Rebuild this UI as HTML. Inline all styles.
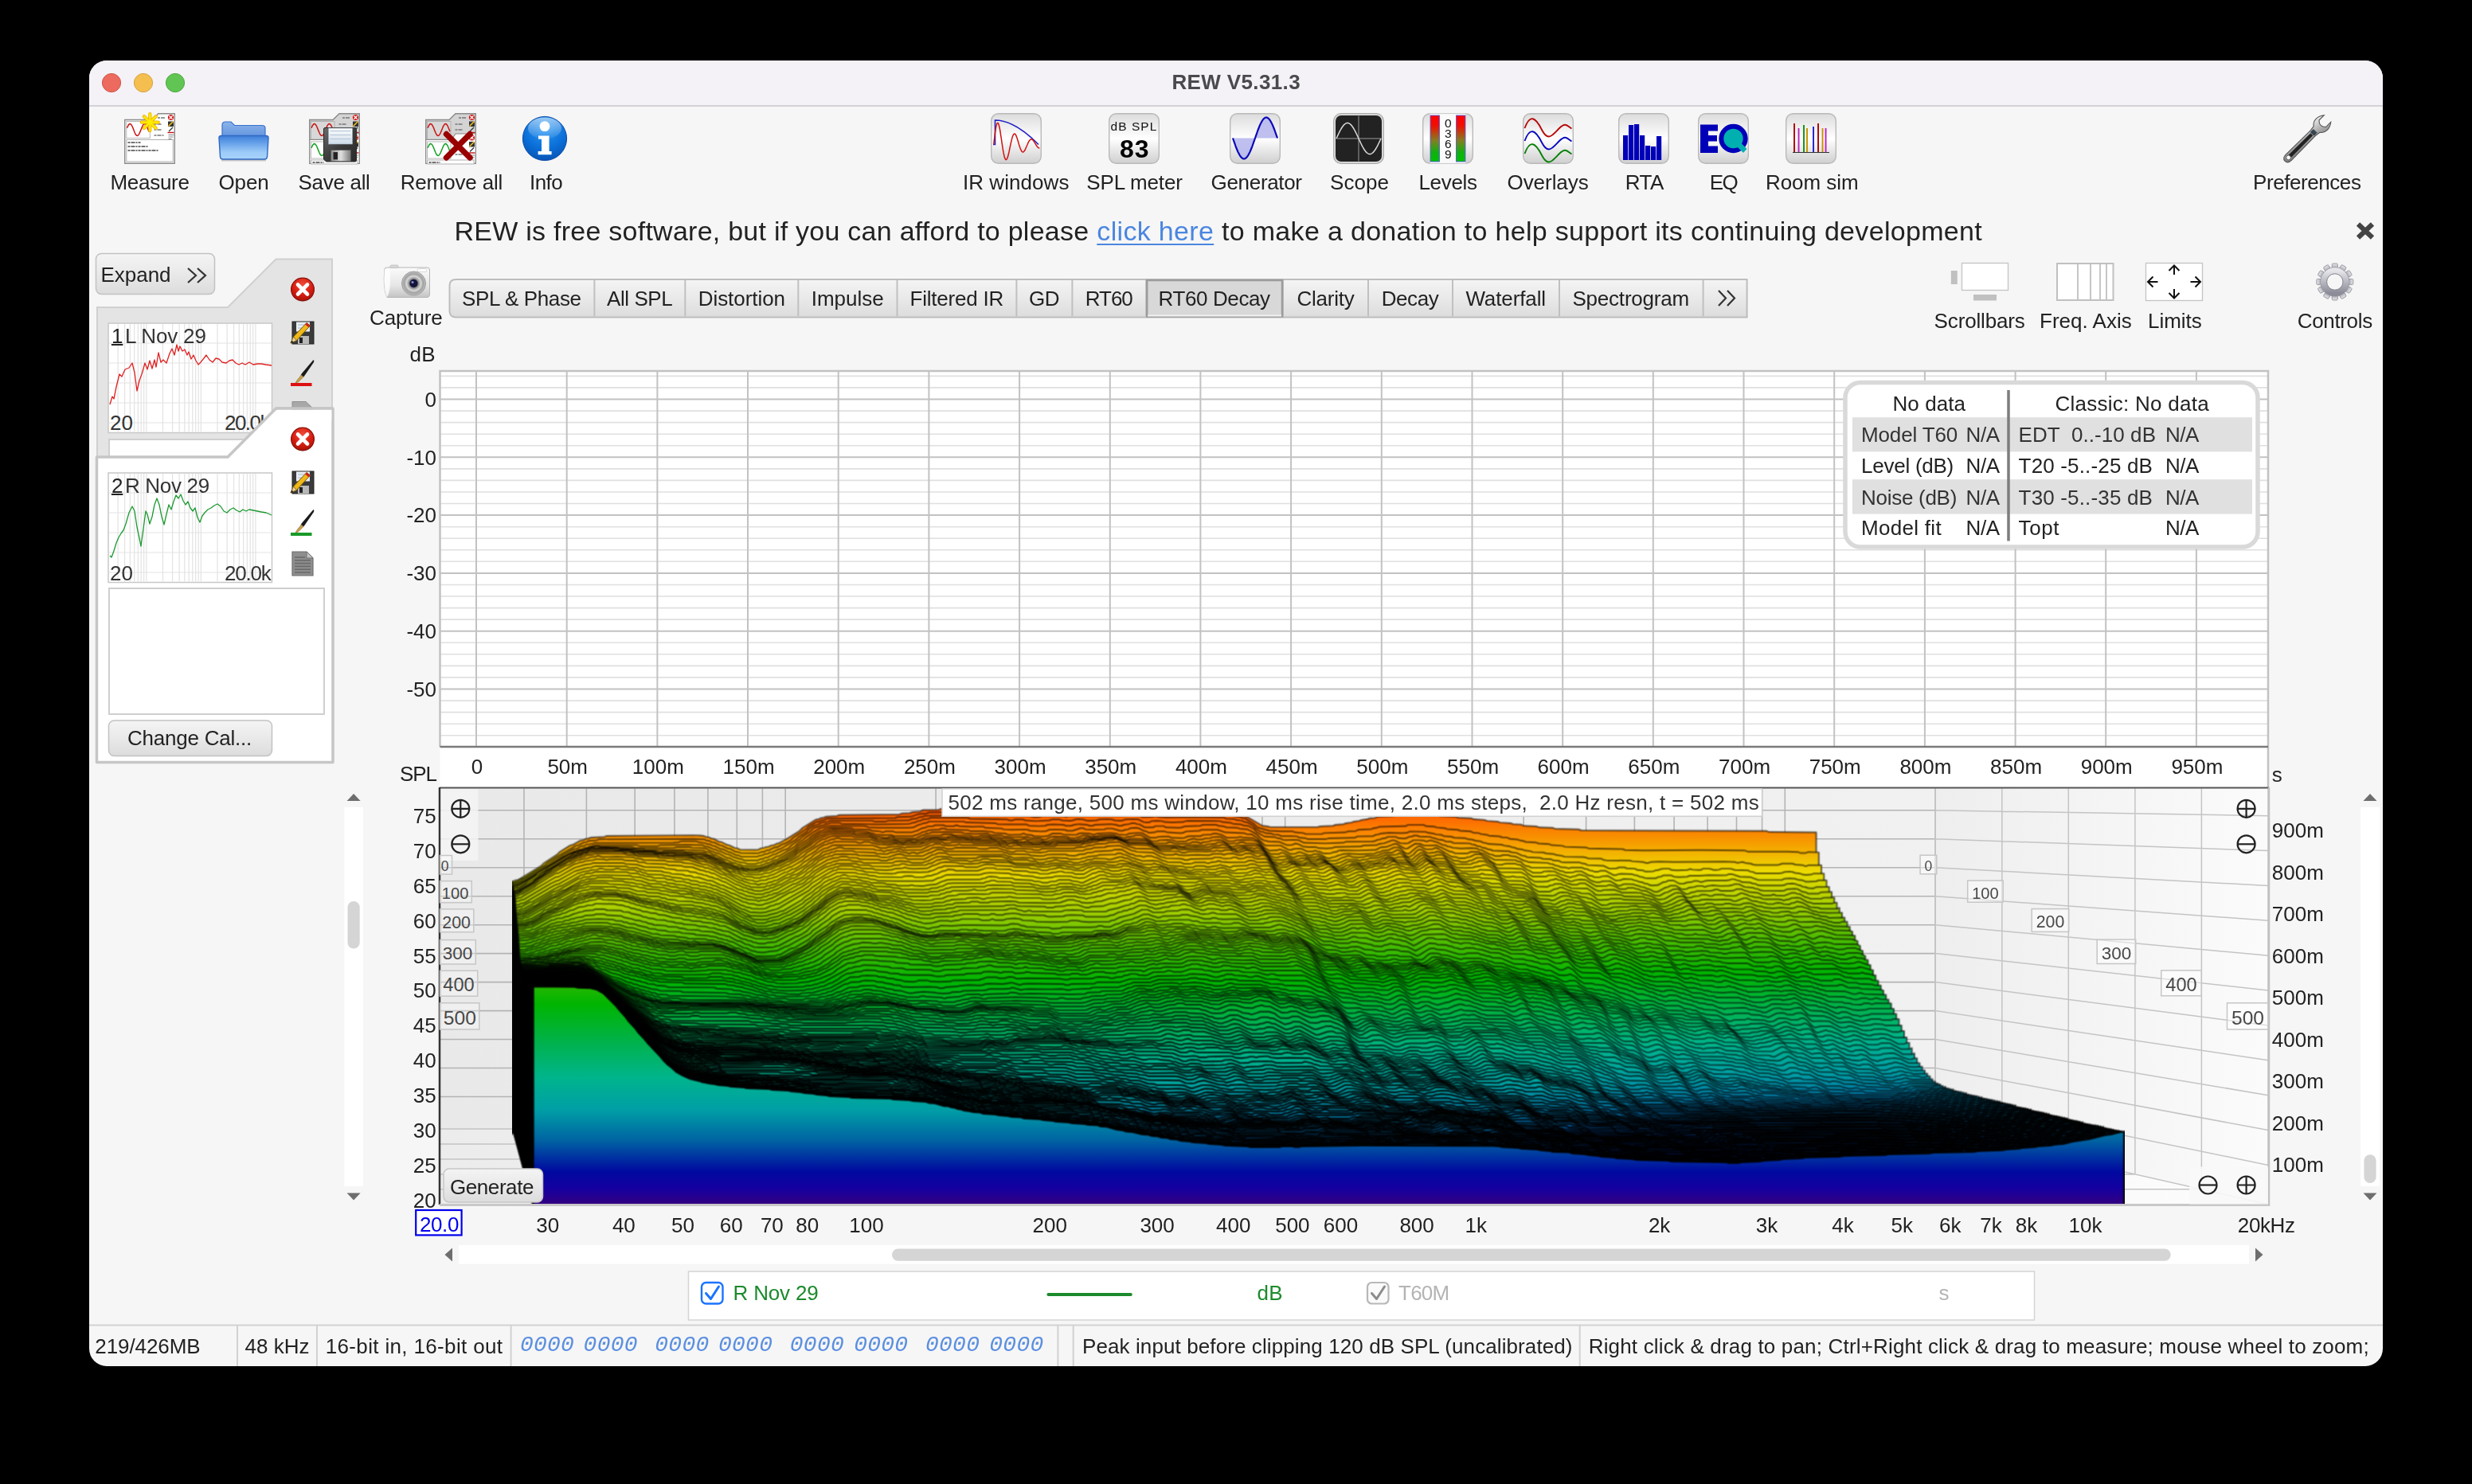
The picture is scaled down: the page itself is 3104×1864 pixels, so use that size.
<!DOCTYPE html>
<html><head><meta charset="utf-8"><title>REW V5.31.3</title><style>
html,body{margin:0;padding:0;background:#000;}
body{width:3104px;height:1864px;position:relative;overflow:hidden;font-family:"Liberation Sans",sans-serif;}
#win{position:absolute;left:112px;top:76px;width:2880px;height:1640px;border-radius:22px;background:#f6f6f6;overflow:hidden;}
#tb{position:absolute;left:0;top:0;width:2880px;height:56px;background:#f4f2f7;border-bottom:2px solid #d3d1d6;}
svg{position:absolute;left:0;top:0;}
.t{position:absolute;white-space:nowrap;line-height:1;}
#txt{position:absolute;left:0;top:0;width:3104px;height:1864px;opacity:0.999;}
</style></head><body>
<div id="win"><div id="tb"></div></div>
<svg width="3104" height="1864" viewBox="0 0 3104 1864">
<defs>
<linearGradient id="btn" x1="0" y1="0" x2="0" y2="1"><stop offset="0" stop-color="#f4f4f4"/><stop offset="0.5" stop-color="#e9e9e9"/><stop offset="1" stop-color="#dcdcdc"/></linearGradient>
<linearGradient id="ico" x1="0" y1="0" x2="0" y2="1"><stop offset="0" stop-color="#dcdcdc"/><stop offset="0.5" stop-color="#ffffff"/><stop offset="1" stop-color="#cfcfcf"/></linearGradient>
</defs>
<line x1="112.0" y1="1664.5" x2="2992.0" y2="1664.5" stroke="#d2d2d2" stroke-width="2" />
<line x1="298.0" y1="1665.0" x2="298.0" y2="1716.0" stroke="#d2d2d2" stroke-width="2" />
<line x1="398.0" y1="1665.0" x2="398.0" y2="1716.0" stroke="#d2d2d2" stroke-width="2" />
<line x1="641.6" y1="1665.0" x2="641.6" y2="1716.0" stroke="#d2d2d2" stroke-width="2" />
<line x1="1328.4" y1="1665.0" x2="1328.4" y2="1716.0" stroke="#d2d2d2" stroke-width="2" />
<line x1="1347.7" y1="1665.0" x2="1347.7" y2="1716.0" stroke="#d2d2d2" stroke-width="2" />
<line x1="1983.7" y1="1665.0" x2="1983.7" y2="1716.0" stroke="#d2d2d2" stroke-width="2" />
<circle cx="140" cy="104" r="11.6" fill="#ed6a5e" stroke="#d05347" stroke-width="1"/>
<circle cx="180" cy="104" r="11.6" fill="#f5bf4f" stroke="#d6a243" stroke-width="1"/>
<circle cx="220" cy="104" r="11.6" fill="#61c554" stroke="#4fa73f" stroke-width="1"/>
<rect x="120.5" y="318.5" width="149.0" height="51.0" fill="url(#btn)" stroke="#c2c2c2" stroke-width="1.5" rx="7" />
<path d="M236 337 l10 9 l-10 9 M248 337 l10 9 l-10 9" fill="none" stroke="#333" stroke-width="2.2"/>
<path d="M122 386 L286 386 L346.5 325.5 L417 325.5 L417 600 L122 600 Z" fill="#e4e4e4" stroke="#d0d0d0" stroke-width="2"/>
<rect x="136.0" y="406.0" width="205.5" height="137.5" fill="#fff" stroke="#c8c8c8" stroke-width="1.5" />
<path d="M148.1 407V542.5 M156.6 407V542.5 M163.3 407V542.5 M168.7 407V542.5 M173.3 407V542.5 M177.2 407V542.5 M180.7 407V542.5 M183.9 407V542.5 M204.5 407V542.5 M216.6 407V542.5 M225.1 407V542.5 M231.8 407V542.5 M237.2 407V542.5 M241.8 407V542.5 M245.7 407V542.5 M249.2 407V542.5 M252.4 407V542.5 M273.0 407V542.5 M285.1 407V542.5 M293.6 407V542.5 M300.3 407V542.5 M305.7 407V542.5 M310.3 407V542.5 M314.2 407V542.5 M317.7 407V542.5 M320.9 407V542.5 M137 431.0H340.5 M137 456.0H340.5 M137 481.0H340.5 M137 506.0H340.5 M137 531.0H340.5" stroke="#e3e3e3" stroke-width="1.2" fill="none"/>
<path d="M138.0 508.0 L141.0 498.0 L143.0 501.0 L146.0 486.0 L150.0 470.0 L153.0 473.0 L157.0 464.0 L162.0 462.0 L166.0 456.0 L169.0 468.0 L172.0 491.0 L175.0 478.0 L178.0 470.0 L182.0 456.0 L185.0 464.0 L188.0 453.0 L191.0 463.0 L194.0 452.0 L196.0 461.0 L199.0 443.0 L202.0 455.0 L205.0 452.0 L209.0 456.0 L213.0 444.0 L216.0 438.0 L219.0 446.0 L222.0 433.0 L224.0 441.0 L226.0 435.0 L229.0 441.0 L232.0 439.0 L235.0 446.0 L237.0 442.0 L240.0 451.0 L243.0 446.0 L246.0 453.0 L249.0 458.0 L252.0 455.0 L256.0 450.0 L259.0 446.0 L263.0 452.0 L267.0 455.0 L271.0 450.0 L275.0 451.0 L279.0 455.0 L284.0 456.0 L288.0 453.0 L292.0 452.0 L296.0 456.0 L300.0 458.0 L304.0 456.0 L308.0 458.0 L313.0 455.0 L318.0 458.0 L323.0 457.0 L328.0 457.0 L334.0 458.0 L341.0 459.0" fill="none" stroke="#e02020" stroke-width="1.3" stroke-linejoin="round"/>
<text x="138.0" y="540.0" font-family="'Liberation Sans', sans-serif" font-size="26" fill="#333" text-anchor="start" >20</text>
<text x="282.0" y="540.0" font-family="'Liberation Sans', sans-serif" font-size="26" fill="#333" text-anchor="start" textLength="57.5" lengthAdjust="spacing" >20.0k</text>
<rect x="137.0" y="552.0" width="270.0" height="30.0" fill="#fff" stroke="#cfcfcf" stroke-width="2" />
<path d="M121.5 574 L286 574 L346.5 513 L418 513 L418 957.5 L121.5 957.5 Z" fill="#fff" stroke="#c6c6c6" stroke-width="3.5" stroke-linejoin="round"/>
<rect x="136.0" y="594.0" width="205.5" height="137.5" fill="#fff" stroke="#c8c8c8" stroke-width="1.5" />
<path d="M148.1 595V730.5 M156.6 595V730.5 M163.3 595V730.5 M168.7 595V730.5 M173.3 595V730.5 M177.2 595V730.5 M180.7 595V730.5 M183.9 595V730.5 M204.5 595V730.5 M216.6 595V730.5 M225.1 595V730.5 M231.8 595V730.5 M237.2 595V730.5 M241.8 595V730.5 M245.7 595V730.5 M249.2 595V730.5 M252.4 595V730.5 M273.0 595V730.5 M285.1 595V730.5 M293.6 595V730.5 M300.3 595V730.5 M305.7 595V730.5 M310.3 595V730.5 M314.2 595V730.5 M317.7 595V730.5 M320.9 595V730.5 M137 619.0H340.5 M137 644.0H340.5 M137 669.0H340.5 M137 694.0H340.5 M137 719.0H340.5" stroke="#e3e3e3" stroke-width="1.2" fill="none"/>
<path d="M138.0 698.0 L140.0 700.0 L143.0 692.0 L146.0 682.0 L149.0 675.0 L152.0 670.0 L155.0 666.0 L158.0 658.0 L162.0 644.0 L166.0 636.0 L169.0 642.0 L172.0 662.0 L175.0 676.0 L177.0 686.0 L180.0 664.0 L183.0 642.0 L185.0 646.0 L188.0 658.0 L191.0 649.0 L194.0 634.0 L197.0 626.0 L200.0 634.0 L203.0 649.0 L206.0 659.0 L209.0 646.0 L212.0 634.0 L215.0 640.0 L218.0 630.0 L221.0 622.0 L224.0 626.0 L227.0 621.0 L230.0 629.0 L233.0 634.0 L236.0 630.0 L239.0 638.0 L242.0 642.0 L245.0 638.0 L248.0 650.0 L251.0 656.0 L254.0 648.0 L257.0 644.0 L261.0 640.0 L265.0 638.0 L269.0 635.0 L273.0 633.0 L277.0 636.0 L281.0 642.0 L285.0 644.0 L289.0 640.0 L293.0 638.0 L297.0 641.0 L301.0 643.0 L305.0 640.0 L309.0 642.0 L313.0 640.0 L318.0 641.0 L323.0 642.0 L328.0 643.0 L334.0 644.0 L341.0 647.0" fill="none" stroke="#1c9a30" stroke-width="1.3" stroke-linejoin="round"/>
<rect x="137.0" y="739.0" width="270.0" height="158.0" fill="#fff" stroke="#cfcfcf" stroke-width="2" />
<rect x="136.5" y="905.0" width="205.0" height="44.5" fill="url(#btn)" stroke="#c2c2c2" stroke-width="1.5" rx="7" />
<path d="M572.5 351 H2193.6 V398.5 H572.5 Q564.5 398.5 564.5 390.5 V359 Q564.5 351 572.5 351 Z" fill="url(#btn)" stroke="#bdbdbd" stroke-width="2"/>
<line x1="746.4" y1="352.0" x2="746.4" y2="397.5" stroke="#c0c0c0" stroke-width="2" />
<line x1="860.3" y1="352.0" x2="860.3" y2="397.5" stroke="#c0c0c0" stroke-width="2" />
<line x1="1002.3" y1="352.0" x2="1002.3" y2="397.5" stroke="#c0c0c0" stroke-width="2" />
<line x1="1126.5" y1="352.0" x2="1126.5" y2="397.5" stroke="#c0c0c0" stroke-width="2" />
<line x1="1276.4" y1="352.0" x2="1276.4" y2="397.5" stroke="#c0c0c0" stroke-width="2" />
<line x1="1346.4" y1="352.0" x2="1346.4" y2="397.5" stroke="#c0c0c0" stroke-width="2" />
<line x1="1439.2" y1="352.0" x2="1439.2" y2="397.5" stroke="#c0c0c0" stroke-width="2" />
<line x1="1611.0" y1="352.0" x2="1611.0" y2="397.5" stroke="#c0c0c0" stroke-width="2" />
<line x1="1718.0" y1="352.0" x2="1718.0" y2="397.5" stroke="#c0c0c0" stroke-width="2" />
<line x1="1824.0" y1="352.0" x2="1824.0" y2="397.5" stroke="#c0c0c0" stroke-width="2" />
<line x1="1958.0" y1="352.0" x2="1958.0" y2="397.5" stroke="#c0c0c0" stroke-width="2" />
<line x1="2138.6" y1="352.0" x2="2138.6" y2="397.5" stroke="#c0c0c0" stroke-width="2" />
<rect x="1440.2" y="352.0" width="169.8" height="45.5" fill="#d8d8d8" stroke="#9c9c9c" stroke-width="2.5" />
<line x1="1441.2" y1="396.5" x2="1609.0" y2="396.5" stroke="#f2f2f2" stroke-width="2" />
<path d="M2158 365 l9 9.5 l-9 9.5 M2169 365 l9 9.5 l-9 9.5" fill="none" stroke="#333" stroke-width="2.2"/>
<rect x="552.5" y="466.0" width="2295.5" height="472.0" fill="#fff" />
<rect x="552.5" y="938.0" width="2295.5" height="52.0" fill="#fff" />
<path d="M552.5 472.4H2848 M552.5 486.9H2848 M552.5 516.1H2848 M552.5 530.6H2848 M552.5 545.2H2848 M552.5 559.7H2848 M552.5 588.9H2848 M552.5 603.4H2848 M552.5 618.0H2848 M552.5 632.5H2848 M552.5 661.7H2848 M552.5 676.2H2848 M552.5 690.8H2848 M552.5 705.3H2848 M552.5 734.5H2848 M552.5 749.0H2848 M552.5 763.6H2848 M552.5 778.1H2848 M552.5 807.3H2848 M552.5 821.8H2848 M552.5 836.4H2848 M552.5 850.9H2848 M552.5 880.1H2848 M552.5 894.6H2848 M552.5 909.2H2848 M552.5 923.7H2848" stroke="#e0e0e0" stroke-width="1.6" fill="none"/>
<path d="M552.5 501.5H2848 M552.5 574.3H2848 M552.5 647.1H2848 M552.5 719.9H2848 M552.5 792.7H2848 M552.5 865.5H2848" stroke="#c2c2c2" stroke-width="2" fill="none"/>
<path d="M598.0 466V938 M711.7 466V938 M825.4 466V938 M939.0 466V938 M1052.7 466V938 M1166.4 466V938 M1280.1 466V938 M1393.8 466V938 M1507.4 466V938 M1621.1 466V938 M1734.8 466V938 M1848.5 466V938 M1962.2 466V938 M2075.8 466V938 M2189.5 466V938 M2303.2 466V938 M2416.9 466V938 M2530.6 466V938 M2644.2 466V938 M2757.9 466V938" stroke="#c2c2c2" stroke-width="2" fill="none"/>
<path d="M552.5 938 V466 H2848 V990" fill="none" stroke="#c2c2c2" stroke-width="2.5"/>
<line x1="552.5" y1="938.0" x2="2848.0" y2="938.0" stroke="#7a7a7a" stroke-width="2.5" />
<rect x="2317.0" y="480.5" width="518.0" height="206.5" fill="#fff" stroke="#d9d9d9" stroke-width="5.5" rx="19" />
<rect x="2326.0" y="524.2" width="502.0" height="43.2" fill="#e0e0e0" />
<rect x="2326.0" y="602.2" width="502.0" height="43.4" fill="#e0e0e0" />
<line x1="2522.0" y1="490.0" x2="2522.0" y2="679.5" stroke="#7d7d7d" stroke-width="3.5" />
<defs>
<linearGradient id="bw" x1="552" y1="0" x2="2430" y2="0" gradientUnits="userSpaceOnUse"><stop offset="0" stop-color="#e9e9e9"/><stop offset="0.6" stop-color="#ededed"/><stop offset="1" stop-color="#f1f1f1"/></linearGradient>
<linearGradient id="rw" x1="2430" y1="0" x2="2848" y2="0" gradientUnits="userSpaceOnUse"><stop offset="0" stop-color="#eeeeee"/><stop offset="1" stop-color="#fbfbfb"/></linearGradient>
<linearGradient id="fl" x1="552" y1="0" x2="2848" y2="0" gradientUnits="userSpaceOnUse"><stop offset="0" stop-color="#ececec"/><stop offset="0.8" stop-color="#f7f7f7"/><stop offset="1" stop-color="#fdfdfd"/></linearGradient>
<clipPath id="wfclip"><rect x="552" y="990.3" width="2296" height="522.5"/></clipPath>
</defs>
<g clip-path="url(#wfclip)">
<rect x="552.0" y="990.3" width="1878.2" height="427.7" fill="url(#bw)" />
<path d="M2430.2 990.3 L2848.0 990.3 L2848.0 1512.8 L2430.2 1418.0 Z" fill="url(#rw)"/>
<path d="M552 1418.0 L2430.2 1418.0 L2848.0 1512.8 L552 1512.8 Z" fill="url(#fl)"/>
<path d="M552 1377.5H2430.2 M552 1341.5H2430.2 M552 1305.5H2430.2 M552 1269.6H2430.2 M552 1233.6H2430.2 M552 1197.6H2430.2 M552 1161.7H2430.2 M552 1125.7H2430.2 M552 1089.7H2430.2 M552 1053.7H2430.2 M552 1017.8H2430.2 M658.0 990.3V1418.0 M736.4 990.3V1418.0 M797.2 990.3V1418.0 M846.9 990.3V1418.0 M888.9 990.3V1418.0 M925.3 990.3V1418.0 M957.4 990.3V1418.0 M986.2 990.3V1418.0 M1175.1 990.3V1418.0 M1285.6 990.3V1418.0 M1364.0 990.3V1418.0 M1424.8 990.3V1418.0 M1474.5 990.3V1418.0 M1516.5 990.3V1418.0 M1552.9 990.3V1418.0 M1585.0 990.3V1418.0 M1613.7 990.3V1418.0 M1802.6 990.3V1418.0 M1913.2 990.3V1418.0 M1991.6 990.3V1418.0 M2052.4 990.3V1418.0 M2102.1 990.3V1418.0 M2144.1 990.3V1418.0 M2180.5 990.3V1418.0 M2212.6 990.3V1418.0 M2241.3 990.3V1418.0 M2430.2 990.3V1418.0" stroke="#b4b4b4" stroke-width="1.6" fill="none"/>
<path d="M552 1418.0H2430.2 M2430.2 1418.0V990.3 M552 1436.9H2513.8 M2513.8 1436.9V990.3 M552 1455.9H2597.3 M2597.3 1455.9V990.3 M552 1474.9H2680.9 M2680.9 1474.9V990.3 M552 1493.8H2764.4 M2764.4 1493.8V990.3 M552 1512.8H2848.0 M2848.0 1512.8V990.3 M2430.2 1377.5L2848.0 1463.4 M2430.2 1341.5L2848.0 1419.6 M2430.2 1305.5L2848.0 1375.7 M2430.2 1269.6L2848.0 1331.8 M2430.2 1233.6L2848.0 1288.0 M2430.2 1197.6L2848.0 1244.1 M2430.2 1161.7L2848.0 1200.2 M2430.2 1125.7L2848.0 1156.3 M2430.2 1089.7L2848.0 1112.5 M2430.2 1053.7L2848.0 1068.6 M2430.2 1017.8L2848.0 1024.7 M2430.2 1418.0L2848.0 1512.8" stroke="#c4c4c4" stroke-width="1.5" fill="none"/>
</g>
<defs><linearGradient id="wg" x1="0" y1="1996" x2="0" y2="3025" gradientUnits="userSpaceOnUse">
<stop offset="0" stop-color="#ff3000"/>
<stop offset="0.055" stop-color="#ff5a00"/>
<stop offset="0.145" stop-color="#f79a00"/>
<stop offset="0.235" stop-color="#ecdc00"/>
<stop offset="0.33" stop-color="#a4cf00"/>
<stop offset="0.42" stop-color="#4cbc00"/>
<stop offset="0.51" stop-color="#00b400"/>
<stop offset="0.60" stop-color="#00b248"/>
<stop offset="0.69" stop-color="#00b48c"/>
<stop offset="0.77" stop-color="#009ea6"/>
<stop offset="0.845" stop-color="#0062a2"/>
<stop offset="0.92" stop-color="#0008a0"/>
<stop offset="0.96" stop-color="#1400a0"/>
<stop offset="1" stop-color="#340080"/>
</linearGradient></defs>
<filter id="wfb" x="0" y="0" width="1" height="1" color-interpolation-filters="sRGB"><feConvolveMatrix order="3" kernelMatrix="1 2 1 2 4 2 1 2 1" divisor="16" edgeMode="duplicate"/></filter><g clip-path="url(#wfclip)"><g filter="url(#wfb)" fill="url(#wg)" stroke="#000" stroke-linejoin="round">
<path transform="matrix(0.41000 0 0 0.41000 94.86 177.48)" stroke-width="4.76" stroke-opacity="0.62" d="M1339 3028V2268l8-4 8-1 56-34 16-10 8-8 40-26 8-8 32-20 8-2 24-13 8-1 8-4 8-1 8-3 40-2 8-3 264-2 24 1 8 1 8 3 8 1 8 4 8 1 16 9 8 1 16 8 8 2 16 8 8 1 8 4 48 1 8-1 8-4 8-1 8-3 8-1 8-4 8-1 8-4 8-2 24-13 32-20 8-6 8-8 32-20 8-5 8-1 8-4 8-1 8-3 32-2 8-3 184-2 8-3 24-1 8-3 24-2 8-4 48-1 8-3 88-2 8-3 56-1 88 1 8 3 104 1 152-1 8-3 64 0 8 3 168 2 8 3 88 2 8 3 40 2 8 3 8 2 16 7 8 2 48 28 16 2 8 2 144 0 8-2 40-2 8-3 24-2 8-3 16-2 8-3 16-2 8-3 16-2 8-3 16-1 8-4 48-2 8-3 56-2 8-2 8 0 8 2 48 2 8 3 48 2 8 3 40 2 8 3 32 2 8 3 32 2 8 3 32 2 8 3 24 1 8 4 40 2 8 3 40 1 8 3 72 2 8 3 568 2 8 3 144 1V3028z"/>
<path transform="matrix(0.41076 0 0 0.41076 94.06 175.98)" stroke-width="4.75" stroke-opacity="0.62" d="M1339 3028V2270l8-1 16-9 8-2 64-39 8-8 48-30 40-23 8-2 16-8 8-1 8-4 24-2 8-3 288-1 24 1 8 0 8 4 8 1 8 4 8 1 16 8 8 2 16 8 8 1 16 9 8 1 8 3 48 1 8-1 8-3 8-1 8-4 8-1 16-8 8-1 16-9 8-2 16-9 8-8 40-27 8-8 16-10 8-4 8-1 8-4 8-1 8-4 208-2 8-3 40-1 24-8 24-2 8-3 136-2 8-3 8 0 8 3 16 0 8-3 24 0 8 0 8 3 192 1 168-1 8 0 8-3 16 0 8 3 32 1 56 1 8 3 40 0 8-3 16 0 8 0 8 3 96 1 8 3 24 2 8 3 16 2 8 4 8 1 24 15 8 8 8 5 32 9 40 2 32 0 8 3 24 2 8 3 48 0 8-3 64-2 8-3 24-1 8-4 40-2 8-3 8-1 8-3 72-2 8 0 8-4 40 0 8 0 8 4 24 1 8 3 24 2 8 3 32 2 8 3 32 2 8 4 16 1 8 3 16 2 8 3 32 2 8 3 16 1 8 4 24 2 8 3 8 1 8 3 32 2 8 3 32 2 8 3 32 2 8 3 64 2 8 3 104 2 8 3 56 1 176-1 128 1 8 1 8 3 8 0 112 0 32 1 8 3 16 0 8-3 32 1V3028z"/>
<path transform="matrix(0.41152 0 0 0.41152 93.26 174.49)" stroke-width="4.74" stroke-opacity="0.62" d="M1339 3028V2274l8-3 8-2 16-9 48-28 72-46 32-18 8-1 16-8 8-1 8-4 16-2 8-3 240-1 16-1 8-3 48 0 8 3 16 2 8 3 8 1 8 4 8 2 16 8 8 1 16 8 8 2 16 8 8 1 8 4 48 0 8-3 8-1 8-4 8-1 8-4 8-1 16-8 8-2 24-14 24-15 8-8 24-16 8-9 8-5 8-5 8-1 16-8 16-2 8-3 128 0 8 3 16 0 16 0 8-3 56-1 8 0 8-4 16-2 8-4 8 0 8-4 72-1 8-3 8 0 32 0 8 2 24 0 8-2 8 3 8 0 120 1 24 1 8 2 8 1 16-1 8-3 16 0 48 1 8 2 8-3 24-1 128 1 24-1 8-3 8 2 24 2 8 4 8 0 24-1 8-2 8 2 24 2 64-1 104 1 8 0 8 4 24 1 8 3 16 2 8 4 8 1 16 9 8 8 16 11 8 1 8 4 16 1 8 3 16 1 8 4 32 0 16 1 8 4 16 1 8 3 56 0 8-2 80-2 8-4 48-1 8-4 8-1 8-3 24-2 40 1 16-1 8-4 8 0 40 1 8 3 16 2 8 3 16 1 8 4 24 2 8 3 32 1 8 3 16 2 8 3 16 2 8 4 8 1 8 3 40 2 8 3 16 2 8 3 8 1 8 4 16 2 8 3 16 2 8 3 32 1 8 3 24 2 8 3 16 2 8 3 56 1 8 1 8 3 40 1 8 4 8 1 72 1 8 2 32 2 8 3 8 0 8-3 24-1 48 1 152-1 32 1 8 3 8-2 8-1 8 3 16 2 8 3 8 1 64 0 8-1 8-3 16 0 16 0 8 3 24 2 8 3 8-3 40 0V3028z"/>
<path transform="matrix(0.41228 0 0 0.41228 92.46 172.99)" stroke-width="4.73" stroke-opacity="0.62" d="M1339 3028V2276l8-1 16-8 8-2 120-73 32-18 8-1 8-4 8-1 8-4 8-1 8-4 8-1 8-3 128 0 8 3 24 0 32 0 8-3 8 0 72-1 48 1 8 4 8 1 16 7 8 2 8 4 8 1 16 8 8 2 16 8 8 2 8 3 8 1 8 4 40 0 8-4 8-1 8-4 8-1 16-8 8-2 24-12 8-2 8-5 8-8 24-17 8-8 24-16 8-8 8-5 8-1 8-4 8-1 8-4 8-1 8-3 24 0 8 3 112 2 88-1 8-1 8-3 8-1 8-4 8-1 8-4 16-2 8-3 8 0 96 0 8 0 8 3 112 2 8 3 8 0 8-3 24 0 8 3 32 2 40-2 8-3 8 0 16 0 8 3 24 1 8-1 8-3 8-1 16 1 8 3 8 1 24-1 8-3 24-1 16 1 8 3 16 1 8-1 8-3 24-1 16 1 16 8 8 1 8 0 8-4 16-1 16 1 8 3 24 1 32-1 8-3 8-1 96 1 8 3 24 2 8 3 24 2 8 3 16 2 16 9 8 9 8 5 16 9 32 2 8 3 8 1 8 4 8 1 24-1 16 1 16 8 64 2 56-2 8-3 80-1 8-1 8-4 8-1 8-3 8-1 8-4 24 0 8 4 16 1 8-1 8-4 8-1 8-3 8 0 8 3 32 1 8 3 8 2 8 3 16 2 8 4 16 1 8 4 48 1 8 3 8 1 8 4 8 1 8 4 8 1 8 4 8 1 8 3 48 2 8 3 16 2 16 8 8 1 8 4 40 2 8 3 24 1 8 4 16 1 8 4 8 1 48 0 8 3 8 1 8 4 48 2 16 8 8 1 16-1 8-3 16 0 8 3 24 1 8 4 16 1 8 4 8 0 16-1 8-3 8-1 8-3 8-1 16 0 8 4 16 1 32-1 8-3 8 2 16 1 8 0 8-4 16 0 8 1 8 3 8 0 8-1 8-3 24 0 8 1 8 3 40 1 8 4 8 1 8 4 8 0 64 0 8-1 8-3 16-1 8 1 8 3 16 2 8 3 8 1 16-1 8-3 32 0V3028z"/>
<path transform="matrix(0.41304 0 0 0.41304 91.66 171.49)" stroke-width="4.72" stroke-opacity="0.62" d="M1339 3028V2280l8-4 8-1 8-5 128-77 24-13 8-2 8-4 8-1 8-3 8-1 8-4 8-1 8-4 112 0 8 1 8 2 64 1 56-1 8-2 32 0 8 0 8 2 32 1 8 1 16 8 8 2 8 4 8 1 24 13 8 1 16 8 8 2 8 3 16 2 8 3 24 0 8-3 8-1 8-4 8-1 8-4 8-1 16-9 8-1 40-24 8-5 8-9 16-11 8-7 24-17 24-13 8-1 8-4 16-1 96 1 8 1 8 3 32 1 88 0 16-1 16-8 8-2 8-3 8-1 8-4 24 0 80 0 8 3 88 2 8 3 32 1 48 0 8 0 8 4 32 1 16-1 8-3 16-1 32 1 8 3 16 0 8-3 16-2 24 2 8 3 8 0 8-3 48-2 16 2 8 3 8 0 8-3 16-2 8-3 8 0 8 3 8 1 16 9 8 0 16 0 8-4 8 0 16 0 8 4 40 1 8-1 8-3 48-2 8-3 40 0 8 3 16 2 8 3 32 1 8 3 24 2 16 8 8 5 8 6 8 9 8 5 16 4 32 1 24 10 16-1 8-4 8 1 16 8 16 2 24 0 8 3 24 1 16-1 8-3 16-1 56-1 8 0 8-3 40-1 8-4 16-2 24-9 8 1 16 8 16 1 8-1 16-9 16 0 16 1 8 3 8-3 8 0 8 3 8 2 16 8 8 1 8 4 8 1 8 3 24 2 32-1 16 1 8 4 8 1 24 13 8 1 8 4 16 0 8-3 8 0 8 0 8 3 16 2 24 12 8 2 8 3 56 2 8 3 8 1 8 4 8 1 8 4 16 1 8 3 8-3 32 0 8 4 8 1 8 4 8 1 8 3 8 0 8-3 16 0 24 13 8 0 8-3 8-1 32 1 8 3 8 1 8 4 8 1 8 3 8 1 24 0 8-4 8-1 8-4 8 0 16 0 8 4 16 1 24-1 8-3 32 0 24-2 40 1 16-1 8-3 8 0 24 8 32 1 24 9 64 0 8 0 8-4 16-1 16 1 8 3 16 2 8 4 8 0 24-1 8-3 24 0V3028z"/>
<path transform="matrix(0.41380 0 0 0.41380 90.86 169.99)" stroke-width="4.71" stroke-opacity="0.62" d="M1339 3028V2281l8-4 8-1 8-5 112-68 8-8 8-5 8-2 24-12 8-1 8-4 16-2 8-4 8-1 8-3 48 0 8 3 96 2 8 3 120 0 56 2 8 4 8 1 16 8 8 2 24 12 8 2 16 8 8 1 8 4 8 1 8 4 48 0 8-3 8-2 8-4 8-1 16-8 8-1 16-9 32-19 8-6 8-9 32-21 8-8 8-5 16-9 8-2 16-8 16-1 56 1 8 3 48 2 8 3 24 2 8 3 8-3 16 0 8 0 8 3 40 0 8 0 8-3 8-2 16-8 8-1 8-4 16-1 8-3 16 0 8 0 8 3 24 0 8-3 8 3 40 2 32-1 8 4 48 2 8 3 24 1 40-1 8 1 8 3 32 2 16-1 8-4 16-1 32 1 8 3 16 0 24-8 8 0 8 4 24 1 32-1 8-3 16 0 24 7 8 0 8-3 8-1 8-4 16-1 8 1 16 8 8 2 8 4 16-1 8-3 16 0 8 0 8 3 40 2 8-1 8-4 40-2 8-3 48 0 24 8 56 2 8 3 16 1 16 10 8 9 16 14 8 1 40 0 24 13 8 0 8-3 16-1 8 1 16 8 16 0 8-3 8 3 8 1 8 4 8 1 16-1 8-3 8-1 8-4 8-1 48 1 56-2 16-8 16-1 24-9 8 0 24 14 8 0 24-15 16 1 8 4 8 1 32-1 8 4 8 3 24 12 8 1 8 4 32 1 8-1 8-4 24 0 8 4 8 2 32 18 64 1 8 4 8 1 8 8 8 5 8 1 8 4 64 0 8 4 8 2 8 4 8 1 8 4 8 0 16-1 8-3 16 0 24 13 8 1 8 4 16 0 8-3 16-1 24 14 16-1 8-4 24 1 8 3 8 2 8 3 8 1 8 4 8 1 8 4 8 1 16-1 16-9 8-1 8-4 16 0 16 9 8 1 8-1 8-3 16-2 8-3 8 0 8 3 8 0 8-3 8-1 56 0 8-1 8-3 8 0 8 3 8 2 8 4 24 1 8 3 8 1 8 4 8 1 64 0 8-1 8-4 16-1 8 1 8 3 8 2 8 4 8 1 8 3 16 1 8-4 40-1V3028z"/>
<path transform="matrix(0.41456 0 0 0.41456 90.06 168.50)" stroke-width="4.70" stroke-opacity="0.62" d="M1339 3028V2282l8-1 16-9 40-25 8-8 8-5 88-53 8-1 16-8 16-2 8-4 8-1 8-3 8-1 8-3 8 0 8 3 48 1 8 3 48 2 8 3 56 2 8 3 8 0 8-3 56 0 8 3 56 2 16 8 8 1 16 8 8 2 24 13 8 1 16 8 16 2 8 4 40 0 8 0 8-4 8-1 8-4 8-1 16-9 8-1 8-4 40-24 8-6 8-8 32-21 8-8 8-5 16-10 8-1 16-8 16-2 56 2 8 3 40 2 8 3 8 2 8 3 24 2 24-1 8 4 8 0 40 0 8 0 8-3 8-2 16-8 8-1 8-4 32-2 8-3 8 0 8 3 64 2 8 3 40 0 24 2 8 3 32 2 8 3 8 1 32-1 8-3 8 3 16 2 8 3 24 1 16-1 16-8 24 0 8 3 32 1 8 0 8-4 8-1 24 1 8 3 8 0 8-3 40-2 16 2 8 3 16 1 8 0 8-4 24-2 16 1 24 14 16 0 8-3 16-1 16 0 8 4 32 1 8-1 8-4 8-1 32 0 8-4 24-1 8-3 8 0 16 4 16 9 32-1 8-2 8 2 32 2 16 9 16 19 16 10 24-1 8-3 16 5 16 9 16-1 8-4 8 0 24 9 8 0 8-4 16 0 24 13 8 0 8-3 8-1 8-4 8-2 8-3 16-1 32 2 48-2 8-4 8-1 8-4 16-1 16-8 8-1 8 0 8 5 8 9 8 5 8 0 16-14 8-6 8-3 16 9 8 1 16-1 8-4 8 3 40 24 16 2 8 3 16 0 8-3 8-1 16-8 16 0 24 14 8 8 16 9 16 1 8-3 8-1 24 0 8 3 8 1 24 16 16 8 24 0 8-4 16-1 16 1 16 8 32 10 8-3 8-1 8-4 8 0 16 5 8 8 8 5 16 5 8 0 8-3 24-1 24 14 8 0 8-4 8-1 24 1 8 3 8 2 8 3 8 1 8 4 8 2 16 8 8 0 24-13 8-2 8-4 16 0 16 10 8 1 8-1 8-4 16-2 8-3 16 0 8 3 8-3 16-2 24 2 24-1 8-1 8-3 8-1 8 1 16 8 24 2 8 3 8 1 8 4 8 1 56 1 8-1 8-4 24-2 8 1 16 9 8 1 8 4 24 0 8 0 8-4 32-1V3028z"/>
<path transform="matrix(0.41532 0 0 0.41532 89.26 167.00)" stroke-width="4.70" stroke-opacity="0.62" d="M1339 3028V2287l8-4 8-1 16-10 8-8 56-35 8-8 64-39 80-24 8 0 8 3 48 2 8 3 40 2 8 3 56 2 8 3 96 1 8 1 8 3 32 1 8 3 8 2 16 8 8 2 24 13 8 1 16 8 8 1 8 4 24 2 8 3 16 0 8-3 16-2 8-3 8-2 16-8 8-1 16-8 8-2 32-19 8-8 40-26 8-8 8-6 16-9 8-1 16-9 16-1 48 1 8 1 8 3 40 1 24 9 16 2 8 2 8 0 8-3 8 0 8 4 8 0 40 1 16-1 16-8 8-2 8-4 8-1 8-3 40-1 48 1 8 3 32 2 40-1 8 4 32 1 8 4 32 2 40-1 8 3 32 2 8 3 8 0 16-8 8-1 40 1 8 3 16 1 24-8 16 0 8 3 8 0 8 0 8-3 40-2 8 1 8 4 8 1 8 3 8 0 8-3 16-2 8-3 8 0 8 0 8 4 24 14 16 0 8-3 24-1 16 1 8 3 24 1 8-1 8-4 16-4 8 3 16 0 8-3 16-1 8-3 16-1 8 0 24 13 16 0 8-3 16-1 32 1 16 4 24 28 16 10 24 0 8-4 8 1 24 12 8 1 8-4 8-1 16 0 8 4 8 1 16-1 8-3 16 5 8 8 16 2 16-2 16-8 8-2 8-3 8 0 8 3 16 1 16-1 8-3 32-1 24-9 24-1 16-8 8 4 8 5 8 8 8 5 8-3 8-5 8-9 8-6 8 1 16 9 8 1 16-2 8-3 16 5 8 8 24 14 16 2 8 3 16 0 8-4 8-1 16-8 16 0 24 14 8 5 8 9 8 4 40 0 32 2 8 5 8 8 16 10 32 0 8 0 8-4 24 0 24 13 8 1 8 4 8 0 8-3 16-2 16 1 24 15 8 4 32-1 8-3 16 4 16 9 16 0 8-4 16 0 8 3 8 1 8 4 16 2 24 13 8 1 8 0 16-9 8-2 16-8 8-1 8 0 24 15 8-1 8-4 8-1 8-3 40-1 8-1 8-3 8 0 8 4 32 0 8-1 8-4 8 0 8 0 8 4 8 2 8 3 24 2 16 8 8 0 16 0 8-3 8 3 24 1 24-9 8 0 8 3 8 1 16 9 8 2 8 3 24 0 8 0 8-3 32-1V3028z"/>
<path transform="matrix(0.41607 0 0 0.41607 88.46 165.50)" stroke-width="4.69" stroke-opacity="0.62" d="M1339 3028V2292l16-8 32-20 24-15 8-8 88-54 16-9 8-1 8-4 8-1 8-3 8-2 8-3 24-2 56 2 8 3 32 1 8 4 56 1 8 4 96 2 8 2 40 2 8 3 8 1 8 4 8 2 24 13 8 1 16 9 8 1 16 8 16 1 8 4 40 0 8-1 8-3 8-1 8-4 8-1 16-8 8-2 24-13 8-1 16-10 8-8 16-11 24-15 8-7 8-6 16-9 8-2 16-8 16-1 48 1 8 1 8 3 32 0 8 1 24 9 16 1 32 0 8 3 16 1 48-1 8-3 8-2 16-8 40-1 8-3 16 0 8 0 8 3 48 1 8 3 8 1 8 0 8-4 24 1 8 3 24 1 8 3 32 2 8 3 16 0 8-3 8 0 8 3 40 2 8 3 8 0 24-9 40 1 8 3 16 1 8-4 16-2 8-3 8 0 8 3 8-3 48-1 16 0 8 4 8 2 8 3 8 0 8-3 16-1 32 1 24 13 8 1 32-1 8-3 8 0 8 3 24 2 24-2 8-4 16 1 8 3 8-3 16-2 8-3 24-2 8 1 16 9 8 1 24-1 8-3 8 0 8 3 32 1 16 10 16 19 8 8 16 5 8 0 8-3 16-1 24 10 8 0 8-1 8-3 16 0 8 3 8 1 16-1 8-3 8 3 24 14 8 1 8-1 8-3 8-2 16-8 24 0 8 1 8 3 8-3 16-2 8-3 24-1 8-4 8-2 8-3 24 0 8-1 8-4 8 4 24 15 8-1 8-8 16-11 8 0 16 10 16 0 8-4 16 0 8 5 8 8 8 6 16 9 24 1 24-1 8-4 8-1 8-4 16 0 24 14 8 5 8 9 8 5 64 1 16 9 8 9 16 10 24 0 16-1 8-4 8-1 8-3 8 4 8 1 16 8 8 2 8 3 16 0 8-4 16 0 32 20 8 3 8 0 8-3 32-1 24 9 40 0 16 1 8 4 24 6 16 8 8 2 16-2 32-18 8-1 8 1 8 5 8 8 8 1 8 0 8-4 16-1 8-4 8 0 8 1 8 3 8 0 8-4 8 0 16 0 8 3 24 1 8-1 16-8 16 5 8 4 8 1 8 3 16 1 8 4 8 1 40 0 8 1 8 3 8-3 8-1 8-4 16-1 8 1 24 13 8 1 8 3 56 0 8-2 8-1V3028z"/>
<path transform="matrix(0.41683 0 0 0.41683 87.66 164.00)" stroke-width="4.68" stroke-opacity="0.62" d="M1339 3028V2294l8-4 8-2 32-19 8-5 8-8 24-16 8-8 72-44 8-4 8-1 8-4 24-6 16-8 8-1 64 1 8 3 40 2 8 3 56 1 8 4 56 1 8 3 40 1 16 1 8 3 24 1 8 4 8 1 24 13 8 2 24 13 8 1 8 4 8 1 8 3 16 2 8 3 24 0 8 0 8-3 16-2 8-3 8-2 16-8 8-1 24-13 8-2 24-14 8-8 40-25 8-8 8-5 8-5 8-1 16-8 8-1 56 0 8 3 40 1 8 0 24 9 16 2 32-1 8 1 8 3 8 0 8 0 8-3 8 0 8 3 8 0 8-3 8-1 8-4 8-2 8-3 56-2 8-2 16 0 8 2 40 2 8 3 8 0 8 0 8-3 24 0 8 3 24 2 8 3 40 2 8 3 16 0 8-3 8 3 48 1 16 0 8-4 8-1 64 1 16-2 8-3 48-2 8-3 32-1 8 1 16 8 72 1 24 14 8 1 48-1 16 1 8 3 8 0 8-3 24-2 32 1 8-3 24-2 8-4 8 0 8 0 24 13 8 0 8-3 16-1 48 1 8 4 24 29 16 10 24 0 8-1 8-3 16 7 16 2 16-2 8-3 8 0 8 4 16 0 8-4 8 0 8 3 24 15 8 1 16-1 24-13 16 0 8 0 8 4 16 0 8-4 24-2 8-2 8-1 8-5 8-1 8-4 8 1 8 3 8 0 8-3 16 0 8 8 8 5 8 1 8-1 8-8 8-7 8-4 8 1 16 9 8 4 8-3 24-1 8 5 8 8 8 6 16 9 24 1 24-1 8-3 16-2 8-3 8 0 16 8 16 11 8 8 16 9 16 0 8-2 8 2 24 1 16 10 8 9 16 9 32 1 8-4 8-1 8-4 16 0 8 4 8 1 16 8 48 1 16 10 8 8 8 2 56-2 16 2 8 4 56 1 8 4 8 1 8 3 8 1 24 13 16-5 32-17 8-1 8 0 8 5 8 8 8 2 24-2 8-3 16-1 24 1 32-1 16 1 8 4 8 0 24-9 8 0 16 8 16 2 8 3 16 2 8 3 16 0 8-3 8-1 8 1 8 3 16 1 8-4 8-1 8-4 16 4 24 13 24 2 8 3 48 0 8-3V3028z"/>
<path transform="matrix(0.41759 0 0 0.41759 86.86 162.51)" stroke-width="4.67" stroke-opacity="0.62" d="M1339 3028V2294l8-1 40-23 8-5 8-8 32-21 8-8 64-38 8-2 16-8 8-1 8-4 8-1 8-4 8-1 8-3 56 0 8 3 40 1 8 3 16 2 48 0 8 4 32 1 8 3 64 1 8 4 24 2 8 3 16 1 24 13 8 2 24 13 8 1 16 8 8 1 8 4 8 1 8 3 32 2 16-1 8-4 16-1 16-8 8-2 24-12 8-2 32-18 16-11 8-8 40-25 16-8 8-2 8-4 8-1 8-3 8 0 8 3 88 2 24 8 16 1 32-1 16 1 8 3 8-3 32 0 16-1 16-8 8-2 8-3 16 0 8 3 8 0 8 0 8-3 24 0 24 0 8 3 32 2 40-1 8 1 8 3 24 2 8 3 72 1 8 4 8 0 8 0 8-3 8 0 8 3 8 0 8-4 16-1 64 0 8-3 16-2 8-3 40-2 8-3 24-1 8 0 8 4 8 2 8 4 8 1 8 3 56 1 16 8 8 2 8 4 48-1 32 2 32-2 24 1 16-1 8-3 24-2 8-3 16 4 16 9 8 0 8-3 16-2 24 2 8 3 8-3 16 4 24 29 8 9 8 1 8 3 8 0 8-3 16-2 16 2 8 4 24-1 8-3 8 0 8 3 8 1 8-1 8-3 8-1 8 1 8 5 8 8 8 4 8 1 16-1 16-8 8-1 8-4 16 1 8 3 8 1 8-1 8-4 24-1 8-3 8-1 16-9 8-1 8 1 8 4 32 0 16 10 8 1 8-1 8-9 8-6 8-4 24 13 40 1 16 11 8 8 8 5 8 1 8 3 32 1 16-1 8-4 32 1 16 9 8 5 8 9 16 9 48 1 16 9 8 5 8 9 16 9 32 0 16-8 8-1 8-4 8 1 16 7 8 2 8 3 16 2 8 3 24 1 16 10 8 8 8 1 24-1 8-3 16 0 16 0 8 3 64 2 8 3 8 1 8 4 8 2 16 8 8 1 8-1 8-4 8-2 24-12 8-2 8 1 24 15 32-1 8-4 8 0 8 0 8 4 8 0 16 0 8-3 16 0 8 3 16 1 8-1 8-4 16-1 8 2 16 7 16 2 8 3 24 2 24-2 32 2 8-1 8-4 16 0 8 3 8 2 16 8 8 1 8 3 32 2 40-1V3028z"/>
<path transform="matrix(0.41835 0 0 0.41835 86.06 161.01)" stroke-width="4.66" stroke-opacity="0.62" d="M1339 3028V2295l8-4 8-2 32-18 8-6 8-8 24-16 8-7 64-39 8-2 16-8 8-1 16-8 8-1 8-4 16-1 104 1 8 4 16 1 8 3 40 0 24 2 8 3 72 2 8 3 8 1 8 3 24 2 8 4 8 1 24 12 8 2 32 18 8 1 8 4 8 1 16 8 24 2 8 3 8 0 8 0 8-3 16-2 8-3 8-2 24-12 8-2 16-8 8-2 32-19 8-8 32-20 8-8 8-5 8-5 8-1 8-4 8-1 8-4 64 1 8 3 8 0 8-3 16 0 8 3 8 1 8 3 8 1 24 1 16-2 8-2 8 3 16 1 48-1 8-4 8-1 16-8 8-1 40 1 40-1 32 1 8 3 8 0 40 0 24 1 8 4 16 1 8 3 8-2 16-1 8 3 56 2 48-1 8-1 8-3 72-1 8-3 16-2 8-3 32-2 8-3 24-1 8 0 16 9 8 2 8 3 56 2 16 4 24 13 32 0 8-3 8 0 8 3 8 1 48-1 24 1 16-1 8-4 40-1 8 1 8 4 8 1 8 4 24-8 8 3 8 1 8 4 24-1 8 2 8 9 8 13 8 10 16 9 24 0 16-7 8 3 16 2 8 3 8-1 8-3 16 0 8 1 8 3 24-8 8 3 24 15 8 4 8 0 8-3 8-1 16-9 8-1 16 1 8 3 16 0 8-4 8-1 8-3 24-1 16-9 8-1 8 1 8 4 32 2 16 9 8 0 8-4 16-12 8-4 24 14 32 1 16 8 8 6 8 9 8 4 24 2 8 3 32 0 8-3 8 3 32 2 8 4 8 8 8 6 16 9 40 2 8 3 8 1 8 5 8 9 16 13 40 2 8-1 16-9 8-1 16 1 8 4 16 2 16 7 16 2 8 3 8 1 24 15 8 4 16-1 8-4 16-1 96 1 8 1 8 4 8 1 24 13 8 0 8-3 8-2 16-8 8-1 16-9 8 0 8 5 8 8 8 5 32 0 8-3 8-1 8 0 8 4 8 1 40-1 24 2 8-1 8-5 16 0 16 8 8 2 8 3 24 2 8 3 16 0 8-3 16-1 8 0 8 4 8 0 8 0 8-4 16 0 8 1 8 3 8 2 8 3 8 1 8 4 16 1 8 4 48-1V3028z"/>
<path transform="matrix(0.41911 0 0 0.41911 85.26 159.51)" stroke-width="4.65" stroke-opacity="0.62" d="M1339 3028V2296l8-2 40-23 8-5 8-8 40-26 8-7 16-10 8-2 48-26 8-2 8-3 8-1 8-4 16-2 8-3 80 0 8 3 24 1 8 4 8 1 56 1 8 3 40 1 8 3 48 2 24 9 16 1 8 3 8 2 32 17 8 1 32 18 8 2 16 8 8 1 8 3 16 2 8 3 8 0 8-3 16-1 8-4 8-1 8-3 8-2 24-13 8-1 16-9 8-1 16-10 8-8 24-15 8-8 24-16 8-4 8-1 16-8 8-1 104 1 8 0 24 8 16 0 8-3 24-2 16 2 8 3 8-3 40-1 8-4 8-1 16-9 24 0 8 0 8 4 8 0 8-1 8-3 16 0 40 1 8 3 16 0 32-1 24 2 8 3 16 2 8 3 8 0 8-3 8 0 8 0 8 3 48 2 24-2 24 0 8-3 8 0 64-1 8-4 16-1 8-3 16-2 8-3 40-2 8-3 16 5 24 12 56 2 8 3 8 2 24 13 48 0 8 1 8 3 8 0 8-3 32-1 24 1 24-2 8-2 8 2 8 0 8-3 8 0 8 0 8 4 8 1 8 3 24-8 16 5 8 4 24 0 8 4 8 6 8 13 8 10 16 9 8 1 16-1 16-8 8 0 8 3 8 1 40 0 8 1 8 3 24-8 8 0 8 5 8 8 8 5 16 1 16-1 16-9 8 0 16 0 8 4 8 0 8-3 8-1 8-4 24-1 8-4 8-1 16-8 16 7 24 2 8 3 8 2 8 4 8 0 16-10 8-8 8-1 24 14 24 1 8 3 8 1 8 5 8 9 16 10 8 1 8 3 40 1 8 3 40 2 16 5 8 8 16 10 8 1 8 3 32 2 16 8 8 5 8 6 8 9 8 4 24 1 8 3 8 0 24-12 8-2 16 1 8 4 16 1 24 13 16 2 32 18 16 0 8 0 8-4 8-1 40-1 8-2 16-1 8 3 32 1 16 1 24 13 16 1 8-1 8-4 24-6 16-8 8 0 16 10 8 8 8 1 24-1 8-3 16-1 8 1 8 4 16 0 24-1 16 1 8 3 24-8 8 1 24 12 16 2 8 3 32 1 8-1 8-3 8-1 8 1 8 4 8 0 40-1 8 1 8 4 16 2 8 3 8 1 8 4 8 1 8 3 16 0 8-3 16 0V3028z"/>
<path transform="matrix(0.41987 0 0 0.41987 84.46 158.01)" stroke-width="4.64" stroke-opacity="0.62" d="M1339 3028V2297l8-1 32-19 24-15 8-8 16-10 72-42 8-2 16-9 8-1 8-3 8-1 8-4 16-1 8-4 88 1 8 3 24 2 8 3 56 1 8 3 40 2 8 3 40 1 40 13 16 2 16 8 8 2 32 17 8 2 32 17 8 1 8 4 8 2 8 3 16 1 8 3 8-3 16-1 8-4 8-1 8-4 8-1 32-18 8-1 32-18 16-10 8-8 32-21 8-8 48-14 8 0 8 3 88 2 8 3 16 1 8 3 8-3 16-2 8-3 16 0 8 4 8 0 48-1 24-12 8-2 8-3 16 0 8 3 16 1 24-1 8-3 8 3 104 1 8 1 8 3 8 1 8 4 40 0 32 2 8 2 16 1 8-4 16-1 80 0 8-3 24-2 8-3 16-2 8-3 32-2 8-3 24-1 8 0 16 9 32 10 48 1 24 13 8 2 8 3 24 0 8-3 8 3 16 2 40-2 32 1 8-1 8-3 24 0 8 3 8-3 16-1 8 1 8 3 8 1 8-1 8-4 8 0 8 0 16 8 8 1 8-4 8 0 8 5 24 29 8 7 8 2 8 3 8 0 16-8 16-4 24 8 16 0 8-4 8 0 8 4 8 1 8-1 16-8 16 5 8 7 8 5 8 2 16 0 8-2 16-8 8-1 16 1 8 4 16 0 8-4 8-1 8-3 24-2 16-9 8 0 8 1 8 4 8 1 8 3 16 1 8 4 16 1 24-15 8-4 32 18 24 1 16 8 8 6 8 8 16 6 16 1 8 3 24 1 8 4 16 2 8 3 24 0 24 14 8 2 8 3 8 1 8 3 24 2 16 8 8 6 8 9 16 10 24 1 8 3 8 0 16-9 8-1 8-4 16 1 8 3 16 1 32 18 8 1 8 4 8 2 16 8 24 0 8-1 8-3 32-1 8-3 24-1 8 1 8 3 24-1 16 2 24 13 16 0 8-3 16-2 8-4 8-1 16-8 8 0 32 19 24 0 8-1 8-4 8-1 8 1 16 8 16 0 8-3 8-1 16 1 8 4 24-8 24 12 8 2 8 3 16 2 8 3 24 1 8-1 8-4 16-1 8 2 8 4 8 0 32-1 24 1 8 4 8 1 8 4 8 1 8 3 48 1V3028z"/>
<path transform="matrix(0.42063 0 0 0.42063 83.66 156.52)" stroke-width="4.64" stroke-opacity="0.62" d="M1339 3028V2301l16-8 8-2 8-4 24-15 8-8 24-15 64-37 8-2 24-13 8-1 8-3 16-2 8-3 16-2 8-3 8 3 8 1 40-1 48 2 8 3 16 2 8 3 64 2 8 3 40 1 8 3 24 2 24 8 8 1 8 4 8 0 8 4 8 2 24 13 8 1 40 22 8 2 16 8 8 1 8 4 24 1 16-1 8-4 8 0 8-4 8-1 32-18 8-2 16-8 8-1 16-10 8-8 24-16 8-8 24-15 8-4 8-1 8-4 8-1 8-3 48 0 8 3 56 2 8 3 24 1 8 0 8-4 16-2 8-3 8 3 16 2 8 3 8-3 8 0 8 3 8-3 8-1 8-4 8-2 16-8 16-1 16 1 8 4 8 0 8 0 8-3 8-1 56 1 8 2 16 1 8 0 8-3 24 0 40 12 8 0 8-3 16 0 8 0 8 3 40 2 16-2 8-3 72 0 32-1 8-4 16-1 8-4 32-1 8-3 32-2 8 1 8 4 8 2 16 8 8 1 8 3 48 2 24 13 8 1 8 3 40 1 8 1 8 3 8 0 8-3 56-1 8 0 8-4 8 0 8 0 8 3 8 1 16-1 8-3 8 0 8 4 8 0 8-1 8-4 8 0 8 0 8 4 8 2 24-1 8 5 24 28 16 9 8 1 16 0 16-9 8-1 8 1 8 4 16 1 24-1 8 4 8 1 8-1 16-9 8 0 32 19 8 0 8 0 16-8 16-5 8 0 16 8 16 0 24-8 16-2 16-8 16-4 16 7 24 2 8 3 8 1 8 4 16-5 8-8 8-4 8-1 24 13 8 1 8 4 24 2 8 4 8 8 16 10 8 1 8 3 32 2 8 4 8 1 16 8 32 1 16 8 8 2 8 4 8 1 8 3 24 1 24 13 8 6 8 9 16 9 32 2 8 2 16-8 8-1 8-4 16 1 8 3 16 1 32 19 8 1 16 8 8 1 8 4 24 0 8-1 8-3 32-2 8-3 32 0 8 3 8 1 8-3 8 0 8 3 8 1 16 8 16 5 8-3 24-2 8-3 8-1 8-4 16-1 8 1 8 8 8 5 8 1 8 4 16-1 16-8 8-1 8 1 16 9 8 1 16-1 8-4 8 0 8 3 8 1 8 0 8-4 8-1 8 1 32 18 16 1 8 3 16 2 16-2 16-7 8 0 16 8 8 1 16 0 8-1 8-3 8 0 8 2 16 2 8 4 8 1 8 4 48 1 8 3V3028z"/>
<path transform="matrix(0.42139 0 0 0.42139 82.86 155.02)" stroke-width="4.63" stroke-opacity="0.62" d="M1339 3028V2306l16-8 8-2 32-19 8-7 40-25 16-9 8-1 48-27 8-2 8-3 8-1 8-3 24-3 8-3 24 1 8 2 8-2 40 0 8 3 32 1 8 4 16 1 8 3 56 2 8 3 40 2 8 3 24 1 24 9 8 1 8 3 8 1 8 4 8 1 24 13 8 1 32 18 8 2 16 8 8 1 8 4 8 1 8 3 16 1 8-1 8-3 8-1 8-4 8-1 16-8 8-2 32-18 8-1 32-19 8-8 24-16 8-8 8-4 8-5 8-2 8-3 8-1 8-4 24-1 32 1 8 0 8 3 56 2 8 3 8 1 16-1 24-8 8-1 8 1 8 3 8 1 40 1 8-1 16-8 8-2 16-8 8 0 8 0 8 4 16 1 152 0 8 3 8 1 8 4 56 1 8 3 24 2 16-1 8-3 16-1 40 0 8 3 16 1 8-1 8-3 16-1 8-4 16-1 8-3 48-2 8-3 16-1 8 1 24 13 8 1 8 4 16 1 8 3 8-3 16 0 8 3 8 2 16 8 8 2 8 3 40 1 8 4 16 0 8-1 8-3 8 0 24 0 8 3 8-3 16-2 8-3 8 3 24 2 48-1 8-4 8-1 8 1 8 4 8 1 24-1 8 5 24 27 16 10 8 1 16 0 16-10 8 0 8 0 8 4 8 2 32 0 8 3 8 1 8-1 16-9 8 0 24 14 8 1 8 4 16-5 16-9 8 0 8 0 16 9 16 0 8-3 8-1 8-4 16-2 16-8 16-4 16 7 32 2 8 3 16 1 24-13 8-1 8 4 8 1 16 9 8 1 8 3 16 1 32 19 8 4 8 1 8 3 32 2 24 13 8 1 8 3 8-2 8 0 16 7 8 2 8 3 32 2 16 7 8 2 8 5 24 22 8 2 16 0 8 3 16 1 8-1 16-8 8 0 8 0 8 3 24 1 32 19 8 0 8 4 8 1 8 4 8 1 8 4 16 0 8-4 16-2 8-2 40-2 16 1 8 3 40 2 16 8 8 1 48-1 8-3 24-2 8 1 24 14 8 1 16-1 16-9 8-1 8 0 24 15 8 0 8-4 16-4 8 3 8 1 16-1 8-3 8 3 24 14 8 1 8 4 16 1 8 3 24 0 16-8 8 0 8 1 16 9 8 3 24-8 16 0 40 12 40 1 16 1V3028z"/>
<path transform="matrix(0.42215 0 0 0.42215 82.05 153.52)" stroke-width="4.62" stroke-opacity="0.62" d="M1339 3028V2312l8-4 8-1 8-5 80-47 16-9 8-1 48-27 32-9 16-2 8-3 88 0 8 3 32 2 24 7 56 2 8 3 24 2 8 3 32 1 8 4 16 1 8 4 8 1 8 3 8 1 8 4 8 1 8 4 8 1 16 8 8 2 40 22 8 1 8 4 8 1 8 4 8 1 8 3 16 0 8 0 8-4 8-1 16-7 8-2 40-22 8-2 16-8 8-2 8-4 8-8 16-11 8-8 40-23 8-2 8-3 16-2 8-3 16 0 8 3 24 1 8 4 56 1 8 3 16 0 8-3 8-1 8-4 8 0 24 0 8 4 8 0 40 0 24-13 8-1 8-4 8-1 16 1 8 4 8 1 152-1 8 1 8 4 8 1 8 4 32-1 24 1 8 4 16 1 16-1 8-3 16-2 40 2 8 3 16 0 16-1 8-3 8-1 8-3 24-2 8-3 40-1 8 0 8-4 8 0 8 4 8 1 16 8 8 2 8 3 8 2 8 3 32-1 16 2 16 8 8 2 8 3 40 2 8 3 16 0 8 0 8-4 8 0 16 0 8 3 8 0 8-2 16-2 8-3 8 3 8 1 8 3 8 1 8-4 8 0 32-1 8-4 8-1 8 1 8 4 8 1 24-1 8 5 8 5 16 19 24 14 8 0 8-1 16-9 8-4 8 4 8 1 8 4 32 1 8 3 8 1 8-1 16-8 8 0 16 8 8 2 8 4 8 0 8 0 24-13 8-1 16 8 16 6 8 0 8-1 8-4 8-1 16-7 8-2 8-4 16-4 24 9 32 0 8 4 8 0 24-13 8-1 8 1 24 13 8 1 8 3 24 2 40 22 32 1 32 18 8 1 8 4 24 0 8 4 8 1 32 1 8 4 8 1 24 14 8 8 8 6 16 8 24 1 8 1 8 3 8-3 8-2 8-3 8 0 8 3 32 1 32 18 16 2 16 7 32 2 16-2 8-3 32-1 8-3 8 3 16 1 8 4 32 1 8 3 8 1 8 5 32 1 8 3 8 0 8-3 24-2 16 1 16 8 8 2 8 3 8 0 24-12 16-2 24 16 8 3 16-8 24 0 8 3 8-3 8 0 8 3 24 15 8 1 8 3 24 2 8 3 16 0 16-8 8-1 8 1 16 9 8 4 8-1 16-7 8 0 8 3 16 1 8 4 56 1 8 3 8 2V3028z"/>
<path transform="matrix(0.42291 0 0 0.42291 81.25 152.02)" stroke-width="4.61" stroke-opacity="0.62" d="M1339 3028V2318l8-1 8-3 8-2 80-47 16-8 8-2 48-27 32-9 16-2 8-3 8-1 88 1 8 3 24 1 8 4 8 1 8 3 48 2 8 3 16 2 8 3 32 2 8 3 16 1 8 4 16 1 24 8 16 2 24 12 8 1 16 8 8 2 24 13 8 2 16 7 16 2 8 3 16 0 8-3 8-1 8-4 8-1 8-4 8-1 48-27 8-1 16-9 24-15 8-8 8-6 32-19 8-4 8-1 8-4 8-1 8-3 32 0 8 3 24 2 8 3 72 1 16-1 8-4 16-1 24 2 8 3 24 0 8 0 8-3 8-2 24-12 16-2 24 2 8 3 56 1 16-1 8-3 8-1 56 0 8 1 8 3 8 1 8 4 16 1 32 0 8 3 16 1 8 4 16 0 8-3 16-2 8-3 8 0 8 3 32 2 8 3 8 0 8 0 8-3 8-1 8-4 16-2 8-3 32 1 8 2 8 0 24-7 8 0 8 3 8 1 16 8 8 1 8 4 8 2 8 3 24 0 8-3 8 3 8 1 24 9 24 1 8 3 24 2 8 3 8-1 8-3 56 0 8-1 8-3 8-1 8 1 8 4 8 1 8 3 8-1 8-3 24-1 8-3 16-2 16 2 8 4 24-1 8 2 16 14 8 9 16 10 16 7 24-13 8 0 8 1 16 8 32 1 8 3 8 1 16-5 8-4 8 0 8 4 8 1 16 8 8 1 8-1 24-13 8-1 8 1 24 14 8 0 8-1 8-3 8-2 16-7 8-1 8-4 8-1 24 1 8 3 32 1 8 4 8 0 24-13 8 0 8 3 8 2 16 8 24 1 16 4 24 14 8 1 16 8 24 1 32 18 8 1 8 4 24 1 8 3 8 1 24 0 16 1 32 18 8 6 8 8 8 5 32 1 8 4 8 0 16-1 8-3 8 3 32 1 16 5 24 13 16 1 8 4 16 1 8 4 24 0 8-4 32-2 8-2 8 0 8 3 16 1 8 4 16 1 8 3 16 1 8 4 8 1 8 4 32 1 56-1 24 10 8 0 16-1 24-13 8 0 8 5 8 8 8 5 8 1 8-1 8-4 8-1 40 1 16 6 8 7 8 5 8 2 8 3 32 1 8 3 8 0 16-8 16 0 24 13 8-3 24-2 16 2 8 3 8 1 56 0 8 1 8 4V3028z"/>
<path transform="matrix(0.42367 0 0 0.42367 80.45 150.53)" stroke-width="4.60" stroke-opacity="0.62" d="M1339 3028V2327l8 0 8-4 8-1 80-47 16-8 8-2 56-31 8-2 8-3 16-2 8-3 16-1 8-3 8 0 8 2 16 1 8 0 8-3 8 0 8 2 40 2 8 4 8 0 8 4 8 1 8 4 40 1 8 3 16 2 8 3 24 2 8 3 16 1 8 4 16 1 8 4 16 1 8 3 8 1 8 4 8 1 16 8 8 2 24 12 8 2 24 12 8 2 8 3 24 2 8 3 8-3 16-1 8-4 8-2 24-12 8-2 48-26 8-2 8-5 8-8 16-10 8-8 24-15 8-4 8-2 8-3 8-2 8-3 48 0 8 0 8 4 32 1 8 3 48 1 8-1 8-3 16-1 8-3 8 0 8 3 16 1 40-1 8-4 8-1 16-9 8-1 8-3 16 0 8 4 48 1 8 3 8 0 8-3 16-1 8-4 8 0 8 0 8 3 48 1 24 9 56 1 8 1 8 3 24-1 8-3 16-1 32 1 8 3 24 2 16-2 8-3 8-1 8-4 16-1 48 2 16-2 8-3 8 0 72 22 8 0 8-3 24 0 8 3 8 1 8 4 16 1 8 3 24 2 8 3 16 0 8-3 8 0 8 0 8 3 8-3 8 3 16 0 8-3 16-2 16 2 8 4 16 1 32-2 24-8 8 3 16 2 8 3 8-3 16 4 8 5 8 8 16 11 8 8 16 6 8-1 16-9 8-3 16 7 8 2 8 3 32 2 8 2 8-3 8-1 8-3 8 0 8 3 8 1 8 4 16 1 16-2 8-7 8-5 8 0 32 18 8 0 8 0 8-4 8-1 16-8 8-1 8-4 24-1 8 1 8 3 32 1 8 1 8 3 16-8 16-5 16 8 8 2 8 4 8 1 8 2 8-2 8 2 8 1 8 4 8 2 32 17 24 1 32 18 8 1 8 4 24 1 8 4 8 0 16-1 8-3 16 5 48 28 16 8 24 1 8 4 32 0 16 1 8 4 32 1 16 9 8 1 8 3 16 2 8 3 16 1 8 4 16 0 8-4 16-2 8-2 16 0 8 2 16 2 24 9 16 1 8 3 16 1 8 4 24 1 8 3 8 1 16-1 8-3 8 3 24 1 8 0 8 4 8 1 8 3 8-3 8 0 16-9 16-2 8 2 8 9 8 5 8 4 8 0 16-8 8-1 8 4 32 1 8 5 8 8 8 5 16 4 8 0 8-3 8 3 24 2 8-1 8-4 16-1 16 9 8 1 16-1 8-3 8 3 16 2 8 3 8 1 16-1 8-3 24-1 24 9V3028z"/>
<path transform="matrix(0.42443 0 0 0.42443 79.65 149.03)" stroke-width="4.59" stroke-opacity="0.62" d="M1339 3028V2336l8-3 8-1 24-13 8-1 56-33 24-13 8-2 56-31 8-1 8-4 16-1 8-3 8-1 88 1 8 3 24 1 8 4 8 1 8 3 16 2 8 3 32 1 8 4 16 1 8 4 24 1 8 3 8 1 8 4 16 1 8 4 16 1 8 3 8 1 8 4 8 1 16 8 8 2 32 17 8 2 16 8 8 1 8 4 16 1 8 3 8 0 8 0 8-3 8-2 24-8 40-23 8-2 32-17 24-16 8-8 40-24 8-4 8-1 8-4 8-1 8-3 32 0 8 3 16 2 8 3 32 1 8 3 32 1 16-1 8-3 24-2 8-2 8 3 16 1 40-1 16-8 8-2 16-7 16-2 32 2 8 2 32 2 24-2 8-3 8-1 64 1 8 0 24 8 48 1 8 1 8 3 16 1 16-1 8-3 24-1 16 1 8 3 16 1 8 4 8 0 8-3 8-2 8-4 8-1 8-4 24 0 16 1 8 3 16 1 8-1 8-3 16-1 16 1 8 4 8 1 8 3 8 2 16 8 32-1 8-3 8 3 16 2 8 3 16 2 8 3 24 1 8 3 16 0 8-2 8 2 48 1 8-1 8-3 8 0 8 0 16 8 16 1 16-1 8-3 16-1 8-4 8 0 8 0 8 4 32 1 24 13 16 11 8 8 8 5 8 1 8-1 16-9 8 0 8 4 8 1 16 8 32 2 8 2 8-2 24-2 16 2 8 3 24 1 24-14 8-1 32 19 16 0 8-4 8-1 16-8 16-2 8-3 24 0 8 3 32 1 8 4 8 0 16-5 8-4 8 0 8 1 16 8 8 2 8 3 32 1 8 3 8 2 32 17 24 1 24 14 8 1 24 8 16 1 8 3 8 1 8 0 8-4 16 0 64 37 24 1 24 8 8 0 8-3 8 3 8 1 8 4 40 1 16 9 8 1 8 3 24 2 8 3 8 1 8 3 16 1 8-4 16-2 8-3 8 0 8 3 24 2 16 8 8 2 8 3 24 1 24 8 88 2 8 3 16 2 8 2 8-3 16-1 16-9 8 0 16 10 8 9 8 4 16-5 8-4 32 1 16 4 32 19 32-1 8 1 8 4 8 0 8 0 16-8 8 0 24 12 8-3 16 0 8 3 16 2 8 3 8 1 8 0 8-4 8-1 24 0 8 1 16 8V3028z"/>
<path transform="matrix(0.42519 0 0 0.42519 78.85 147.53)" stroke-width="4.59" stroke-opacity="0.62" d="M1339 3028V2342l8 0 8-4 8-1 32-17 48-29 8-4 8-2 8-4 56-32 8-1 8-4 16-1 8-3 32-2 80 2 8 3 24 2 24 8 16 1 8 3 24 1 8 4 16 1 8 3 24 2 8 3 8 1 8 4 16 1 8 3 16 2 8 3 8 1 8 4 8 1 16 8 8 2 48 26 8 2 8 4 8 1 8 3 24 1 16-1 16-8 8-1 8-4 8-1 72-41 16-11 8-8 40-25 24-13 8-1 8-4 48 1 8 3 16 2 8 3 32 2 8 2 40 1 8-1 8-3 16-1 48 1 24-1 8-3 8-2 16-8 8-1 8-4 56 1 8 3 24 0 8 0 24-8 8-1 16 1 8 3 48 2 8 3 40 1 8 3 24 2 8 3 8 0 8 0 8-3 16-2 8-3 8 0 8 3 24 2 8 3 16 1 8 0 16-9 8-1 8-4 24 0 8 1 8 3 24 1 16-1 8-4 8 0 8 1 8 3 24 6 16 8 8 1 8 3 8 0 8-3 8 0 32 1 24 8 24 1 8 3 56 1 56-1 8 1 8 4 8 1 8 3 8 1 8-1 8-3 24-2 8-3 24 1 8 3 24 1 8 4 8 1 16 9 8 8 8 6 16 9 8-1 16-8 8 0 8 4 8 1 16 8 16 2 8 2 24 0 8-2 16-1 8 0 8 4 8 0 24 0 24-13 8-1 32 18 16 1 40-13 16-2 8-3 24 0 8 3 24 1 8 4 8 1 8-1 16-8 8 0 16 8 8 1 8 4 40 1 16 8 8 2 24 12 24 2 24 13 16 1 16 8 16 1 8 3 8 1 8 0 8-4 16 0 56 32 8 1 8 3 16 1 8 4 8 1 24 1 8 3 8 1 8 4 40 1 16 8 8 1 8 4 24 1 8 3 8 1 8 4 16 1 8-1 8-4 16-1 32 2 8 3 8 1 24 13 32 2 8 3 8 1 64 0 8 4 32 1 8 3 8 0 8-3 16-1 8-4 16-1 8 1 8 9 16 9 8 0 8-4 8-1 40 1 40 23 8 0 8-4 16-1 8 1 8 4 16 1 8-2 8-3 8-1 24 9 8 0 8-3 16 5 8 3 8 1 8 3 16 0 24-7 8 3 16 1 8 4 8 1V3028z"/>
<path transform="matrix(0.42595 0 0 0.42595 78.05 146.03)" stroke-width="4.58" stroke-opacity="0.62" d="M1339 3028V2348l8-1 8-3 8-1 24-13 8-2 8-5 8-7 32-19 8-2 24-12 8-2 48-27 8-1 8-3 24-2 8-3 40 0 8 3 56 2 8 3 16 2 24 8 32 1 8 3 16 2 8 3 16 1 8 3 24 2 24 8 24 2 8 3 8 1 8 4 8 1 16 7 8 2 56 32 8 1 16 8 32 2 16-2 8-3 24-6 8-4 80-47 8-5 8-8 24-16 8-8 8-5 8-2 24-12 8-1 48 1 8 3 24 2 8 3 16 1 8 3 64 1 8 0 8-3 16-1 8 1 8 3 16 0 8 0 8-3 16-2 8-3 8-2 16-8 8-1 8-4 16 1 8 3 56 0 8 0 24-8 16 0 8 0 8 3 40 1 8 4 40 1 8 3 24 2 8 3 24 0 8-3 16-2 8-2 8 0 8 3 24 1 8 4 16 0 8 0 24-13 8-2 8-3 8 0 8 3 16 2 8 3 8 1 16-1 8-3 8-1 16 0 8 4 16 2 8 3 8 1 16 8 64 1 8 1 16 7 8 1 56 0 8 1 8 3 8 0 56 0 16 1 8 4 16 1 24-1 8-3 8-1 32 0 8 4 24 1 8 3 8 1 24 14 8 6 8 8 8 4 16-4 8-4 8 0 8 3 8 2 8 3 8 2 8 4 8 1 8 3 40 0 8-3 8 0 8 2 32 1 24-13 8 0 24 13 16 5 8 0 8-4 8-1 8-4 8-1 8-3 16-1 8-4 8-1 32 1 8 3 8 1 8 4 8 0 8 0 16-8 8 0 24 13 40 1 8 4 8 1 16 8 8 1 16 8 16 1 16 9 16 4 16 1 16 9 24 1 8 4 8-1 8-3 16 0 56 31 16 2 8 3 8 1 8 4 32 2 16 7 8 2 8 3 8 0 8-3 16 0 16 8 8 1 8 3 24 2 40 12 8-3 8-1 8-4 16 0 8 4 24 1 32 18 32 1 8 3 8 1 32-1 8-3 8 0 8 0 8 4 32 1 8 3 16 1 16-1 8-3 16-2 8-3 16 10 8 8 8 1 32-2 32 1 32 19 16 0 8-1 8-3 8 0 24 8 8 0 8-3 16-2 8 1 8 4 32 1 16 8 32 2 16-2 8-3 8 0 24 8 8 1V3028z"/>
<path transform="matrix(0.42671 0 0 0.42671 77.25 144.54)" stroke-width="4.57" stroke-opacity="0.62" d="M1339 3028V2352l8 0 8-3 8-1 32-18 48-28 8-1 48-27 8-2 24-12 16-2 8-3 32-1 64 1 8 3 24 2 8 3 16 1 8 4 16 1 8 3 32 2 24 8 40 2 8 3 8 0 8 4 16 2 8 3 16 1 8 4 8 1 8 3 8 1 24 13 8 2 8 7 24 15 8 2 24 12 32 1 16-1 8-3 24-6 8-4 8-1 56-33 8-8 24-16 8-8 16-10 8-8 8-5 8-4 8-2 16-8 8-1 8-3 8 0 8 3 24 1 8 3 24 2 8 3 16 2 8 3 56 1 72 0 32-1 16-8 8-2 16-7 16-1 80 0 8-1 8-3 16-2 56 2 8 3 24 2 8 2 32 2 8 3 16 2 32-2 8-3 16-1 32 1 8 3 16 2 16-1 24-13 8-1 8-4 16 0 8 4 8 1 8 3 8 0 16 0 8-4 8-1 8-3 8 3 8 2 8 3 24 6 8 4 8 1 8 3 64 1 16 8 8 1 40 0 8-4 8 0 8 4 16 1 56 0 8 3 24 2 8 3 8 0 8-3 16-2 8-3 16 0 8 3 16 1 8 4 24 1 8 4 8 1 16 10 8 8 16 9 8 0 8-3 8-1 16 0 8 4 8 1 16 8 8 1 8 3 8-2 48-1 16 1 8 3 16 0 16-8 16-5 16 5 16 9 16 0 8-1 8-3 8-2 8-3 24-1 8-4 8-1 8-4 8 0 8 4 16 1 24 8 16-5 8-3 8 0 24 13 32 1 8 3 8 1 8 4 8 1 8 4 8 1 16 8 16 2 16 8 8 1 24 0 24 13 16 1 8 3 8 0 8-3 16-1 48 28 8 1 8 4 8 0 8 4 8 1 8 4 32 1 24 13 8 1 16-1 8-4 8 1 16 7 8 2 8 3 24 2 8 3 8 1 16 8 16 1 8-4 16-1 16 1 8 3 24 2 8 5 8 8 8 4 32 0 8 1 8 3 8 0 8-2 32-2 16 1 8 4 32 1 8 3 8 0 8-3 40-1 8 1 8 5 8 8 8 1 40-1 8-3 8 0 16 4 8 8 16 10 16 0 8-4 16-1 8 1 8 4 16 4 8-3 8-1 48 0 16 9 16 5 32 0 8-1 8-3 8 1 24 7 8 1V3028z"/>
<path transform="matrix(0.42746 0 0 0.42746 76.45 143.04)" stroke-width="4.56" stroke-opacity="0.62" d="M1339 3028V2354l16-1 8-3 8-2 64-37 16-8 8-2 40-22 8-1 16-9 8-1 8-3 8-1 8-3 48 0 8 2 56 3 8 3 16 1 8 3 16 2 8 3 32 2 8 3 16 1 8 3 24 2 8 3 32 1 8 4 8 1 8 3 24 2 8 3 8 1 8 4 8 1 80 46 8 1 16 8 24 1 16-1 8-4 24-5 16-8 8-2 48-28 8-8 16-10 8-8 16-11 8-8 8-5 24-14 8-2 16-8 24 1 8 3 24 1 8 3 16 2 8 3 40 2 8 3 24 1 8 3 32 0 8-2 8 2 24 1 8-1 8-2 24-2 16-8 8-2 8-3 16-1 80 0 8-3 8-1 8-4 8-1 16 1 8 3 40 1 8 4 48 2 8 3 16 1 8 3 16 0 8-3 16-1 8-4 8 0 24 0 8 3 16 2 8 3 8 0 24-12 8-2 16-8 16 0 8 4 32 1 16-2 8-3 8-1 8 1 16 8 16 2 8 3 8 1 8 4 32 1 8 3 8 0 8-3 8 0 24 12 8 2 16 0 16-2 8-3 16-1 8 1 8 3 24 0 8-2 8 2 40 2 8 3 8 0 24 0 8-4 16-1 32 2 8 3 8 1 8 4 24 1 24 13 8 6 8 8 8 1 40 0 8 4 8 1 8 3 8 2 8 4 72-1 24 2 8 2 16-4 16-8 16 4 16 9 8 0 8 0 8-3 16-2 8-3 24-1 16-8 8-2 24 1 8 3 8 1 8 4 8 1 16-1 8-3 8 0 24 12 32 2 24 8 8 1 8 4 8 1 8 4 8 1 8 3 8 1 16 9 8 1 24-1 24 13 16 2 8 3 8 0 8-3 16-1 8 4 8 2 8 4 8 8 16 9 8 2 8 3 8 1 24 9 32 1 24 13 16 1 8-1 8-4 8 0 8 3 8 2 16 8 24 1 8 4 8 1 16 9 8 1 24-2 8-4 8 1 8 3 24 1 16 9 8 8 8 5 8 0 8-3 8 0 8 0 8 4 24 0 16-1 8-3 8 0 8 3 24 2 8 3 24 2 56-2 8 2 16 9 8 3 40 0 8-3 8 0 16 4 8 5 8 8 16 5 8 0 16-8 8 0 16 8 8 1 72-1 8 1 16 9 8 1 8 3 24 0 8 0 8-3 8 3 16 2 8 3 8 0V3028z"/>
<path transform="matrix(0.42822 0 0 0.42822 75.65 141.54)" stroke-width="4.55" stroke-opacity="0.62" d="M1339 3028V2359l16-1 8-3 8-2 56-32 16-8 8-2 48-26 8-2 16-8 16-2 8-3 8 0 72 1 8 3 32 1 24 8 24 1 8 4 32 1 8 3 16 2 8 3 40 2 8 3 24 2 8 3 16 1 8 3 16 2 8 3 8 1 16 8 8 2 16 9 8 8 8 5 24 13 8 2 16 8 8 1 8 4 16 0 8 0 8-4 8-1 8-3 16-2 24-12 8-2 40-23 8-8 16-11 8-8 16-11 8-8 8-5 40-22 8-2 40 2 8 3 24 1 8 4 8 0 8 4 48 2 8 3 16 1 8 3 64 1 16-1 8-3 16-1 8-4 8-1 16-8 16-1 80 0 8 0 8-4 8-1 8-3 8 0 8 3 40 1 8 4 48 1 8 3 16 2 8 3 24 0 8-3 16-1 8-4 8 0 24 0 8 3 16 2 8 3 8-3 8-1 16-8 8-2 16-8 16 0 8 3 8 1 24 0 8-1 8-3 8-2 8-3 16 5 16 8 16 2 8 3 8 1 8 3 64 2 24 13 8 1 16-2 8-3 8-1 8-4 8 0 8 1 8 3 56 1 8 3 16 1 40 0 8-4 8-1 24 1 8 4 16 1 24 8 16 1 16 5 8 8 24 14 40 1 8 3 8 1 8 4 8 1 8 4 24 0 8-3 8 0 8 3 8-4 16 0 8 1 8 3 8 1 8 3 16-4 8-4 16-1 8 1 8 4 8 1 8 4 8-1 8-3 16-1 8-3 8 0 8 3 24-13 16-5 8 1 8 3 8 1 8 3 8 2 8 3 16 0 8-3 40 13 24 1 16 8 8 1 8 4 16 1 8 3 8 1 8 4 8 1 16 9 16 0 8-4 8 0 24 14 8 4 8 0 8 4 16 0 8-3 8-1 16 5 16 10 8 8 8 4 24 6 24 9 24-1 8 1 32 18 8 0 16-8 16 0 16 8 8 1 8 4 16 1 16 8 8 2 16 8 16-1 8-3 8-1 16 1 8 4 24 1 8 7 16 11 32 0 8 3 16 1 16-1 8-3 16 0 8 0 8 4 24 1 8 3 16 2 56 0 16 8 8 1 24 0 8 4 16 0 8-4 16 0 32 18 16 0 8-1 8-3 8 0 8 4 8 1 8 4 8 1 64-2 8 2 16 8 16 1 8 3 8 0 32 0 8 1 8 4 16 1V3028z"/>
<path transform="matrix(0.42898 0 0 0.42898 74.85 140.05)" stroke-width="4.55" stroke-opacity="0.62" d="M1339 3028V2364l16-1 8-3 8-1 64-36 8-2 24-12 8-2 40-22 8-1 8-3 16-2 8-3 32 0 8 3 40 2 8 2 24 2 24 8 24 2 8 3 32 1 8 4 8 0 8 4 24 2 8 3 40 1 8 3 24 2 8 3 8 1 8 3 16 2 16 8 8 1 16 10 8 7 16 10 8 5 8 1 24 13 8 1 8 3 16 0 8 0 8-3 8-1 8-4 16-1 24-12 8-2 40-24 8-7 16-11 8-8 8-6 8-8 16-11 8-7 16-9 8-2 16-8 16 0 8 3 32 2 8 3 16 1 8 4 8 1 8 3 48 2 8 3 16 1 8 3 56 0 8 0 8-3 24-1 8-4 8-1 8-4 8-1 8-3 64-1 24 0 8 0 8-4 16-1 56 1 8 3 56 2 8 3 16 2 40-1 8-4 24-1 24 1 8 3 16 2 8-1 8-4 8-1 8-4 8-1 16-8 64-1 8-4 8-1 8-3 24 12 16 2 8 3 16 2 8 3 8-3 8 0 8 3 40 1 8 5 8 8 16 5 40-13 16 0 8 4 8 1 40 0 24 7 8 0 16 0 8-3 24-1 8-4 16 1 8 3 8 2 8 3 8 1 8 3 16 2 32 9 8 8 24 14 40 1 8 4 8 1 8 3 8 1 8 4 16 0 8-4 32-1 8-3 8 0 16 8 8 1 8 4 8 0 24-9 8-1 8 1 8 4 16 1 32-1 8-3 8 3 8 0 16-5 8-8 8-4 8-1 16 0 8 4 8 1 16 8 24 0 16 2 8 3 8 1 8 4 16 1 8 3 8 2 16 7 16 2 8 3 16 1 24 13 16 1 8-1 8-4 8 0 32 19 8 1 8 3 32-1 16 2 16 9 8 8 8 2 16 7 8 2 16 8 16 1 8-1 8-3 8 3 32 19 8 0 16-8 16-1 16 9 8 1 8 3 16 2 32 17 24 1 8-1 8-3 16 4 8 3 8 0 8-2 16 8 8 9 8 5 16-1 8-3 24 8 8 0 8 0 8-3 24-1 8 1 8 3 32 1 8 4 8 1 8 3 48 0 8 1 8 4 32 1 8 4 8 0 8 0 8-4 16 0 24 13 8 1 8 4 8 0 8-4 16 0 8 4 8 1 8 4 8 1 8 3 32 0 8-4 16 0 24 10 24 0 8 3 40 2 8 3 16 0V3028z"/>
<path transform="matrix(0.42974 0 0 0.42974 74.05 138.55)" stroke-width="4.54" stroke-opacity="0.62" d="M1339 3028V2370l24-2 8-3 8-2 32-18 8-8 8-1 24-13 8-1 48-27 8-1 8-4 16-1 8-3 16-2 64 2 8 3 24 2 8 3 8 1 8 4 8 1 8 3 24 2 8 3 24 1 8 3 8 1 8 4 16 2 8 3 48 1 8 3 16 2 8 3 16 1 8 3 8 1 8 4 8 1 8 4 8 1 24 15 8 7 8 5 8 1 24 12 8 2 8 4 24 1 24-2 8-3 8-1 8-4 8-1 32-17 8-2 16-9 8-8 16-11 8-7 16-11 8-8 8-6 8-8 40-23 24-1 8 1 8 3 32 1 8 3 8 1 8 4 48 2 8 3 8 1 8 3 24 2 8 3 48 0 8 0 8-3 24-1 8-4 8-1 8-4 8 0 8-4 40 0 16-2 8-2 8 3 16 0 8 0 8-3 16-2 48 1 8 0 8 3 64 2 8 3 16 1 24-1 8-3 8-1 8-3 16-1 16 1 8 3 8 1 8 3 8 0 8-3 8-1 8-3 8-1 24-10 40-1 8-3 16 0 8-4 16-2 8 1 16 9 16 4 56 2 8 3 8 0 8-3 8 0 32 18 8 4 16-5 16-8 8 0 16 0 8 4 8 1 32 0 8 3 8 1 8 4 8 1 40-1 8-3 16-2 16 1 8 4 8 1 8 3 16 2 8 3 8 1 8 3 8 1 8 4 8 2 8 8 16 9 8 1 8 4 32 1 8 4 8 1 8 3 8 1 8 3 8 1 24-8 32-2 16 2 24 13 16-1 16-8 8-1 8 1 8 3 16 2 56-1 8-1 32-18 24 2 24 12 32 1 8 4 8 1 8 3 16 2 8 3 8 1 16 8 8 1 8 4 24 1 8 3 8 2 24 12 16-4 8-5 8 0 24 15 16 8 16 2 40-1 32 19 16 8 8 2 16 8 16 0 8-4 8 0 16 9 8 5 8 8 16 2 8-2 16-8 8 0 16 8 24 6 16 8 8 2 24 12 24 0 8-3 8 0 8 3 32 2 8 8 8 5 8 5 8 3 8-3 8 0 8 0 8 4 16 1 32-1 16 1 8 3 8-3 8 0 40 12 48 1 8 1 8 3 32 0 8 2 8 3 8 0 8-4 16-1 8 2 24 12 40 1 8 4 8 1 8 4 8 1 8 3 40 0 8-3 8 0 16 8 8 1 24 0 8 3 56 2 8 3V3028z"/>
<path transform="matrix(0.43050 0 0 0.43050 73.25 137.05)" stroke-width="4.53" stroke-opacity="0.62" d="M1339 3028V2375l24-2 8-3 8-1 48-28 16-8 8-2 48-26 8-2 16-7 16-2 8-3 16-2 8-2 8 0 8 3 48 1 8 3 16 1 8 4 8 1 8 4 8 1 8 3 16 2 8 3 24 1 8 4 8 0 8 4 8 1 8 4 24 1 8 3 40 2 8 3 24 2 8 3 8 1 8 4 8 0 8 4 8 1 56 32 8 1 16 8 8 1 8 4 16 1 8 3 8-3 16-1 8-4 8-1 8-4 8-1 24-12 8-2 24-13 8-8 16-11 8-8 16-11 8-8 8-6 8-8 32-18 8-2 8-3 16 0 8 3 32 2 8 3 8 1 8 3 8 2 8 3 48 2 24 8 24 1 8 3 32 1 24-1 8-3 24-2 16-7 24-2 8-3 40-1 32 1 16-1 8-4 8 0 48 0 8 1 8 3 64 1 8 0 8 3 24 0 8-3 16-1 8-4 16-1 24 1 8 4 16 1 16-1 8-4 8-1 8-3 8-1 8-4 24-1 8-3 24-2 8-3 8-1 8-4 8-1 8 1 24 13 32 1 24-1 40 1 40 22 16-5 16-8 8 0 16 0 8 4 8 1 32 0 8 4 8 1 16 8 8 0 24-1 8-2 8-1 8-4 16-1 24 9 8 1 8 3 16 2 8 3 8 1 16 8 32 19 8 1 8 3 24 2 8 3 8 1 8 4 16 1 8 3 16-4 8-4 24-1 8-3 8-1 8 0 32 18 16 0 16-8 8-1 16 1 8 4 8 0 56 0 8-1 32-17 16 0 8 3 8 1 16 9 16 4 24 2 8 3 16 1 8 4 8 1 16 8 8 1 8 4 24 1 8 3 8 1 16 8 16 5 8 0 16-9 8 0 32 20 8 3 8 1 8 3 8 1 8-3 24-1 40 23 8 4 8 1 16 9 16-1 8-3 8-1 16 10 8 8 16 10 8 0 16-9 8-1 16 1 8 4 8 1 16 8 8 2 32 17 8 1 8 3 8 0 8-3 16 0 8 0 8 4 24 0 8 5 8 9 8 4 32 1 8 1 8 3 8 1 32-1 8 1 8 3 8 0 8-3 8 0 40 13 48 1 8 3 16 0 8-3 8 0 8 3 16 2 16-2 8-3 8 0 24 12 8 1 8 4 32 1 8 4 8 1 8 4 8 1 8 3 56 1 24 8 8 0 8-3 8 0 8 3 64 2V3028z"/>
<path transform="matrix(0.43126 0 0 0.43126 72.45 135.55)" stroke-width="4.52" stroke-opacity="0.62" d="M1339 3028V2379l16-1 32-9 16-9 8-8 16-9 8-2 16-8 8-1 48-26 8-2 8-3 8-1 8-4 16-1 8-4 64 1 8 3 16 1 8 4 8 1 8 3 8 2 8 3 8 1 8 3 16 2 8 3 16 1 8 4 8 0 8 4 8 1 8 4 24 1 8 4 32 1 8 3 24 2 8 3 16 2 8 3 24 5 48 27 8 2 16 7 8 2 16 7 24 1 16 0 8-4 8-1 8-4 8-1 16-8 8-1 8-4 24-13 16-11 8-8 24-15 8-8 8-6 8-8 16-10 24-14 8-1 8-3 16 0 8 4 32 1 8 3 8 1 8 4 8 1 8 4 40 1 8 4 8 1 8 3 8 1 8 3 16 2 8 3 32 1 24-1 8-3 24-1 8-4 8-1 8-3 40-2 8-3 24-1 8 1 8 3 8 0 8-3 56-2 8-2 8 2 16 2 64 0 8 3 16 1 24-1 8-3 8-1 8-4 24 0 8 0 8 3 16 2 8 3 8-3 16-2 8-3 8 0 24-9 24-1 8-4 16-1 8-3 8-1 8-4 16-1 24 13 8 1 32 0 8-4 8 0 40 0 32 18 8 1 16-2 16-7 8-1 8 0 8 4 16 2 8 2 8-3 8 0 8 4 8 1 16 8 16 5 24-1 8-3 8-1 8-3 16-1 24 8 16 2 8 3 8 1 8 4 8 1 16 8 32 19 8 1 8 3 24 2 8 3 8 1 8 4 8 1 8 3 8 0 16-5 16-7 32-2 8 0 32 19 8 0 8-3 8-2 8-4 8 0 16 1 8 3 24 2 8 2 8-3 24-1 8-3 8-1 24-13 16 0 8 4 8 1 24 13 24 1 8 3 16 1 8 4 8 1 8 3 8 2 16 8 8 1 8 3 32 1 24 13 16 0 16-9 8 0 16 10 8 8 8 1 8 4 8 1 8 3 16 0 8-3 16 0 8 3 24 15 24 13 8 1 8 4 16 0 8-4 8 0 16 10 8 8 16 10 16-1 16-8 8 0 8 4 8 1 16 7 8 2 40 22 16 1 8 3 8-3 16 0 8 0 8 3 24 1 24 15 8 3 8 0 8-3 8 3 8 1 8 4 40 1 8 3 8 1 8 0 8-4 8 0 56 17 48 0 8-3 16-1 8 1 8 3 8 1 8 0 8-4 16-1 8 4 8 2 16 8 16 1 8 3 16 1 8 4 8 1 8 4 8 1 8 4 48 1 8 3 8 1 8 3 8 1 8-1 8-3 8 0 8 0 8 3 8 0 8-3 8 0 8 3 24 1V3028z"/>
<path transform="matrix(0.43202 0 0 0.43202 71.65 134.06)" stroke-width="4.51" stroke-opacity="0.62" d="M1339 3028V2380l24-1 8-3 8-1 56-32 8-2 24-11 8-2 32-17 8-2 8-3 8-1 8-4 8-1 8-3 16-1 64 1 8 3 16 2 16 7 8 1 8 4 8 1 8 3 16 2 8 3 16 1 8 4 8 1 8 3 8 1 8 4 24 2 8 3 24 1 8 3 24 2 8 3 16 1 8 4 8 1 8 3 16 2 48 26 8 1 8 4 8 1 16 8 16 1 8 3 8-2 24-2 16-8 8-1 16-8 8-2 16-8 8-1 8-5 8-7 16-11 8-8 24-15 24-22 24-14 8-1 8-4 24 0 8 1 8 3 24 1 8 3 8 1 8 4 8 2 8 3 32 1 8 3 8 1 8 4 8 1 8 4 16 1 24 8 24 0 16 0 8-3 32-2 8-3 16-1 8-4 40-1 8-3 8 0 8 0 8 3 8 0 16 0 8-3 56-1 16 1 8 3 88 1 32-1 24-8 8 0 8 0 8 3 8 1 8 4 16 1 16-1 8-3 16-1 24-8 16-2 24-7 16-2 24-8 8 0 24 12 8 1 32-1 8-3 32-1 8-4 8 0 32 18 16 4 16-8 16-1 16 1 8 4 40 1 24 12 16 6 24-1 8-3 8-1 8-4 24 1 8 3 8 1 8 3 8 1 8 4 8 1 8 4 8 1 16 8 32 19 8 1 8 4 16 1 8 3 8 0 8 4 8 2 8 3 16 0 16-5 16-8 32-1 8 0 32 18 8 0 16-7 16-2 24 2 8 3 8 1 8 4 8 0 8-1 8-3 16-1 8-3 8-2 16-8 16-1 16 1 24 13 16 5 24 1 8 3 16 1 8 4 8 1 16 8 8 1 8 4 32 1 16 8 8 1 8 4 16 0 16-9 8 0 16 10 8 8 8 1 8 4 16 1 8 3 8 0 8 0 8-3 16 0 8 4 8 8 8 6 24 13 8 1 8 3 8 0 8-3 16 0 16 10 16 16 8 5 8 1 24-9 8 0 8 4 8 1 8 4 8 1 40 22 8 1 8 4 8 0 8 3 8-2 16-1 16 1 8 3 16 0 24 14 24 1 8 3 8 1 8 4 32 1 8 3 8 1 24-1 8-3 8 3 8 1 8 4 8 2 8 3 8 1 8 4 40-1 8-3 24-1 16 1 8 3 8-3 24-1 8 1 16 9 8 1 8 3 16 1 8 3 24 6 16 8 16 2 24 0 8 3 16 1 8 3 24 1 8-4 8 0 8 0 8 3 8-3 48 0V3028z"/>
<path transform="matrix(0.43278 0 0 0.43278 70.85 132.56)" stroke-width="4.51" stroke-opacity="0.62" d="M1339 3028V2384l16 0 8-3 16-2 64-35 8-2 8-3 8-2 32-16 8-2 8-4 8-1 8-3 8-1 8-3 16-2 8-3 8 0 8 3 56 2 8 3 8 1 8 4 8 1 8 4 8 1 8 3 8 1 8 3 16 2 8 3 16 2 8 3 8 1 8 3 16 2 8 3 16 2 8 3 24 1 8 3 24 2 8 3 16 1 8 4 24 5 8 3 8 2 40 22 8 1 24 8 16 2 8 2 8 0 8-3 16-1 24-12 8-2 16-8 8-1 8-4 16-9 16-10 8-9 16-10 8-7 16-11 8-8 8-5 24-14 8-1 8-3 32 0 8 3 24 1 8 4 8 1 8 3 8 2 8 3 16 1 8 3 16 1 8 4 8 1 8 4 8 1 8 4 8 0 8 4 16 2 8 3 16 0 16-1 8-3 32-1 8-3 16-1 8-4 8 0 128-1 8-3 16-1 8 0 8 3 8 1 72 1 8 3 8 0 8 0 8-3 24-1 8-3 24-1 8 0 24 8 8 0 8-3 32-1 24-8 16-1 24-8 16-2 16-8 8-1 16 1 16 9 16 1 24-2 8-3 16-2 8-2 24-2 8 2 32 17 16-1 16-7 8 0 8 0 24 7 8 0 8-2 8 0 8 3 8 1 32 17 24 0 8-3 8-1 8-4 8-1 16 1 8 3 16 2 8 3 8 1 16 8 24 7 8 4 8 8 24 13 8 2 8 3 24 1 16 8 24 1 16-5 16-8 32-1 8 0 24 14 8 1 16-1 16-8 8 0 8 3 16 2 8 3 8 1 8 4 8 1 8-1 8-4 8-1 8-3 16-2 24-8 16 0 16 8 8 1 16 9 24 1 8 3 16 1 56 17 24 1 8 4 8 1 16 8 16 1 8-1 8-4 16-1 8 2 8 8 8 5 8 1 8 3 16 1 8 3 24 1 8-4 8 0 16 10 8 8 8 6 16 8 8 1 8 3 8-3 24 0 8 4 24 22 8 5 16 0 8-4 16 0 8 4 8 1 8 4 8 1 40 22 8 1 8 3 16 2 40-1 8 3 16 2 24 13 24 1 8 3 8 1 8 3 16 2 8 3 32 2 24-2 16 1 8 4 8 2 8 3 8 1 8 4 24 0 16-1 8-3 8-1 40 0 8 0 8-4 16 0 24 14 8 0 8 3 16 2 8 3 8 1 8 4 8 1 16 8 16 4 8-3 16 1 24 7 16 2 24-2 8-3 72 0V3028z"/>
<path transform="matrix(0.43354 0 0 0.43354 70.05 131.06)" stroke-width="4.50" stroke-opacity="0.62" d="M1339 3028V2389l16 0 8-3 16-2 56-30 8-2 8-3 8-1 8-4 8-1 16-8 8-1 16-8 16-2 8-3 16-1 8-4 8 0 48 1 8 2 16 2 8 3 8 1 8 4 8 1 8 3 8 1 8 4 16 2 8 3 16 1 8 4 16 1 24 7 24 2 8 4 16 1 8 3 24 1 8 3 24 2 8 3 8 1 8 4 16 1 24 12 8 2 24 13 8 1 24 8 24 1 24-1 8-3 8-2 32-17 8-1 24-13 8-1 8-8 8-6 8-8 24-15 8-8 16-11 8-7 24-14 16-2 8-3 16 0 8 3 24 2 8 3 16 1 16 8 8 1 8 3 24 2 8 3 8 1 8 4 8 2 16 7 16 2 8 3 8 1 8 3 16 1 8 0 8-3 8-1 40-1 8-3 16-2 8-3 128-1 8-1 8-3 8 0 8 0 8 4 8 1 8 3 8 0 8-3 8 3 80 1 8-1 8-3 24-1 24 1 8 4 8 0 48 0 8-1 8-4 24-5 24-8 8-1 8-4 8-1 16-8 16 1 16 8 16 3 8-2 16-2 8-3 24-2 8-3 16-1 8 1 24 13 16 4 8-3 8-1 8-3 16 0 8 3 8 1 8 3 8-3 16 0 8 3 8 2 32 17 24 0 8-4 8 0 8-4 8-1 32 1 8 4 8 0 16 8 8 2 16 8 8 1 16 9 8 8 16 9 8 2 8 3 24 1 16 8 24 1 16-6 16-7 8 0 8 3 8-3 8 0 16 5 16 8 8 1 16-2 16-8 8 1 8 3 24 5 16 8 8 1 8-1 24-12 16-2 8-3 24-1 16 1 24 13 16 1 8 3 32 2 8 3 8 1 8 4 8 1 8 4 8 1 8 3 24 1 8 3 8 2 16 8 24 0 8-4 16 0 24 13 16 1 8 3 8 1 8 4 16 2 8-1 8-4 8 0 16 9 16 17 8 5 16 4 8 0 8-3 16 0 16 8 16 10 8 8 8 5 40 1 8 4 8 1 16 8 8 1 24 13 8 1 8 4 8 1 8 3 40 0 16 2 8 3 8 1 8 3 8 2 16 8 24 1 24 8 16 1 8 4 64 0 8 4 8 1 8 4 8 1 8 3 16 1 16-1 8-3 8-2 8-3 24 0 8 3 8-2 16-2 8-3 8 3 24 15 8 3 24 1 8 4 16 2 32 16 8 1 8-4 16 0 16 8 16 2 8 3 8-3 16-2 8-3 72 0V3028z"/>
<path transform="matrix(0.43430 0 0 0.43430 69.25 129.56)" stroke-width="4.49" stroke-opacity="0.62" d="M1339 3028V2395l32-1 8-4 8-1 48-26 8-1 8-4 16-1 8-4 8-1 16-7 8-2 8-3 8-1 8-3 24-2 8-3 24 0 8 3 40 1 8 4 16 1 8 4 24 5 8 4 8 1 8 3 16 2 8 3 24 1 8 3 16 2 8 3 16 1 8 3 32 2 8 3 24 2 8 3 16 1 8 4 8 1 8 3 16 2 40 21 8 1 8 4 8 1 8 4 8 1 8 3 16 0 8-3 24-2 40-21 8-2 24-12 24-15 8-9 16-10 8-8 16-10 8-8 8-5 24-14 8-1 8-3 40 0 8 3 16 1 8 3 8 1 8 4 8 1 8 4 16 2 8 3 8 0 8 4 8 1 16 8 8 1 8 4 8 1 8 3 8 1 8 4 24 1 16-1 8-3 8-1 40-1 8-3 16-1 8-3 40 0 8 3 8 0 16 0 8-3 8 0 8 3 16 0 8-3 24-2 16 2 8 3 64 1 8 3 8 1 40-1 8-3 16-1 32 1 8 4 8 0 48 0 8-1 8-3 8-1 16-8 8-1 8-4 8 0 8-4 8-1 16-8 8-2 16 1 8 4 8 1 8 4 8 0 8-1 8-3 16-1 8-4 24-1 8-3 8 0 8 3 8 1 16 8 8 2 8 3 8 0 8-4 8 0 24 1 8 3 8 0 8 0 8-3 8 0 8 3 8 2 32 17 24-1 8-3 8-1 8-3 8-1 16-1 24 2 16 7 8 2 16 8 8 1 8 4 24 15 8 7 8 5 8 1 8 4 16 1 8 3 8 1 8 4 24 0 8-3 8-2 8-4 8 0 40 1 16 8 16 4 8-3 8-1 8-4 16-1 8 1 8 4 16 2 24 11 32-16 56-2 8 1 16 8 8 2 8 3 48 1 8 4 8 1 8 3 8 1 8 4 24 1 8 4 8 0 8 4 8 2 16 7 32 0 8-3 16 5 16 8 16 1 16 4 16 8 16 0 8-4 8 0 8 1 16 14 8 9 16 8 48 1 32 19 8 7 24 2 8 3 8 1 8 4 8 1 16 8 8 1 8 3 8 2 16 8 8 1 8 4 8 1 8 3 8 0 8-3 16-1 24 9 8 0 8 4 8 1 16 8 24 2 8 3 16 2 24 8 64 0 8 1 8 3 8 1 8 4 8 0 8 4 16 1 8-1 16-9 8-1 40 2 8-1 8-4 8 0 8 4 24 15 8 3 32 2 8 3 8 1 32 17 8 0 8-3 16 0 16 8 16 2 8 2 24-7 24 0 8 3 16 0 8 0 8-3 16 0V3028z"/>
<path transform="matrix(0.43506 0 0 0.43506 68.45 128.07)" stroke-width="4.48" stroke-opacity="0.62" d="M1339 3028V2403l8-2 32-2 24-12 8-2 24-12 8-2 8-3 16-1 8-4 8 0 8-4 8-1 8-3 16-2 8-4 24-1 8-3 24 0 8 3 40 2 8 4 24 5 8 3 16 2 8 3 8 1 8 4 8 1 8 3 32 2 8 3 24 1 8 3 16 2 8 3 32 1 8 3 32 2 24 8 8 1 8 3 8 1 24 13 8 1 16 9 8 1 16 7 16 1 32 0 8-1 8-3 8-1 48-26 8-2 8-4 16-10 16-16 32-21 24-21 24-13 16-2 8-3 32 0 8 3 16 1 8 3 8 1 8 4 8 1 8 4 8 1 8 3 16 2 16 7 8 2 16 8 8 1 8 4 8 1 8 3 8 1 8 3 8 1 16-1 24-7 24 0 8 2 8-2 16-2 8-3 48 0 8 3 8 1 16-1 8-3 8 3 16 0 8 0 8-3 24-2 16 2 8 4 32 1 8 3 8 0 40 1 32-1 8 0 8-3 8-1 16 1 8 2 24 2 24-1 24 0 8 0 8-4 8-1 16-8 40-10 24-12 16 0 16 8 8 0 24-1 8-3 32-1 8-3 16-1 8 1 16 7 8 1 8 4 8 1 16-1 8-3 8 0 8 3 16 1 40 0 24 13 16 5 24-1 8-3 16-1 8-4 8-1 16 0 16 2 16 7 8 2 16 8 8 1 8 4 24 14 8 8 16 9 40 6 8 4 16 0 16-1 16-7 8 0 8 3 24 1 8 3 8 2 8 3 8 1 16-1 16-8 8 0 8 3 16 2 8 3 8 1 24 13 8-4 24-14 8-4 8 0 8 0 8 3 32 1 16 8 16 2 8 3 8-3 16 0 8 3 16 1 40 13 24 1 8 3 8 2 16 8 40 1 8 3 16 2 16 8 24 1 24 12 16 1 8-4 8-1 8 1 16 17 16 11 8 3 48 1 48 26 16 2 8 3 8 1 16 8 8 2 8 3 16 1 16 8 8 1 16 8 8 1 8 4 8 0 8-4 8 0 16 1 16 8 8 1 8 3 8 1 8 4 8 1 8 4 16 1 8 3 16 1 16 8 8 1 8 3 8-2 48-2 8 1 8 4 16 1 8 3 8 1 8 4 8 0 24-12 16-1 8 3 16 1 8 0 8-3 16-2 8 2 16 17 8 4 40 1 8 3 8 2 24 13 8 1 24-2 8 1 24 9 8 1 24-2 8-3 8 0 16 1 8 3 8 0 40 0V3028z"/>
<path transform="matrix(0.43582 0 0 0.43582 67.65 126.57)" stroke-width="4.47" stroke-opacity="0.62" d="M1339 3028V2408l8-2 32-2 16-8 8-1 24-13 8-1 8-3 16-2 8-3 16-1 8-3 16-2 8-3 8-1 8-3 40-2 40 2 8 3 16 1 8 4 8 0 8 4 16 1 8 4 24 5 8 4 16 1 8 3 24 2 8 3 32 1 8 3 32 2 8 3 32 2 8 2 16 2 8 4 8 1 8 3 8 1 8 4 8 1 32 17 8 1 16 8 8 1 8 3 16 1 8-1 8-2 24-2 24-12 8-2 56-31 8-5 8-9 16-10 8-7 24-16 8-8 8-5 16-9 8-1 8-3 8 0 48 0 8 3 8 1 8 4 8 1 8 3 8 2 8 3 8 1 8 4 8 1 8 3 8 2 24 12 8 1 8 4 8 1 8 3 16 2 8 3 8 0 8-3 16-2 8-4 32 1 32-2 32 0 80 1 16-1 8-3 8-1 16 1 8 4 8 1 8 3 64 2 8 3 8 0 16-1 8-3 24 0 56 0 16-1 8-3 8 0 8 3 16 0 16-8 8-1 16-8 24-5 8-4 8-2 16-8 8 0 8 0 8 4 8 2 8 3 8 0 8-4 48-1 8-3 16 0 8 3 16 2 24 7 16 0 8-3 8 0 8 3 16 1 40-1 8 1 24 13 8 0 32 0 8-3 16-2 8-3 16-1 8 1 8 3 8 2 16 7 8 2 16 8 8 1 16 9 8 8 16 10 16 9 24 0 8 4 16 1 24 0 8-4 16 0 8 3 16 2 8 2 8 1 8 4 16 1 8 0 8-4 8-1 8-3 8 2 16 2 8 3 16 2 24 12 40-22 16 1 8 3 24 1 8 3 8 1 8 4 8 1 8 3 8 0 8-3 24 0 8 3 16 2 24 8 24 1 16 7 8 2 16 8 32 1 8 3 16 2 8 3 8 1 8 4 24 1 32 17 8 0 16-8 8 4 8 5 16 17 8 5 48 1 8 3 8 2 40 21 24 6 8 4 8 1 16 9 16 0 8 3 8 1 8 4 8 1 16 8 8 1 8 3 8-2 24-1 24 9 24 5 16 8 8 1 8 3 32 2 24 12 8 1 16-1 8-3 40 0 8 4 24 1 8 3 8 1 8 3 24-12 16-1 8 1 8 4 8 0 8 0 8-4 16-1 8 4 8 6 8 9 8 5 24-1 24 1 32 18 16 0 8-4 8 0 8 3 8 2 16 7 8 1 16-1 8-3 16-1 16 1 24 8 16 0 8-3 8 0V3028z"/>
<path transform="matrix(0.43658 0 0 0.43658 66.85 125.07)" stroke-width="4.47" stroke-opacity="0.62" d="M1339 3028V2413l8 0 8-2 24-2 16-8 8-1 16-8 8-1 8-4 8-1 8-3 24-2 8-3 16-1 8-3 16-2 8-3 40-1 24 1 8 3 24 2 24 8 16 1 24 8 8 1 24 8 16 1 8 3 40 2 8 3 24 2 8 3 48 1 8 3 16 1 8 3 16 2 8 4 8 1 24 12 8 1 24 13 8 1 16 8 24 1 32-1 8-3 8-1 32-18 8-1 40-23 24-21 32-20 8-8 16-10 24-13 16-1 24 0 32 1 8 3 8 1 8 4 8 1 8 4 8 1 8 3 8 1 8 4 8 1 24 12 8 2 8 4 8 1 8 3 8 1 8 3 16 1 16 0 8-4 16-1 48 0 8-3 16 0 8 2 8 0 8-2 8 2 16 1 56 1 8-1 8-3 16-2 16 1 8 3 8 1 24 1 8 3 40 2 8 3 8 0 8 0 8-3 8-1 80 0 8-4 8-1 40 0 8-3 8-2 24-12 16-2 8-3 8-1 16-9 16-3 16 4 8 4 8 0 24-1 8-3 48 0 8 0 8 3 16 1 8 4 16 1 40 0 8 3 24 0 8-3 16 0 8 4 8 1 16 8 56 0 24-8 8 0 8 3 8 1 8 4 8 1 16 8 8 1 8 4 32 18 8 6 8 8 8 4 24 1 8 3 8 1 8 4 24 0 8-3 16-1 8 1 16 7 24 2 8 3 8 1 16 0 8-4 8-1 16 0 8 1 8 3 24 2 24 12 8-4 24-15 8-3 8 0 8 3 24 2 40 12 16 0 8-3 32 0 8 4 8 1 8 3 8 1 8 4 24 1 40 17 32 1 8 4 24 5 8 4 8 1 8 3 16 1 24 13 16 1 8-1 8-3 16 8 8 9 16 10 24 0 8 3 24 2 16 7 8 2 24 13 8 1 8 3 8 2 32 16 24 0 16 2 16 8 8 1 8 4 40 0 16 8 16 2 8 3 8 0 16 9 8 1 8 3 32 2 32 17 8-1 8-3 32-1 8-3 8 3 40 2 8 4 8 0 8-1 16-9 16 0 8 1 8 3 8 1 16-1 8-4 8 0 8 5 16 17 8 5 16-4 24 0 8 1 32 17 8 0 8-3 16-1 8 1 16 8 8 1 8 3 8 0 8-3 24-2 16 2 16 7 8 2 32-1V3028z"/>
<path transform="matrix(0.43734 0 0 0.43734 66.05 123.57)" stroke-width="4.46" stroke-opacity="0.62" d="M1339 3028V2419l24-1 8-3 8-1 8-3 8-2 16-7 8-2 8-4 8 0 8-4 16-1 8-3 16-1 8-3 24-2 8-4 48-1 32 2 8 3 16 1 24 8 16 2 8 3 8 1 8 3 24 6 8 4 16 1 8 3 48 2 8 3 16 1 8 3 8 0 8-3 8 3 40 1 8 3 16 2 8 4 8 1 16 7 8 2 24 12 8 1 24 12 32 2 40-1 8-3 8-2 40-21 8-2 16-9 8-7 16-11 8-8 24-15 8-8 16-10 8-8 8-2 16-7 16-2 8-2 24-1 8 3 24 2 24 8 8 1 8 4 8 1 8 3 8 1 24 12 8 2 8 4 8 1 8 3 8 1 8 4 16 1 8 2 8 0 8-2 8-1 8-4 8 0 104 0 8 3 8 1 16-1 8-3 8 0 8 3 16 1 8-1 8-4 8 0 8-3 8 0 8 3 8 1 8 3 32 1 8 4 40 1 8 3 8 0 8-3 24-1 8-3 56-1 8-1 8-3 48-1 24-13 8-1 8-3 24-2 24-12 8 0 16 4 8 4 8 1 32-2 8-2 24 0 8 3 24 1 8 3 24 1 8 4 8 0 8-3 8 0 8 3 16 1 56-1 8 1 8 4 8 1 8 3 48 1 8-1 8-3 16-1 8 0 8 4 16 2 32 16 8 2 16 9 8 8 16 10 16 8 24 0 8 2 8 3 8 1 24-2 8-2 16 4 16 8 24 1 8 3 16 1 8 0 8-4 24 0 8 3 32 1 16 9 8 0 8 0 8-5 8-8 8-5 8-1 16 1 8 4 16 1 40 12 8-3 16 0 32 0 8 3 8 1 8 4 8 1 8 4 24 1 16 7 32 10 24 1 8 4 8 1 8 3 8 1 24 8 16 1 32 17 8 0 8-3 16 0 8 5 8 8 16 9 16 1 8 3 24 1 8 4 8 1 8 3 8 1 32 18 24 5 24 13 8 0 8-3 16 0 16 7 8 2 16 7 32 1 16 1 16 8 24 1 24 13 8 1 8 3 32 1 8 5 8 8 16 4 8-3 32-1 8-3 32-1 8 1 24 8 16-8 16-5 8 0 16 8 8 1 16-1 8-4 8 0 8 5 16 17 8 5 24-8 8 3 8 1 8 3 8 2 24 12 16-4 8-3 16 4 16 8 24 1 16-1 8-3 8 0 8 3 8 1 24 13 16 0 8-3 8-1V3028z"/>
<path transform="matrix(0.43810 0 0 0.43810 65.25 122.08)" stroke-width="4.45" stroke-opacity="0.62" d="M1339 3028V2428l16 0 8-3 8-1 8-4 8-1 8-4 8-1 16-8 8-1 8-3 8-1 8-3 16-2 8-3 16-1 8-3 16-2 8-3 24-1 40 0 8 1 8 3 16 1 40 12 16 2 8 3 24 6 8 3 16 2 8 3 24 1 8 3 48 2 8 3 8 0 8-3 8 0 8 3 40 1 8 3 16 2 16 8 8 1 24 12 8 1 16 8 8 2 16 8 16 1 48-2 16-7 8-2 56-30 16-10 8-8 32-20 24-21 16-9 8-2 8-3 16-2 8-3 8 0 24 1 8 2 24 2 16 7 8 1 8 4 8 1 8 4 8 1 8 4 8 1 16 8 8 1 16 7 16 2 8 3 8 0 24 0 8-3 16-1 8-3 8 2 96 2 8 3 8-3 24 0 8 3 16 0 24-7 8-1 8 1 8 3 16 1 8 3 32 2 8 3 48 1 16-1 8-3 72-2 8-4 8-1 8-3 8 1 8 3 16 0 8-3 8-2 24-12 32-1 16-8 16-1 8 0 24 8 8 0 8-3 64 0 8 3 16 2 8 3 56 1 8 4 8 1 32-1 8-4 16 0 8 4 8 1 8 3 32 1 8 4 8 0 16 0 8-4 16-1 8 1 8 4 16 1 8 4 72 42 16 7 24 1 8 4 8 1 32-1 16 0 16 9 24 2 8 3 16 1 24-1 8-3 8 0 8 3 8 1 32-1 24 9 8 0 16-10 8-7 8-1 16 1 8 3 16 2 16 7 8 1 8 4 16 0 8-3 16-2 24 1 8 4 8 1 16 8 24 1 8 3 8 1 16 8 8 2 8 3 32 2 16 7 8 1 8 4 8 1 8 4 8 1 8 3 16 1 24 14 32 0 32 17 8 1 8 3 16 2 8 3 16 1 8 4 8 1 8 3 8 2 8 7 8 5 40 11 16 8 16-1 8-3 32 9 16 8 40 1 8 4 8 1 8 3 24 1 24 13 8 1 8 3 32 1 8 5 8 8 8 4 16 1 8-3 48-2 8-3 8-1 8 0 24 9 8-1 16-8 8-1 8 1 8 4 8 1 8 4 8 0 8-3 16-1 8 4 16 18 8 1 8 0 8-4 16 0 16 7 8 1 16 9 16 0 8-4 16 0 24 13 16 1 16-1 8-4 24 0 32 17 24 0 8-3V3028z"/>
<path transform="matrix(0.43885 0 0 0.43885 64.45 120.58)" stroke-width="4.44" stroke-opacity="0.62" d="M1339 3028V2435l32-2 16-8 8-1 16-8 8-1 8-4 24-5 8-3 16-2 8-4 16-1 8-3 8-1 8-3 24-2 32 1 16 1 8 3 24 2 16 7 8 1 8 3 16 2 24 7 16 2 8 4 8 1 8 3 32 1 32 0 8 3 16 1 72 1 8 3 16 2 16 7 8 2 24 12 8 1 16 8 8 1 16 8 16 1 48-1 8-3 8-2 32-16 8-2 24-13 8-5 8-8 16-10 8-8 24-15 8-8 24-14 8-4 8-1 8-3 16-1 48 0 8 3 16 2 16 7 8 1 8 4 24 6 16 8 8 1 8 4 8 1 8 3 8 1 8 3 16 1 24 0 8-3 16-1 40-1 56 2 8 2 16 1 24 0 24 1 16-1 8-3 16-1 16 1 8 3 32 1 8 3 16 2 8 3 40 0 8-1 8-3 24-1 8-3 48-2 8-3 8-1 32 1 16-1 24-12 40-1 8-4 8-1 8-3 8 0 8 0 16 8 8 0 32-1 8-3 24 0 8 3 16 1 8 4 64 2 24 7 16 0 8-3 16-2 8-3 8 0 8 4 16 1 8 3 24 2 8 3 24 1 8-1 8-4 8 0 8 4 16 1 8 3 8 1 24 15 8 7 8 5 40 22 24 1 24 9 16 0 8-4 16 0 16 5 16 9 32 0 8 3 8 1 16-1 8-3 8 0 8 3 8 1 16-1 8-3 8 0 24 8 8 0 32-17 8 0 24 7 16 2 16 8 8 1 24-1 8-3 24-1 8 4 8 1 24 12 32 2 16 7 8 2 8 3 8 1 8 3 8-2 8 2 8 1 24 9 8 1 16 8 8 1 8 3 16 2 24 13 16 1 8 2 16 2 16 8 8 1 8 3 8 2 16 7 16 2 8 3 16 1 40 22 16 1 16 5 16 8 16-1 8-3 8 0 8 3 8 2 16 8 8 1 8 3 24 2 8 3 16 1 24 0 16 5 24 12 32 1 8 3 24 15 8 4 32-1 8-3 16-1 8-3 24-1 8 1 16 7 16-4 8-4 8 0 8 1 16 8 16 4 8-3 16-1 8 5 8 8 8 6 8 4 8-1 8-4 16 1 16 8 8 1 16 8 8 1 8-4 8-1 16 1 24 13 8 0 16 0 8-4 8-1 24 0 32 18 24 0 8-3V3028z"/>
<path transform="matrix(0.43961 0 0 0.43961 63.65 119.08)" stroke-width="4.44" stroke-opacity="0.62" d="M1339 3028V2443l16-1 8-3 8-1 8-4 8-1 16-7 8-2 16-7 16-2 40-12 16-2 8-3 8-1 8-4 8-1 8-3 32 0 8 3 24 2 8 3 16 1 16 8 16 2 8 3 16 1 8 3 8 1 8 4 8 1 8 3 16 1 8 3 24 2 32-1 16 1 8 3 8 0 8-3 48 0 8 3 16 1 8 4 8 1 16 8 8 1 16 8 8 1 16 8 8 2 16 8 16 1 48-1 8-1 16-8 8-1 48-25 32-21 8-7 24-15 8-8 24-14 8-4 8-1 8-3 16-1 48 0 8 3 16 2 24 8 24 5 16 8 8 2 8 3 8 1 24 8 16 2 8 2 16 0 8-3 48-1 8-3 8 0 8 3 56 2 8 3 56 1 24-2 8-3 8 1 8 2 32 2 8 3 24 1 8 4 40 0 16-1 8-3 16-1 8-3 16-2 8-2 40-2 8-3 16 0 8 3 8 1 16-1 24-12 40 0 8-1 8-4 8 0 16 0 24 8 8 0 8-4 32-1 8-3 8 3 24 2 8 3 40 2 8 2 8-2 16 3 8 4 8 0 16 0 8-3 8-1 8-3 24-1 8 3 24 2 8 3 8 1 8 4 16 1 16-2 8-3 8 1 8 3 16 1 8 3 8 1 16 10 8 8 8 5 8 8 8 4 8 2 16 8 8 1 8 3 16 1 16 8 8 2 16-1 8-1 8-3 8 0 24 12 16 5 8-3 8-1 8 1 8 3 56 1 8-1 8-3 16-2 8 1 8 4 16 1 8-1 24-12 8 0 8 3 16 1 40 17 8 0 8-3 8-1 8-4 24 0 16 8 8 2 16 8 16 1 8 2 16 2 16 7 8 2 8 3 32 1 8 4 8 1 24 12 8 2 8 3 16 1 32 17 16 2 8 2 24 2 8 4 8 1 24 12 8 1 8 4 16 1 8 3 8 1 40 22 24 1 24 12 8 1 8-4 8-1 16 1 16 8 8 2 8 3 8 1 8 3 8 1 8 4 24 1 32 0 24 12 16 2 8 3 8-3 16 3 16 10 8 8 8 4 32 1 8-3 16-2 24-8 8 0 16 8 8 1 16-1 8-3 8-1 24 13 16 2 24-1 16 10 8 8 16 0 16-4 24 13 8 1 16 7 8 1 8-4 16-1 8 1 8 5 8 7 8 2 16 0 8-1 8-3 24-2 8 1 24 12 16 5 8 0 8-3 8 0V3028z"/>
<path transform="matrix(0.44037 0 0 0.44037 62.85 117.58)" stroke-width="4.43" stroke-opacity="0.62" d="M1339 3028V2448l16-1 8-3 8-1 8-3 24-6 16-8 8-1 8-3 16-2 16-7 8-2 8-3 16-2 8-3 8-1 8-4 8-1 8-3 32 0 8 3 24 2 8 3 16 1 16 8 8 1 8 3 24 2 8 3 8 1 8 4 8 0 8 4 24 2 8 3 152 1 32 9 16 8 8 1 16 8 8 1 24 12 8 2 8 3 56 0 8-3 8-1 8-4 8-1 32-17 8-1 8-4 16-10 8-7 24-16 8-7 24-16 8-7 8-1 8-4 8-1 8-4 16-1 64 2 24 8 8 1 8 3 8 1 8 3 8 2 16 8 24 5 8 4 16 2 8 3 32-1 8-2 64-2 16 1 8 3 72 2 8 3 8 0 16 0 8-3 8-1 24 1 8 3 40 1 8 4 24 1 40 0 24-2 8-3 8-1 8-4 16-1 8-3 32-1 8-3 8 0 8 3 24 1 8-1 16-7 8-2 40 0 8 0 8-3 16-2 16 2 8 4 8 0 24-1 8-3 16-1 32 0 8 1 8 3 32 1 8 3 32 1 8 4 8 0 8 0 8-3 16-1 8-4 16-1 16 1 8 3 16 1 8 4 8 1 8 4 16 0 8 0 8-4 16 0 8 4 16 1 8 3 8 1 16 10 16 17 16 9 8 4 16 1 8 4 24 5 24 12 8 1 24-8 8 0 24 12 16 4 8-3 16 0 8 0 8 3 40 2 16-1 16-8 8-1 8 1 8 4 16 4 16-5 16-8 8 0 8 3 16 2 24 12 16 5 8 0 8-3 8-1 8-4 24 0 32 17 16 4 24 1 8 4 8 1 8 3 8 1 8 4 40 2 40 21 16 1 8 3 8 1 24 13 8 1 8 4 24 1 8 3 16 1 32 18 8 1 8 3 16 1 16 8 32 18 32 1 16 9 16-1 8-3 8 0 8 3 8 2 24 12 8 1 24 8 24 1 16-2 8-2 16 4 24 13 40 1 8 4 8 8 8 6 16 7 24 1 8-3 16-2 8-3 8-1 8-4 16 0 16 8 32 0 8 1 24 13 32 0 24 15 8 3 8 0 8-4 8 0 32 17 24 2 8-1 8-3 16 4 8 7 8 5 16 4 8-3 8-1 8-3 24-2 16 2 24 12 32 0V3028z"/>
<path transform="matrix(0.44113 0 0 0.44113 62.05 116.09)" stroke-width="4.42" stroke-opacity="0.62" d="M1339 3028V2453l24-1 8-3 8-1 8-4 8-1 8-3 8-2 16-7 16-2 8-3 8-1 16-8 16-1 8-4 8-1 8-3 8-1 8-4 8-1 8-3 8 0 8 3 32 2 8 3 16 1 8 3 8 2 8 3 8 1 8 4 8 0 8 4 24 2 24 7 16 1 8 3 24 2 24-2 32 2 40-1 48 1 8 3 8 1 16 8 8 2 16 7 8 1 24 12 32 10 8 0 40 0 8-3 8-1 8-4 8-1 16-8 8-1 16-8 8-2 24-13 8-8 24-15 8-7 24-16 16-7 8-2 8-3 8-1 56 0 24 2 24 8 24 5 8 3 8 2 16 7 8 1 24 8 16 2 8 3 8 0 8-3 56-2 8-3 16 0 8 3 56 2 8 3 40 2 8 2 8-3 16-1 40 2 8 2 24 2 8 3 24 1 56-1 8-3 8-1 24-8 32-2 8-3 24 0 8 0 8 3 16 1 8-4 8-1 8-4 8-1 48 0 8-3 24-1 8 0 8 4 16 1 8-4 16-1 8-3 16-2 32 2 8 3 32 1 8 3 32 1 8 4 8 0 8 0 8-3 16-2 8-3 32 0 8 3 16 1 8 4 8 1 8 4 16 0 8-4 16 0 8 0 8 4 16 1 8 3 8 1 8 4 16 17 16 15 8 4 24 1 24 8 8 1 24 13 16-1 8-3 16-1 8 1 16 8 16 4 8-3 16-1 16 1 8 3 24 2 16-1 24-9 16 0 8 1 8 4 16 0 8-1 16-8 8 0 8 3 16 2 32 17 24 0 8-4 16-1 8-3 16 4 32 17 32 2 8 3 8 1 24 8 32 0 8 4 8 2 32 18 8 3 24 1 24 12 8 2 8 4 24 1 8 2 16 2 8 5 8 8 16 8 24 2 8 3 8 1 16 9 8 8 8 5 8 1 24-1 8 0 16 9 40 1 32 17 8 1 24 8 8 1 8 3 8-3 8-1 8-3 16 0 24 12 16 4 8-3 8 0 8 3 8 1 16 10 8 8 8 4 8 1 8 3 16 0 8-3 16-1 8-3 8-1 8-4 16-1 16 9 32 1 32 17 16 0 8-3 16 5 8 7 8 5 32 0 24 14 8 1 8 3 16 1 8-1 8-3 8 0 16 9 8 7 8 2 24-2 8-3 8-1 8-3 8 0 8 3 8 1 16 8 16 1 24-1V3028z"/>
<path transform="matrix(0.44189 0 0 0.44189 61.25 114.59)" stroke-width="4.41" stroke-opacity="0.62" d="M1339 3028V2458l24-1 8-3 16-2 8-3 8-1 8-4 8-1 8-3 24-5 24-9 8-1 24-8 8-1 8-3 8-1 8-3 24-1 8 1 8 3 24 1 8 3 16 2 16 7 8 1 8 4 16 1 8 3 16 1 8 4 16 1 8 3 24 2 8 3 16 0 8-3 8-1 8 0 8 4 16 0 16 0 8-3 56 0 32 9 8 3 8 2 16 7 8 1 16 8 8 2 16 8 8 1 8 3 40 1 16-1 8-4 8 0 8-4 8-1 8-4 8-1 16-7 8-2 32-18 8-7 24-15 8-8 16-10 8-4 8-1 8-4 8-1 8-3 72 0 8 3 16 2 8 3 16 1 8 4 8 1 24 11 16 2 24 8 24 1 48-1 8 0 8-3 24-1 16 1 8 3 8 0 8-3 16 0 8 3 32 1 8 3 8 1 24-1 8-3 8 0 8 3 40 2 8 3 16 1 8 3 16 1 56-1 8-3 8-1 16-8 16-1 8-3 48-1 16 1 8 3 8-3 8-1 8-4 24-2 8-2 24 2 8-2 16-2 8-3 8 0 24 8 8-3 8-1 8-4 16-2 8-3 8-1 32 2 8 3 24 1 8 3 8 1 32 1 8 3 8 0 16-1 24-7 16 0 8 3 24 1 8 3 8 1 8 4 8 1 16 0 8-4 16-1 8 1 8 4 8 1 8 3 16 1 8 5 32 34 32 2 8 3 8 2 32 16 8 1 24-1 8-3 16 0 24 12 8 0 8-3 16-2 16 2 24 8 8 0 8 0 16-8 8-1 8-4 16 0 8 1 8 3 16 1 8-1 8-4 16-1 16 2 8 3 8 1 24 14 8 3 8 0 8-3 16-2 8-3 16 0 32 18 32 0 8 4 8 1 8 3 8 1 8 3 40 2 16 8 32 18 32 1 32 17 16 4 32 1 16 9 8 8 8 5 16 4 24 1 24 14 8 8 16 5 8 0 8-4 16 1 24 12 32 1 40 21 8 1 8 4 8 1 8 3 16 0 8-3 8-1 8-3 16 4 16 8 16 4 8-3 8 0 8 3 8 1 16 10 8 7 8 5 8 1 8 3 16 1 8-3 24-2 16-8 16-1 8 1 8 8 16 5 16 0 16 6 24 11 8-2 16-1 24 14 8 3 8-3 16 0 8 4 8 8 8 2 8 3 8 1 8 3 8 0 8-3 16 0 32 17 16 0 24-8 16-1 8 1 24 8 16 1 24-1V3028z"/>
<path transform="matrix(0.44265 0 0 0.44265 60.45 113.09)" stroke-width="4.41" stroke-opacity="0.62" d="M1339 3028V2462l24-1 8-3 16-1 8-3 8-1 8-3 8-1 8-4 16-1 8-4 8-1 8-3 8-2 8-3 8-1 24-7 16-2 8-3 24-1 16 1 8 3 16 2 8 3 16 1 16 8 8 1 8 3 16 1 8 3 16 2 8 3 16 2 8 3 24 1 8 3 16 0 8-3 8 0 16 0 8 3 8 1 16-1 8-3 64 0 8 3 8 1 8 4 8 1 8 4 8 1 16 7 8 2 24 12 8 1 8 4 16 1 8 3 24 0 8-3 24-1 8-4 8-1 8-3 8-1 8-4 8-1 8-4 8-1 24-13 8-8 24-15 8-8 16-9 8-4 8-2 16-7 16-1 64 0 16 1 8 3 16 2 8 3 8 0 8 4 8 2 16 7 16 2 24 8 8 0 72-1 8-3 16 0 64-1 16 1 8 3 32 2 8 2 8-2 24-2 16 2 8 3 40 1 24 8 8 0 8 0 8-3 8 0 8 0 8 3 16 0 8-3 8-1 16-9 8-1 8-3 48-2 40 1 8-1 8-3 16-1 8-3 48-1 8-3 16-1 8 0 8 4 16 0 8-4 24-5 8-4 8-1 24 1 8 4 16 1 8 3 24 2 8 3 48 1 8-1 8-3 24-2 24 2 8 2 16 2 8 3 24 2 8-1 8-4 16 0 24 8 16 1 8 4 8 5 24 27 16 8 32 0 16 9 8 1 24 12 16 0 8-3 24 0 24 8 8 0 8-3 8-2 16 1 8 1 24 12 8 0 16-8 8-1 16-8 16 0 8 3 24 2 16-2 8-3 8 0 8 3 16 2 40 21 8 0 8-3 16-2 8-3 16 1 32 16 16 0 8-3 16 5 16 7 16 1 8 3 32 1 8 4 8 2 8 4 8 8 16 9 24 0 16 1 32 17 32 1 16 5 16 16 8 5 32 1 8 4 16 9 8 6 8 7 16 5 8-3 8-1 16 0 24 13 8 1 8 3 24 2 8 4 8 7 8 2 16 8 8 1 8 4 24 0 8-1 8-3 16 0 16 8 8 1 8 4 40 1 8 4 8 8 8 5 8 4 8 1 8 3 48 0 24-12 8-1 24 14 8 1 8 3 16 1 24 13 32 0 24 13 32 0 24 14 8 1 8 3 40 1 8 3 8 2 16 8 24-1 8-3 8-1 8-3 8 0 8 3 16 2 8 3 40-1V3028z"/>
<path transform="matrix(0.44341 0 0 0.44341 59.65 111.59)" stroke-width="4.40" stroke-opacity="0.62" d="M1339 3028V2464l40-2 8-3 16-1 24-8 16-2 24-8 8-1 8-3 16-1 24-8 40-1 16 1 8 3 16 2 8 3 16 2 16 7 8 1 8 3 16 2 8 3 16 2 8 3 8 1 8 3 24 1 8 3 24 0 8-3 8 0 8 0 8 4 16 0 16-1 8-2 8-1 40-1 24 2 16 7 8 1 24 8 8 1 16 8 8 1 16 8 8 1 8 4 40 1 32-2 8-3 16-1 8-4 24-5 16-7 8-2 8-7 32-20 8-8 24-14 24-8 16-2 8-3 24 1 8 2 8 0 8-2 8 0 8 2 16 2 8 3 24 1 16 8 8 1 8 4 16 1 24 8 8 0 64-1 8-2 48-2 8-3 32-1 8 1 8 3 24 1 8 3 24 1 8-3 16-1 8 3 40 2 8 3 16 2 8 3 16 1 64 0 8-1 24-13 56-1 40 0 8-3 16-2 8-2 56-2 8-3 8-1 8-3 24 7 16-4 16-8 8-1 8-3 8-1 16 0 8 3 8 1 8 4 24 1 8 3 48 2 8 3 8 0 8-3 16-2 8-3 8 3 24 2 8 3 24 1 8 3 16 1 24-8 16 4 16 8 16 1 8 4 8 5 24 27 16 8 8-3 24 0 32 17 8 1 8 4 48-1 8 1 8 4 8 1 8-1 8-3 8-1 16 0 8 4 8 1 16 9 8 0 8-1 24-13 16-1 24 2 8 3 8 0 8-3 24-2 8 1 8 4 16 1 8 5 8 7 8 5 24 1 16-1 8-3 8 0 16 4 24 12 8 0 8-3 16 0 24 12 32 2 8 2 16 1 8 4 8 2 8 4 8 8 16 10 16 0 16-4 24 12 8 2 16 7 24 1 16 8 8 6 8 8 8 5 8 4 8-1 8-3 8 0 16 9 8 8 8 5 16 9 8 0 8-3 8-1 16 0 16 10 8 7 24 2 16 4 40 21 8 1 8 4 24 0 8-3 24-1 24 9 32 1 8 3 8 1 16 9 8 7 8 2 8 3 8 1 32 0 8 3 8 1 24-13 8-1 8 1 24 14 8 0 8 3 8 1 24 13 32 0 8 1 16 8 32 1 32 17 48 1 16 8 8 1 8 4 24-1 8-3 8-1 8-3 8 0 8 3 32 1 8 3 8 0 8-3 8 0V3028z"/>
<path transform="matrix(0.44417 0 0 0.44417 58.85 110.10)" stroke-width="4.39" stroke-opacity="0.63" d="M1339 3028V2467l8 0 8-3 32-2 8-3 16-1 24-8 16-1 8-4 8-1 8-3 16-1 8-4 16-1 8-3 40 0 8 0 8 3 16 2 8 3 8 1 8 3 8 1 8 4 8 1 8 4 8 1 8 3 16 1 24 8 16 1 8 3 32 2 40-1 8 4 16 0 8 0 8-3 40-2 8-3 16 0 8 3 8 1 8 4 8 1 8 3 16 2 8 3 8 1 24 12 8 2 8 3 8 1 8 4 24 1 8 3 8 0 8-3 40-2 24-7 16-2 8-3 8-1 32-18 8-8 16-10 8-7 8-5 8-2 8-3 8-1 8-4 8-1 8-3 8-1 64 1 8 0 8 3 24 2 40 12 24 1 24 8 24 0 8-3 8-1 48-1 8-3 32-1 8-3 24-1 8 0 8 4 24 1 8 3 8 1 24-1 8-3 8 0 8 4 16 1 8 3 32 1 8 3 16 2 8 3 16 0 8-3 8 0 8 3 24 0 16-5 16-8 48-1 8-3 16 0 8 3 8 0 24-7 40-2 8-3 8 0 8 3 8-3 8-1 8-3 16 0 8 3 16 0 8-3 8-2 16-7 16-1 24 1 24 7 24 1 8 4 8 0 48 1 8-1 8-3 16-1 8 4 16 1 8 3 48 2 16-1 8-4 16 0 16 8 8 1 8 4 8 1 8 4 8 5 24 26 8 5 40 0 32 17 16 1 8 3 48 1 8 1 8 3 8 0 16-8 16 0 32 18 8 0 16-9 8-1 8-4 56 1 16-2 8-3 8 0 16 8 16 1 32 18 56 0 8 3 8 2 16 8 8-1 16-7 8 3 24 14 32 1 8 3 16 1 24 12 16 11 8 7 8 1 8-4 8-1 16 1 16 8 8 1 8 4 40 9 8 5 16 17 8 5 8 1 24-2 8 2 24 22 8 4 16 1 8-1 8-4 8 0 8 3 32 20 8 3 24 1 32 17 8 2 8 3 16 1 8 3 8-3 32-1 8 1 16 7 40 2 32 17 8 1 8 3 16 2 8 2 32 2 8-1 24-12 32 16 16 2 24 11 8 2 8 3 8 0 8-3 8 0 16 8 16 4 24 1 32 13 40 1 8 3 8 1 24 8 16 0 8-3 16-2 8-3 8 0 8 3 8 1 56-1V3028z"/>
<path transform="matrix(0.44493 0 0 0.44493 58.04 108.60)" stroke-width="4.38" stroke-opacity="0.63" d="M1339 3028V2468l16-1 8-3 32-2 8-3 8 0 8-4 16-1 40-12 24-2 8-3 32-1 24 0 8 1 24 7 16 2 8 3 8 2 16 7 8 1 8 4 16 1 8 4 8 0 8 4 8 1 8 3 32 1 8 3 8 1 16-1 8-2 8 0 8 3 16 0 24 0 8-3 24-1 24-1 24 1 8 4 24 5 8 3 16 2 24 12 8 1 8 4 8 1 8 3 24 2 8 2 8 0 8-2 48-2 8-3 16-2 8-3 8-1 24-12 8-2 8-7 24-15 8-7 8-5 8-1 8-4 8-1 8-3 8-1 8-4 8 0 64 1 8 2 32 2 8 3 8 1 8 4 24 1 8 3 16 1 8 4 8 0 32-1 8-3 56-1 8-3 24-1 8-4 24 0 8 0 8 4 24 1 8 3 16 1 32-1 16 1 8 3 40 2 8 4 8 0 8 3 24 1 8-3 8 0 8 3 16 1 16-1 24-13 88-1 8-3 8 0 32-1 8 0 8-4 32 0 8-4 16-1 16 1 8 3 16-4 16-8 16-1 40 1 8 4 8 1 8 2 32 2 32 0 8 3 8 0 8-3 24 0 8 3 8 2 8 3 64 1 8-1 8-4 16 0 24 12 24 7 8 7 16 18 16 10 8 3 8 1 8-1 8-2 16 4 24 12 40 2 8 3 32 1 8 3 16-5 8-3 16 0 32 18 8 0 16-8 16-5 16 0 8 3 32 0 24-8 8 1 16 7 16 1 32 17 56 2 24 11 8 1 24-9 8 4 24 15 8 3 8-3 8 3 24 1 8 4 8 1 24 13 8 8 8 5 8 4 16-8 16 0 16 8 8 1 8 4 8 1 16 7 8 2 16 8 8 9 16 13 16 0 8-3 8 0 8 4 16 17 16 10 16-1 8-3 8-1 16 1 8 4 8 8 8 6 16 7 24 2 24 12 32 9 40 0 8-3 8 3 8 1 8 3 32 2 8 3 8 0 24 13 16 5 24 1 8 3 16 1 8 4 16 0 16-8 8-1 8 0 16 9 16 1 16 8 8 1 16 8 40 1 16 8 32 1 16 8 8 1 8 3 40 2 8 3 16 1 8 3 32 1 8-1 8-3 8-1 80 0V3028z"/>
<path transform="matrix(0.44569 0 0 0.44569 57.24 107.10)" stroke-width="4.38" stroke-opacity="0.63" d="M1339 3028V2468l24-1 8-3 32-1 24-8 16-1 8-4 8-1 8-3 8-1 8-3 72-1 8 1 8 3 16 2 8 3 8 1 8 3 8 1 8 4 8 1 16 7 16 2 24 8 8 1 8 3 24 1 8 3 72 2 8 3 8-3 32-2 8-3 48 0 8 3 8 1 8 4 16 1 8 4 8 1 8 3 8 1 16 8 8 1 16 8 16 1 8 3 24 1 40-1 8-3 16-1 8-3 16-2 8-3 8-1 40-21 16-11 8-7 8-5 8-1 8-3 8-1 8-4 16-1 8-3 24 0 8 3 56 2 8 2 24 2 8 3 32 1 8 3 16 2 8 3 8 0 8 0 8-3 8-1 48-1 8-3 24-1 8-3 16-1 8-3 16-1 24 8 40 2 8 2 8-3 24 0 8 3 40 2 8 3 8 1 8 3 24 1 24-1 24 2 16-1 16-8 8-1 40 0 24-1 8-3 72-1 8-4 32-1 24-7 8 3 24 1 8-1 16-8 8-1 8-3 8 0 8 3 24 2 8 3 32 1 8 3 88 1 16 8 8 0 64 1 8-1 8-4 16 0 32 17 8 1 16 9 24 26 16 5 32 1 24 12 40 2 8 2 32 2 8 3 8 0 16-4 8-4 16 0 16 9 8 8 8 2 16-2 16-8 16 0 8 1 8 3 8 0 8-3 24-2 8-4 16 0 40 10 24 13 32 1 8 2 24 2 16 8 16 0 16-8 8 3 8 6 8 8 8 4 32 1 24 8 8 1 24 13 8 6 8 7 8 1 8-1 8-4 16 0 8 1 8 3 8 1 8 3 8 2 40 21 8 9 16 10 8 3 8-3 16-1 8 5 16 17 16 10 16-1 8-4 16-3 16 8 8 8 8 6 16 8 32 1 24 12 8 1 8 4 72 1 8 3 16 2 8 3 24 1 24 13 16 3 24 2 8 3 8 1 24 8 8 0 16-8 16 0 8 4 8 1 8 3 16 1 24 13 8 1 8 3 32 1 8 4 16 4 32 1 8 4 8 1 8 3 40 1 8 3 32 2 8 3 8 0 8-3 16-2 8-3 80-1V3028z"/>
<path transform="matrix(0.44645 0 0 0.44645 56.44 105.61)" stroke-width="4.37" stroke-opacity="0.64" d="M1339 3028V2469l40-1 8-3 24-2 8-3 16-1 8-3 8-1 8-4 8-1 8-3 32-1 40 1 8 3 16 1 8 3 24 6 8 3 8 1 8 4 8 1 16 7 16 2 8 3 8 1 8 4 8 1 8 3 32 2 8 3 72 1 40-2 8-2 48 0 8 3 8 0 8 4 16 1 8 4 8 1 8 3 8 1 16 8 8 1 24 8 16 1 8 3 16 1 40-1 8-2 24-2 8-3 8-1 8-3 8-2 32-13 8-5 8-7 8-5 24-14 16-1 24-8 8 0 32 1 8 2 40 2 8 3 32 2 8 3 48 1 8 0 8 3 8 1 16-1 8-3 56-2 8-3 24-1 8-3 32-1 16 1 8 3 24 0 16 2 8 3 8-3 24-1 8 3 40 2 8 3 24 2 8 3 8 0 8-1 8-3 8 0 16 1 8 3 16-1 16-7 8-1 8-3 8 0 8 3 16 0 24-1 8-3 24-1 8-3 8 0 8 3 24 0 8-4 16-3 8 2 8 0 24-7 8 3 24 1 8-1 16-7 16-2 32 1 24 8 8 0 8-3 8 0 8 0 8 3 48 2 24-1 8 1 16 8 8 0 64 0 8-1 8-3 16 0 40 21 8 1 16 14 16 16 8 2 16 7 24 1 8 4 8 1 16 8 40 0 16 1 8 3 24 1 8 0 16-9 16 0 8 5 8 8 16 9 8 0 16-8 16-1 8 1 8 3 16 0 8-3 16-1 24-8 8 0 8 4 24 5 24 12 8 1 8 4 48 1 16 8 16 4 24-12 8 4 8 5 8 9 16 7 8-2 8 2 8 1 8 4 16 2 8 3 8 1 8 4 8 8 8 5 16 9 24-8 8 3 24 1 16 5 8 7 8 5 8 4 8 2 8 7 8 6 8 8 8 4 32 1 8 4 16 18 16 9 8 0 24-8 8 0 16 8 8 6 8 7 8 5 16 4 8-3 8 0 8 3 8 1 16 8 8 1 8 3 64 2 8 3 16 1 8 3 24 2 40 16 32 2 8 3 8 1 16 8 16 1 8-1 8-4 8 0 8 0 8 4 24 1 24 12 8 2 8 3 8 1 8 3 8-3 8 0 16 4 8 4 32 1 8 3 16 1 8 3 64 2 8 3 24 0 8 0 24-7 64-2 8-3 8 0V3028z"/>
<path transform="matrix(0.44721 0 0 0.44721 55.64 104.11)" stroke-width="4.36" stroke-opacity="0.64" d="M1339 3028V2472l8 0 8-2 40-2 8-3 24-2 8-3 16-1 24-7 48 0 8 2 24 2 8 3 8 1 8 4 8 1 8 3 8 1 8 4 8 1 16 7 8 1 8 4 16 1 8 4 8 1 8 3 8 1 8 4 24 1 8 3 80 1 48-1 8-3 24 0 8 2 24 2 8 3 8 1 8 4 8 1 8 3 8 1 8 4 8 1 16 7 8 1 8 4 16 1 8 3 32 1 48-1 8-3 16-1 8-3 8-1 8-4 8-1 8-4 64-35 8-1 8-3 16-2 8-3 8 0 32 1 8 2 24 2 8 3 32 1 8 3 64 1 8 1 8 3 8 0 8 0 8-3 8-1 40-1 8-3 40-1 8-3 16-2 8-3 8 1 8 3 8 1 40 0 8 3 8 1 16-1 8-3 8 3 40 1 8 3 32 2 8 2 8 1 8-3 16-1 24 1 8 3 8-3 8-1 8-4 8-1 56 1 8-1 8-3 24-2 48 1 8-4 16-4 8 3 8-3 16-1 40 1 8-1 16-8 16-1 24 1 8 3 16 2 8 3 8 0 8-3 8-1 16 1 8 2 40 2 24-1 24 9 72 0 16-1 8-3 16 5 40 21 16 10 16 16 8 5 8 1 16 8 24 1 16 8 16 1 40 0 8 4 8 0 8 4 16 0 24-12 8-1 16 8 8 6 8 8 8 1 16-1 8-4 8-1 16 2 8 4 16 0 24-5 24-9 8 1 8 3 16 1 24 12 8 1 8 4 40 1 8 3 16 2 16 8 16-1 16-8 8 1 16 16 8 5 24 1 16 7 16 2 8 3 8 1 16 9 8 8 16 9 24-8 8 0 8 3 24 1 40 23 8 7 24 15 8 4 24 0 8 5 16 18 16 8 8 0 24-8 8 0 16 8 8 6 8 7 8 5 48 1 16 7 32 9 56 1 8 1 8 3 24 2 8 3 8 1 24 12 32 1 8 3 16 2 16 8 16 4 8-3 16-1 8 1 8 3 32 1 32 17 40 1 8 3 16 4 8 0 8-2 8 0 8 3 40 1 8 3 72 0 8-3 16-1 8-3 48-2 8-3 24-1V3028z"/>
<path transform="matrix(0.44797 0 0 0.44797 54.84 102.61)" stroke-width="4.35" stroke-opacity="0.65" d="M1339 3028V2473l24-1 8-2 40-2 8-3 24-1 8-3 16-2 8-3 40 0 8 3 16 1 8 4 16 1 8 4 8 1 8 3 8 1 8 4 8 1 16 7 8 1 8 4 8 1 8 3 16 2 16 7 16 1 8 3 72 2 8 3 16 1 48-1 8-3 32 0 8 3 24 2 8 3 8 1 8 3 24 5 8 4 8 1 8 4 8 1 24 8 16 1 8 2 24 1 48-1 8-3 16-1 8-3 8-1 8-3 8-1 16-8 8-2 16-9 8-7 16-9 16-2 8-3 16-1 8-3 8-1 24 1 8 3 24 2 8 3 24 1 8 3 24 1 56 0 8 1 8 2 8 1 16-1 8-3 48-1 8-3 40-1 8-4 16-1 24 2 8 2 8-3 16 0 8 0 8 4 8 0 16-1 8-3 8 1 8 2 64 2 8 3 8 0 24 0 8-3 8 0 8 0 8 3 16 0 24-8 24 0 8 3 24 1 8-4 16-1 8-3 16-1 24 1 8 3 16-7 8-2 24 0 8-3 8-1 32 1 16-1 8-4 8-1 8-3 16 0 8 3 16 1 8 3 16 2 16-1 8-4 8 0 8 1 8 2 32 2 8 3 8 0 8-3 8 0 16 7 8 2 104 0 32 16 8 2 16 8 8 5 16 16 24 14 16 2 8 2 16 2 8 4 8 1 8 3 16-1 8-2 8 2 16 2 24 7 8 0 24-12 8-1 8 1 8 4 8 9 16 9 8 0 8-4 16-1 8 0 8 4 16 5 24-7 8-1 8-4 16-5 8 0 8 3 16 2 16 7 32 9 48 2 24 12 8 0 16-8 8-1 8 1 8 5 8 8 16 8 16 1 16 8 16 2 8 2 8 1 24 14 8 8 16 1 8-1 8-3 8 0 8 3 8 0 8-3 8 0 16 9 8 7 24 15 8 7 16 9 24 2 8 3 8 6 16 17 8 5 8 3 8 0 24-8 8 0 16 8 8 6 8 7 8 5 16 1 8-1 8-3 16 0 16 7 8 2 16 8 32 4 8 0 8-3 16 0 24 7 16 1 8 4 8 1 8 3 8 2 8 3 24 1 8 3 16 2 8 3 8 1 16 8 72 0 16 5 24 13 40 1 8 3 8 1 40 0 8 3 24 1 88-1 8-3 16-1 8-3 32-1 8-3 32-2 8-3V3028z"/>
<path transform="matrix(0.44873 0 0 0.44873 54.04 101.11)" stroke-width="4.35" stroke-opacity="0.65" d="M1339 3028V2473l32 0 8-3 40-2 8-2 24-2 8-3 24-2 8-2 8 0 8 3 16 1 8 3 8 1 8 4 8 1 8 3 8 1 8 4 8 1 8 3 8 1 8 4 8 1 16 7 16 2 8 3 8 1 8 3 8 1 8 4 8 1 8 3 32 2 8 2 64 2 96 0 8 3 16 1 8 3 16 2 8 3 24 6 16 7 8 1 8 4 16 1 8 3 32 2 8 2 32 1 8-3 32-2 48-13 56-30 24-1 8-3 16-1 24 1 8 3 16 1 8 3 16 1 8 3 16 2 8 3 24 1 8-1 8-3 16 0 8 0 8 3 24 1 32-1 8-3 72-1 24-8 8 0 16 0 8 3 16 0 8-3 8-1 8 1 8 4 8 0 24-1 88 1 8 1 8 2 8 0 8-3 8 0 48 0 8-1 8-3 8-1 24 1 8 3 8 0 8-3 16-1 8-4 8-1 8-3 16 0 8 3 16 1 8-1 16-8 32-1 8-3 8 0 8 3 24 0 24-8 8 0 24 1 8 3 16 1 8 3 16 0 8-3 16-1 32 1 8 3 8 1 40 1 8 3 16 4 8-3 8 0 8 3 8 1 64 0 8 1 32 17 8 3 8 2 24 21 32 18 24 1 8 3 8 1 8 4 48 1 8 3 8 1 8 4 16 1 8-2 8-4 8-7 8-1 16 8 8 6 8 8 8 4 8 0 16-8 8 0 16 8 16 4 8-3 16-1 16-7 16-5 8 0 8 3 16 1 8 3 8 2 16 7 56 2 32 16 8 0 16-7 16-1 24 14 8 4 8 0 24 12 24 2 8 3 40 23 48-1 8-3 8 0 16 8 8 6 8 7 32 19 16 8 16 1 8 4 8 5 16 17 8 5 24 0 8-4 8-1 16 1 8 7 16 11 16 7 8-3 16-2 8-3 8 0 32 17 8 1 8 4 64 1 8 3 16 2 8 3 8 1 8 3 8 1 8 4 8 1 8 3 32 1 8 3 8 1 8 4 8 1 8 3 40 2 8 3 8-1 8-2 8 0 16 7 8 2 16 7 40 1 8 0 8 4 128-1 8-2 40-2 8-3 32-2 8-3 16-1 8-3 24-1V3028z"/>
<path transform="matrix(0.44949 0 0 0.44949 53.24 99.62)" stroke-width="4.34" stroke-opacity="0.66" d="M1339 3028V2474l48-1 8-3 40-1 8-3 24-2 8-3 32 0 8 4 8 1 8 3 8 1 16 8 8 1 24 8 24 5 16 8 8 1 8 3 16 2 8 3 8 1 24 8 16 1 8 3 64 2 8 3 8 0 104 1 8 3 16 1 8 3 16 2 8 3 24 6 8 3 8 1 8 3 8 1 8 4 16 1 8 3 32 1 56-1 8-3 24-1 8-3 8-1 8-4 8-1 40-21 8-1 8-4 24-1 8-3 8-1 24 1 8 3 16 1 8 3 16 2 8 3 16 1 8 4 24 1 48-1 24 1 8 3 8 0 8-3 32-2 8-2 24-2 32 1 8-1 8-3 8-1 40 1 16-2 8-2 24 7 8-3 16-1 88 1 8 0 8 3 8 0 8-3 64-1 8-4 8 0 48 0 8 0 24-8 8-1 48 0 8-4 16-4 64-1 16-1 8-3 8-1 40 2 24 7 8 0 8-3 8-1 8-4 8 0 8 0 8 3 32 2 8 3 8 0 8-3 8 0 24 8 32 1 8 3 72 1 24 13 8 4 8 1 16 8 8 5 8 8 16 10 8 8 8 4 32 1 24 8 48 1 16 8 8 1 8 0 24-14 16 1 8 5 16 16 8 1 8 0 8-2 8-3 8 0 8 1 24 11 8-3 16-1 16-7 16-5 8 3 32 2 16 8 8 1 8 3 40 0 16 1 24 13 16 0 8-4 16-1 24 13 24 6 24 12 24 1 16 9 8 8 16 8 16 0 8-2 8 0 8 2 8 0 8-3 8 0 16 8 16 10 8 7 16 9 8 2 16 8 8 1 16 7 8 6 8 8 16 10 8 3 8 0 8-3 8-1 8-4 8 0 16 9 8 5 8 8 8 4 16 0 16-8 16 0 40 21 16 2 8 2 16 0 8-3 8 0 16 1 8 3 8 1 8 3 16 2 8 3 8 1 8 3 16 2 8 2 24 2 8 3 16 1 24 8 64 1 8 3 8 1 16 8 16 2 32-1 8 3 8 1 112-1 8-2 40-2 8-3 16-1 8-3 32-2 8-3 16-1 8-3 16-1V3028z"/>
<path transform="matrix(0.45024 0 0 0.45024 52.44 98.12)" stroke-width="4.34" stroke-opacity="0.67" d="M1339 3028V2474l56-1 8-2 48-2 8-3 16-1 32 0 8 4 8 1 16 8 8 1 16 8 8 1 16 8 24 6 16 7 8 1 8 4 8 1 8 3 8 1 8 3 8 1 8 4 16 1 8 3 24 2 8 3 128 1 8 3 40 2 8 3 16 1 8 3 16 2 24 7 16 1 24 8 40 1 8 3 40 0 8-3 32-1 8-3 16-2 8-3 8-1 16-8 8-1 24-12 24-1 8-3 16-1 24 0 8 4 16 1 8 3 16 2 8 3 16 1 24 7 8 0 8-2 24-2 32 2 8 2 16 1 16-1 8-3 24-1 8-3 56-1 8-1 8-3 40 0 16-1 8-3 24 7 8-2 16-1 56 1 32-1 8 1 8 2 8 0 8-2 48-2 8-3 72-1 8-3 8-1 8-4 8-1 8-4 48 0 8-3 16-5 64 0 16-1 8-3 16-1 8 3 24 2 8 3 16 1 16 0 8-4 16-1 16 1 8 3 64 1 8 4 8 1 8 3 32 1 8 3 56 2 16 4 24 12 8 1 16 8 16 10 24 21 8 5 8 1 32-1 8 4 8 1 32 0 8 3 16 2 16 7 8 0 24-13 8 0 8 1 8 4 8 8 16 10 8-1 16-8 8 0 24 13 8 0 8 0 8-3 16-2 8-3 16-4 8 0 8 2 8-2 8 0 16 7 8 2 8 3 56 0 32 17 8 1 24-8 8 0 24 12 8 1 8 4 24 13 32 1 8 4 8 8 24 13 72 1 24 14 8 7 8 5 8 1 16 8 8 1 16 8 16 10 8 8 16 9 24 0 8-4 8-1 16 1 24 21 8 1 16 0 24-9 8 1 16 8 8 8 8 4 8 2 8 3 32 1 16-2 8-2 16 7 16 2 24 7 24 2 8 3 16 1 8 3 24 2 8 3 16 1 8 3 24 1 8 3 40 1 24 8 48 2 8 2 16 1 88-1 8-2 40-2 8-3 24-2 8-3 24-1 8-3 16-1 8-3 24-2 8-3V3028z"/>
<path transform="matrix(0.45100 0 0 0.45100 51.64 96.62)" stroke-width="4.34" stroke-opacity="0.67" d="M1339 3028V2475l64-1 8-3 48-2 8-3 32 0 8 3 8 1 32 17 8 2 32 16 24 6 24 11 8 1 8 4 8 1 8 4 8 1 24 7 16 2 8 3 56 1 8 3 120 2 8 3 32 1 8 3 16 1 8 4 16 1 8 3 16 1 8 3 32 2 8 3 64 0 8-3 40-2 8-3 8-1 8-3 8-2 16-7 8-1 8-4 8-1 8-3 24-1 8-3 8 0 8 0 8 2 24 2 8 3 8 1 8 3 16 2 8 3 16 2 8 3 24 0 8 0 8-3 8 0 8 2 40 2 8 3 8-3 32-2 24-7 32 0 8 3 8-3 24-1 40-1 8-3 8 0 8 1 8 3 8 0 24-1 112 2 40-1 8-4 32-1 8-3 56-1 16-8 8-1 8-4 16-1 32 1 8-4 16-4 32-1 16 1 8 3 8-3 32-2 24 2 8 3 16 2 8 3 8 0 16-1 16-7 8 0 8 3 16 1 56 0 8 3 8 1 8 4 24 1 8 3 16 2 8 3 48 1 16 4 16 9 24 5 8 4 8 4 40 35 8 1 16-1 8-3 8 0 24 7 32 1 8 4 8 0 8 4 16 1 16-8 16-5 8 3 32 19 8-1 16-8 8 0 24 13 8 0 16-1 8-2 16-2 8-4 40 0 8 0 8 4 8 1 8 3 56 2 32 16 16 0 8-3 8-1 16 0 8 4 8 2 40 20 32 2 16 9 8 7 8 4 8 2 8 3 32 2 8 3 32 0 16 10 8 7 8 2 8 3 8 1 16 7 8 2 8 4 8 5 16 16 8 5 32 0 8-1 8-3 8-1 16 9 8 9 16 9 8 0 8-3 8-2 8-4 16 0 40 22 16 2 8 2 16 0 8-3 16-1 8 1 8 4 8 1 8 3 8 1 8 3 24 2 8 2 24 2 8 3 16 2 8 3 16 1 8 3 32 2 8 2 40 2 24 7 64 2 8 2 8 1 8-3 8 0 88-2 8-3 32-1 8-3 16-2 8-3 24-1 8-3 16-2 8-3 24-1V3028z"/>
<path transform="matrix(0.45176 0 0 0.45176 50.84 95.12)" stroke-width="4.34" stroke-opacity="0.68" d="M1339 3028V2475l72-1 8-3 48-2 8-2 24 0 8 3 8 1 72 39 8 4 8 1 24 12 8 2 16 7 8 1 8 4 8 1 8 3 8 1 8 4 8 0 8 4 24 1 8 3 160 2 8 2 40 2 8 3 24 2 8 2 24 2 8 3 40 1 8 3 56 0 8-3 40-1 8-3 8-1 8-3 16-2 16-7 8-1 8-4 32-1 8-3 16 0 8 2 24 2 8 3 8 1 8 3 16 2 8 3 16 1 8 4 56 0 24 1 8 3 24 0 16 0 8-3 8-1 8-3 16-2 8-3 8-1 16 1 8 3 8 0 8-3 8 0 64-2 88 2 8 3 8 0 16 0 8-3 8 0 8 3 40 0 8-3 16-2 8-3 32-1 8-3 40-1 8-3 8-1 8-4 8-1 16-7 16 0 8 3 16 0 8-4 16-4 24-1 32 1 40-1 16 1 8 3 16 1 8 4 8 0 24-1 8-3 16-4 8 3 16 1 32-1 32 1 16 8 24 2 8 2 8 1 8 4 24 1 8 3 32 1 16 5 16 8 8 0 8 4 8 1 8 4 8 8 8 6 16 17 16 9 8 0 24-9 8 1 24 7 16 2 8 3 16 1 8 3 16 1 8-1 16-8 8-1 8 1 32 17 8 0 16-8 8 0 24 13 8 0 24-1 16-4 8-4 40 0 8 0 8 4 24 1 8 3 40 2 24 12 16 4 8 0 8-3 16-1 16 1 40 21 16 4 24 1 40 22 8 1 8 3 16 1 8 3 32 1 16 5 8 5 8 7 40 10 24 13 8 8 16 10 32 0 8-1 8-4 8 0 16 9 8 9 16 9 16-1 16-8 16 1 8 4 8 7 16 9 8 1 8 3 32 1 8 0 8-4 8 0 24 9 8 0 24 8 40 1 8 3 16 1 8 4 24 1 8 3 32 2 8 2 40 2 8 3 16 2 8 2 8 1 136-1 8-2 40-2 8-3 24-2 8-3 16-1 8-3 24-2 8-3 16-1 8-3 16-1V3028z"/>
<path transform="matrix(0.45252 0 0 0.45252 50.04 93.63)" stroke-width="4.34" stroke-opacity="0.69" d="M1339 3028V2475l72-1 8-3 48-1 8-3 16 0 32 9 8 4 8 8 40 22 16 9 8 1 32 16 8 2 16 7 8 1 8 4 8 1 8 3 8 1 8 4 8 0 8 4 48 1 8 3 16 1 160 1 8 3 24 1 8 3 32 2 8 2 8 1 72 1 64-2 8-3 16-1 8-3 24-5 8-4 16-1 8-3 32-2 24 2 8 3 16 1 8 3 16 2 8 3 16 1 24 7 16 0 8-3 16 0 8 3 32 2 8 3 32 0 8-3 8-1 8-3 8-1 8-4 16-1 32 1 80-2 80 2 8 3 16 1 80 0 8-1 24-8 32-1 8-3 40-1 16-7 8-2 16-7 16-2 32 1 8-1 8-3 24-1 8-4 16 0 8 4 8 0 16-1 8-2 8-1 8 3 16 2 8 3 16 1 8 3 8 1 8-1 8-3 8 0 8-4 8 0 16 0 8 3 8 1 16-1 8-3 8-1 24 1 8 3 8 1 16 8 24 1 24 8 16 1 8 3 40 1 16 8 8 2 8 3 8 1 24 13 32 34 8 1 8 0 16-8 16-2 8 1 8 4 24 5 8 4 16 1 8 3 16 0 24-8 16 0 24 12 16 1 8-4 16-1 24 13 8 0 16 0 8-3 16-1 8-4 48 0 8 1 8 3 24 1 8 3 32 2 24 11 16 2 32-1 16 1 40 21 32 1 48 25 8 1 8 4 16 1 16 8 32 1 32 16 24 1 24 13 8 5 8 8 16 8 32 1 8-4 16-1 16 9 8 9 16 9 8 0 24-8 8-1 32 17 8 2 8 3 16 1 8 3 16 0 8-3 16 0 8 3 8 1 8 4 8 0 8 4 48 1 8 3 16 1 8 4 24 1 8 3 32 2 8 2 48 2 8 3 24 2 8 2 8 0 16 0 8-2 8 0 8 2 16 0 8-2 88-2 8-3 24-2 8-2 24-2 8-3 16-1 8-3 16-2 8-3 16-1 8-3 16-1V3028z"/>
<path transform="matrix(0.45328 0 0 0.45328 49.24 92.13)" stroke-width="4.34" stroke-opacity="0.69" d="M1339 3028V2475l72-1 8-2 56-2 8-3 8 0 8 3 8 1 16 8 64 37 48 25 8 1 16 8 8 1 16 7 8 2 8 3 8 1 8 3 32 2 8 2 40 2 168 0 8 3 32 2 8 2 48 2 8 3 104 0 8-3 24-2 24-7 16-1 8-3 24-2 8-3 16 0 16 0 8 3 24 2 24 7 16 1 8 3 16 2 8 3 64 1 8 3 16 1 48-1 40-12 8 0 8 3 16 1 32-1 8-2 48 0 8 2 72 2 8 3 8 1 80 0 8-1 24-8 24-1 8-3 40-2 8-2 8-2 16-7 8-2 16-7 16 0 8 3 16 0 8-3 8-1 8-3 24-2 8-3 8 3 16 2 32-2 16 2 8 3 8 1 8 3 16 1 16-1 8-3 16-2 8-2 8 0 8 3 16 1 16-1 8-4 8-1 24 1 16 5 24 12 32 1 8 3 8 1 24 8 16 0 8-3 8 0 24 12 24 5 8 5 32 34 16 10 8 0 24-13 8-1 8 1 16 8 8 1 16 7 40 1 8 0 8-4 16-1 8 1 24 7 16 1 8-3 16 0 24 13 8 0 32-1 16-8 8 0 8 3 8 1 56 0 24 8 16 1 8 3 8 2 8 3 8 1 8 3 16 1 32 0 24 12 8 2 16 8 32 0 48 26 8 1 8 4 8 0 16 8 8 2 8 3 32 5 16 8 24 1 16 4 16 9 8 8 8 5 16 8 32 0 8-3 16-1 16 9 8 8 16 9 8 0 24-7 8 0 32 16 8 1 8 3 32 2 32-1 24 8 16 1 8 3 56 2 8 3 16 1 8 3 48 2 8 2 48 2 8 3 40 1 88-1 8-3 64-1 8-3 24-2 8-3 16-1 8-3 24-2 8-3 16-1 8-3 16-1 8-3 8-1V3028z"/>
<path transform="matrix(0.45404 0 0 0.45404 48.44 90.63)" stroke-width="4.35" stroke-opacity="0.70" d="M1339 3028V2476l72-1 8-3 56-2 32 2 24 12 24 15 8 7 32 18 32 17 8 1 24 12 8 1 16 8 8 1 8 3 16 2 8 3 48 1 8 3 8 0 168 0 24 2 8 2 48 2 8 3 128 1 24-1 8-3 16-1 8-4 16-1 8-3 24-2 8-2 16-1 16 1 8 3 32 1 24 7 16 2 8 3 16 2 8 2 56 2 8 3 16 1 48-1 40-12 8 0 8 0 8 3 8 1 48-1 72 1 8 3 40 1 8 1 8 3 8 1 72 0 8-1 16-7 32-2 24-7 32-1 8-4 8-1 16-8 8-1 8-4 40 1 8-1 8-4 16-1 8-3 8-1 16 0 8 1 8 3 8 0 8-3 16 0 8 3 16 2 8 3 24 1 8-1 8-3 16-2 24 0 24 2 16-2 8-3 8-1 24 1 32 16 40 2 8 3 8 1 16 7 8 1 40 0 16 8 24 6 8 5 8 8 32 35 8 4 8 0 24-14 8-3 16 5 32 16 32 0 8-3 16-1 8-3 8 0 8 0 8 3 8 1 40 0 32 16 8 1 24-1 16-7 16-4 8 3 8 1 48 0 72 20 16 2 8 3 8 1 32 0 32 17 8 1 8 3 32 1 48 25 8 2 16 7 8 1 24 13 8 1 8 3 16 1 16 8 32 1 16 7 24 15 16 8 32 0 8-3 16-1 16 9 8 8 16 8 8 1 8-3 8-1 16-1 8 1 24 12 24 2 8 3 56 1 8 3 16 2 8 3 56 1 8 3 16 1 8 3 64 2 8 3 56 1 8 3 16 0 32 0 8-3 96-2 8-2 32-2 8-3 24-1 8-3 16-1 8-3 16-2 8-3 16-1 8-3 24-2 8-3V3028z"/>
<path transform="matrix(0.45480 0 0 0.45480 47.64 89.13)" stroke-width="4.35" stroke-opacity="0.71" d="M1339 3028V2476l72-1 8-3 56-1 32 1 32 17 8 5 8 8 24 14 64 34 8 1 16 8 8 1 16 7 16 2 8 3 32 2 8 2 200 1 16 1 8 3 40 1 8 3 64 2 8 2 72 1 16-1 8-3 16-1 8-3 16-1 8-3 16-2 8-3 24-1 8-3 8 3 40 1 8 3 16 2 8 3 16 1 24 7 48 2 8 3 24 1 8 3 40 0 32-8 8-4 16-1 16 2 8 2 16 0 8-2 16-1 16 1 8 2 48 2 8 3 48 1 8 4 8 1 8 3 72 0 8 0 16-8 16-4 8 3 8 0 24-8 32-1 16-7 8-2 16-7 16-2 32 1 24-8 16-1 8-3 16 0 8 3 8 1 40 0 8 3 8 1 8 3 16 1 8 0 24-8 32 0 8 3 16 1 8 0 8-4 16-5 8 1 8 2 16 2 8 7 16 9 16 0 8-3 8 0 8 3 8 1 8 4 8 1 16 8 16-1 8-3 16 0 24 12 8 1 16 9 32 35 16 9 16-1 8-7 8-5 8-1 8 1 32 16 16 5 8 0 8-3 16-1 8-3 24-2 48 1 8 3 16 2 8 4 8 8 16 1 32-1 16-9 8-3 24 8 48 0 16 8 8 1 8 4 8 1 8 3 24 1 8 3 8 1 8 4 24 1 16 4 32 17 40 1 48 25 8 4 8 1 16 8 8 2 32 16 8 1 8 3 16 2 24-1 16 4 24 14 8 7 16 5 40 0 8-3 16 4 8 5 8 7 8 5 16 4 8-3 24-1 8 1 16 8 8 1 8 2 64 2 8 3 24 2 8 3 56 1 8 3 32 1 8 3 80 2 8 2 56 2 72-1 8-3 72-2 8-3 24-1 8-3 24-2 8-3 16-1 8-3 16-1 8-3 16-2 8-3 24-1V3028z"/>
<path transform="matrix(0.45556 0 0 0.45556 46.84 87.64)" stroke-width="4.36" stroke-opacity="0.72" d="M1339 3028V2476l72-1 8-2 56-2 32 1 32 18 8 7 32 19 64 35 8 3 24 6 16 7 16 2 8 3 56 1 8 3 16 1 88-1 8-2 16 0 8 2 56 2 8 3 32 1 8 3 56 2 8 2 80 2 32-1 8-3 16-2 8-3 16-1 8-3 16-1 8-4 32-1 40 1 8 3 16 2 8 3 16 1 24 7 48 2 8 3 16 1 8 3 56 0 8-3 8-1 16-7 16-1 8 1 8 3 80 1 8 3 32 1 8 3 40 1 8 4 8 1 8 3 8 1 72 1 16-2 16-8 32-1 8-3 8-1 8-3 32-1 16-8 32-9 8 3 24 1 24-8 16-1 8-4 16 0 8 4 8 0 40 1 8 3 8 1 8 3 16 1 8 0 16-8 8-1 32 1 8 3 16 1 8 0 8-4 16-4 8 2 16 2 32 17 16-1 8-3 8 0 8 3 8 1 16 8 8 2 8 3 16-1 8-3 16 0 16 5 32 16 32 36 16 9 8 0 24-13 8-1 8 1 40 20 8 1 8 0 24-8 56-1 8-3 8 0 32 8 8 8 8 4 8 2 32-1 24-13 8-1 8 1 16 8 48 1 24 12 8 1 8 4 32 1 8 3 8 1 8 3 24 2 32 16 8 1 8 4 24-1 16 1 16 8 32 19 8 3 8 2 24 11 8 2 8 4 8 7 8 2 16 7 56 1 32 18 16 7 48 1 16 1 32 17 24-1 8-3 16 4 8 3 8 1 8 4 48 1 8 3 48 2 8 3 64 1 8 3 48 2 8 2 88 2 8 2 24 1 8 0 8-3 80-2 8-2 56-2 8-3 24-2 8-3 16-1 8-3 24-1 8-4 16-1 8-3 16-1 8-3 16-1V3028z"/>
<path transform="matrix(0.45632 0 0 0.45632 46.04 86.14)" stroke-width="4.37" stroke-opacity="0.72" d="M1339 3028V2476l64-1 8-2 64-2 32 2 32 17 8 8 16 10 8 7 64 35 8 1 8 4 8 1 16 7 8 1 8 4 16 1 8 3 104 2 8 2 8 0 8 0 8-2 88 0 8 2 24 2 8 3 24 1 8 3 48 2 8 3 48 1 8 3 64 0 8-3 16-2 24-7 24-1 24-7 56 0 8 2 16 2 8 3 16 1 8 3 16 2 8 3 40 1 8 3 16 1 8 3 48 2 24-2 8-3 8-1 8-4 8 0 24 1 8 3 8 0 8-3 16 0 8 3 32 1 8 3 24 2 8 3 48 1 16 7 8 2 8 3 72 0 16-4 8-4 32-1 24-8 32 0 8-3 8-2 8-3 8-2 8-3 8-1 8-3 8 0 8 3 16 0 24-7 16-1 8-4 16 0 8 4 8 0 32 0 8 4 8 1 8 3 8 1 8 3 8 0 32-12 16 1 24 7 16 1 8 0 8-4 16-4 8 3 16 1 32 17 16-1 8-3 16 0 24 12 16 5 16-1 8-3 8-1 16 1 16 8 8 1 16 9 8 9 8 11 8 9 16 11 8 3 16 0 16-8 16-1 8 1 32 17 8 1 8-1 24-8 56-1 8-3 8-1 8 3 8 2 40 21 8-1 8-3 16 0 24-14 8-3 32 16 16 0 8-3 8 3 8 1 8 3 8 2 16 8 8 1 8 2 8 0 8-2 8 0 8 3 8 1 8 4 8 0 8 3 16 2 32 16 40 1 8 3 8 1 16 9 8 8 16 9 8 1 16 7 8 1 16 8 32 18 8 1 8 3 8 0 8-3 24 0 8 3 8 1 32 17 8 1 8 3 48 1 8 3 8 1 16 8 16 4 8-2 24-1 8 1 8 3 8 1 8 3 48 1 8 3 48 2 8 2 80 2 8 3 80 2 8 2 80 1 32-1 8-3 72-1 8-3 40-1 8-3 24-2 8-3 16-1 8-3 16-1 8-4 16-1 8-3 16-1 8-3 16-1V3028z"/>
<path transform="matrix(0.45708 0 0 0.45708 45.24 84.64)" stroke-width="4.38" stroke-opacity="0.73" d="M1339 3028V2476l64 0 8-3 56-1 32 0 8 4 8 1 8 4 8 5 8 8 16 10 8 7 72 40 16 8 24 5 24 8 8 1 112 1 8 2 8 0 16 0 8-2 64 0 8 2 32 2 8 3 24 2 8 2 32 2 8 3 40 1 8 3 72 2 40-2 8-3 16-1 8-3 16-1 8-3 16-2 8-3 56 0 8 3 16 1 8 3 16 2 8 3 16 1 8 3 40 2 8 2 24 2 8 3 40 1 24-1 24-8 8-1 16 1 8 3 8 1 24-3 8 2 32 2 8 3 16 1 8 3 56 2 16 4 16 7 8 1 80 0 24-8 32-1 16-8 48-1 16-7 16-2 8-3 8 0 8 3 16 0 24-7 24-2 56 2 8 3 8 1 16 7 16 2 16-1 16-8 8-1 16 1 16 7 16 2 8 3 16-5 8-3 24 0 16 5 8 7 8 5 16 1 8-1 8-4 16 0 32 17 16 1 8-1 8-3 24-1 24 9 16 9 8 9 8 12 8 8 16 10 24 0 8-1 8-4 16 0 8 1 32 16 8 1 8-1 16-7 16-1 40 0 8-3 8-1 16 0 8 4 8 1 8 4 8 8 8 4 8 1 24-1 8-3 24-14 8-3 32 17 32 0 16 7 8 2 16 7 48 1 24 8 8 1 8 3 8 1 16 8 8 2 8 3 40 1 24 11 16 11 8 7 8 4 24 6 8 3 8 1 16 8 16 10 16 8 24 0 8-3 16 0 8 3 8 1 32 16 16 1 8 3 48 2 16 7 8 1 8 3 24 0 8-3 8 1 8 2 16 2 8 3 56 1 8 3 56 2 8 2 88 2 8 3 152 1 40-1 8-3 72-2 8-2 32-2 8-3 16-1 8-3 24-2 8-3 16-1 8-3 16-2 8-3 16-1 8-3 8 0V3028z"/>
<path transform="matrix(0.45784 0 0 0.45784 44.44 83.14)" stroke-width="4.39" stroke-opacity="0.74" d="M1339 3028V2476l64 0 8-3 56-1 32 1 8 3 8 2 8 4 8 7 16 10 8 8 16 10 8 7 56 32 16 7 24 6 8 3 16 2 8 3 200-1 32 2 8 0 8 3 24 2 8 3 16 1 8 3 40 1 8 3 40 2 8 2 56 1 40-1 8-2 16-2 8-3 24-1 8-3 8-1 72 0 8 1 8 3 8 1 8 3 16 2 8 3 24 1 8 3 40 1 8 3 40 2 8 2 16 0 8-2 16-2 8-3 16-1 24 1 48 0 8 3 24 2 24 7 64 1 16 8 16 4 8 0 8-3 8 0 8 3 16 0 8-3 32-2 8-3 24-1 8-3 16-1 8-4 8-1 8-2 8 2 16 0 24-7 24-1 8-3 24 3 8-3 16-2 8-3 16 0 16 0 8 3 40 2 16 7 8 1 8 4 8 1 16-1 16-8 8-1 16 1 16 8 8 1 8 3 16 0 16-7 16 0 8 3 8 0 32 17 16-4 8-4 16 1 40 20 8 0 24-8 8 0 8 0 8 4 8 1 16 8 8 5 8 9 8 12 16 13 16 1 8 3 8-3 32-1 8 1 24 12 16 1 8-1 8-3 8-2 8-3 24 1 8 2 16 0 24-7 16 4 32 18 8 3 8-3 16-1 16-7 16-10 8-1 8 1 8 8 16 9 32 1 8 3 8 2 16 7 16 1 32 0 24 8 24 5 8 3 8 2 16 7 8 1 8 3 8 0 8-2 32 8 16 9 8 8 16 9 8 4 8 0 8 3 16 2 48 25 32 0 8-3 8 3 16 1 40 16 32 2 8 2 32 2 24 8 24-1 8-2 8 0 8 2 24 2 8 3 64 1 8 3 80 2 8 2 144 2 8 3 40 0 8-3 72-2 8-2 56-2 8-3 24-1 8-3 24-2 8-3 16-1 8-3 16-1 8-3 16-2 8-3 16-1 8-3 8 0V3028z"/>
<path transform="matrix(0.45860 0 0 0.45860 43.64 81.65)" stroke-width="4.40" stroke-opacity="0.75" d="M1339 3028V2477l56-1 8-2 72-2 24 1 8 3 8 2 8 4 8 8 8 5 8 7 16 11 8 7 16 10 8 7 40 23 8 4 8 1 8 4 8 1 16 7 16 1 8 3 80 0 8-3 8 0 112 0 8 0 8 3 24 1 8 3 24 2 8 3 24 1 8 3 32 2 8 2 64 2 8 3 24 0 32 0 8-3 24-1 8-3 32-2 8-3 64 0 8 3 16 1 8 4 8 1 8 3 8 1 8 3 40 2 8 2 32 2 8 3 48 1 24-1 8-3 16-2 8-2 8 3 16 1 40-1 16 1 8 3 16 1 24 7 24 1 8-3 16 0 8 2 8 1 24 9 8 0 72-1 8-3 8-1 8-3 32-1 8-3 8-1 8-3 48-2 8-3 24-1 8-3 56-2 8-3 16 0 16 0 8 4 32 0 8 4 8 1 16 8 8 1 8 3 8 0 8-3 8-2 16-7 16 4 24 12 24 0 8-3 8-1 8-3 8 0 8 3 8 1 24 13 8 3 16-4 8-4 16 0 40 22 8 0 24-8 8-1 8 0 8 4 16 1 8 4 32 34 8 5 16 1 48 0 8 3 8 1 16 8 24 0 16-8 8 0 16 0 8 4 16 0 16-1 8-4 16 0 8 1 8 4 24 13 8 1 32-2 8-7 16-10 8 0 8 1 8 8 16 9 24 0 8 4 8 1 8 4 8 1 8 3 32 1 8 3 16 1 8 4 8 1 8 3 16 1 16 7 8 1 8 4 16 1 8 3 24 1 16 8 8 1 24 21 8 4 16 1 8 3 16 1 16 5 8 7 24 13 16 0 8-2 24-1 8 3 16 2 16 7 8 1 8 4 16 1 8 3 48 1 24 7 24 0 8-2 8 0 8 0 8 3 40 1 8 3 80 1 8 3 120 2 8 2 136 0 8-2 64-2 8-3 48-1 8-3 24-1 8-3 16-2 8-3 24-1 8-3 16-2 8-3 16-1 8-3 16-1 8-3V3028z"/>
<path transform="matrix(0.45936 0 0 0.45936 42.84 80.15)" stroke-width="4.41" stroke-opacity="0.76" d="M1339 3028V2477l56-1 8-2 72-2 24 1 8 4 8 1 8 5 8 7 8 5 8 8 8 5 8 8 16 10 8 8 48 27 24 12 8 1 8 3 8 1 8 4 16 1 8 2 16 0 8-2 8 0 168-2 16 1 8 3 24 2 8 3 24 1 8 3 24 2 8 3 32 1 8 3 32 1 96 0 24-1 8-3 32-1 8-3 32 0 8 2 40 2 56 16 48 2 8 2 48 2 8 3 8 0 24-1 8-2 16-2 8-3 16 1 8 3 8 0 16-1 8-3 16 0 8 3 24 2 8 3 8 1 8 3 16 1 48 0 8 1 16 7 48 1 8 3 8-3 32-1 24-8 40-1 8-3 8-1 8-3 8 2 8 1 8-3 40-2 8-3 48-1 8-3 24-1 16 1 8 4 32 0 8 4 8 1 24 11 24 0 16-7 8-1 8 1 24 12 8 1 8 3 8 0 8-3 16-1 8-4 16 1 32 16 16 0 16-8 8 0 16 8 24 13 16 4 24-8 32 1 16 7 8 6 16 18 8 7 8 4 64 1 16 8 8 1 8 3 16 0 16-7 8-1 16 0 8 4 24 1 16-1 8-4 16 0 16 1 8 4 8 7 8 5 32 0 8-3 24-14 8 0 32 17 24 1 24 8 8 1 8 3 32 1 8 3 8 1 8 4 8 1 8 3 16 1 40 12 16 1 8 3 16 2 16 7 8 1 8 4 16 10 8 7 8 5 8 1 8 3 32 1 40 21 72 1 16 7 8 1 8 4 16 1 8 3 48 1 8 3 16 1 48 0 8 1 8 2 72 2 8 3 112 2 8 2 176 1 32-1 8-3 64-1 8-3 40-2 8-2 24-2 8-3 16-1 8-3 16-1 8-3 16-2 8-3 16-1 8-3 24-2V3028z"/>
<path transform="matrix(0.46012 0 0 0.46012 42.04 78.65)" stroke-width="4.42" stroke-opacity="0.77" d="M1339 3028V2477l48 0 8-3 80-1 24 1 8 3 8 2 8 6 16 11 8 7 8 6 24 20 16 10 8 7 24 14 32 17 8 1 16 7 16 2 8 3 40 0 8-3 48-1 112 0 16 1 8 3 24 2 8 2 16 1 8 3 24 2 8 3 40 2 8 2 16 1 104 0 32-1 8-3 40-1 56 1 8 1 8 3 16 1 8 3 8 1 16 7 16 2 8 3 64 1 8 3 40 1 40-1 8-3 8-1 24 1 8 3 8-3 8 0 32 0 8 0 8 3 16 1 24 8 16 0 8-3 8-1 24 1 8 3 8 1 16 7 8 0 8-2 8-1 8 1 8 3 24-1 8-2 24-2 8-3 40-1 24-7 72-2 8-3 8-1 8-3 8-1 56 0 8 0 8 4 8 0 32 1 16 7 8 2 16 7 24 0 24-7 8 0 32 16 24 0 8 0 8-4 24 0 8 1 24 12 8 0 8-1 16-7 8 0 48 25 16 0 16-7 24 0 8 2 8 1 16 9 16 18 16 8 56 1 16 7 8 1 8 4 24 0 8-4 8-1 8-3 8 0 8 3 8 1 8 4 16 3 16-6 16-5 8 0 8 3 8 0 24 14 24 1 8 2 32-16 8 0 24 12 24 1 16 5 16 7 40 1 8 4 8 1 16 7 8 1 8 3 24 2 24 8 8 0 24 8 8 1 24 8 8 1 16 8 8 5 8 8 8 4 8 1 8 3 32 1 32 16 16 2 56 0 8 3 8 0 24 9 24 1 8 3 48 1 8 3 8 0 88 2 8 2 104 2 8 3 240 1 40-1 8-3 56-2 8-2 40-2 8-3 16-1 8-3 24-2 8-3 16-1 8-3 16-1 8-4 16-1 8-3 16-1V3028z"/>
<path transform="matrix(0.46087 0 0 0.46087 41.24 77.15)" stroke-width="4.43" stroke-opacity="0.78" d="M1339 3028V2477l40 0 8-3 88-1 24 1 16 7 24 15 8 8 8 5 16 16 16 10 8 7 24 15 8 7 24 13 8 1 24 12 8 1 8 3 80 1 16-1 8-2 8 0 8 2 64 0 8 0 8-2 16 0 8 3 16 1 8 3 32 1 8 3 24 2 8 2 32 2 8 3 24 0 112 1 40-1 8-3 64 0 8 3 24 1 8 3 16 1 24 8 8 1 8 3 16 2 8 2 80 2 8 3 16 0 32 0 8-3 16-1 40 0 16-1 8-2 8 0 8 2 24 2 8 3 16 1 8 3 16 0 8-3 8 0 16 0 40 12 56 1 24-1 8-3 24-2 8-2 40-2 8-3 72-1 8-3 8-1 8-4 8 0 24 1 8 2 8-2 24-1 8 3 40 2 16 7 8 1 16 8 24 0 24-8 8 1 32 16 32 0 8-3 24-2 8 1 24 12 8 0 16-7 16-1 48 25 8 1 24-8 8 0 8 3 24 0 8 2 24 24 8 5 16 4 8 0 8-3 24-1 8 4 8 1 16 8 8 1 24-1 8-4 8 0 16 0 8 0 16 8 16 1 8-1 16-7 24-1 8 0 32 16 24 2 8-1 24-13 16 1 16 8 24 0 16 5 16 8 40 0 24 12 8 2 8 3 8 1 8 3 24 1 8 4 24 5 16 7 8 1 16 8 16 1 8 3 24 15 16 8 16 1 8 2 24 1 24 12 8 1 8 4 72 0 24 8 56 2 8 3 32 1 56 0 8 3 88 2 8 2 160 2 8 3 104 0 8-3 64-2 8-2 56-2 8-3 32-1 8-3 16-2 8-3 16-1 8-3 16-1 8-3 16-1 8-4 16-1 8-3 16-1V3028z"/>
<path transform="matrix(0.46163 0 0 0.46163 40.44 75.66)" stroke-width="4.45" stroke-opacity="0.78" d="M1339 3028V2477l24 0 8-2 104-2 24 1 16 8 24 14 16 16 8 6 24 20 16 10 8 7 16 10 64 34 24 1 8 3 64 0 8-3 8 0 8 0 8 3 104 0 24 2 8 2 32 2 8 3 32 1 8 3 56 2 8 2 112 0 8-2 48-2 48 2 8 2 24 2 8 3 8 1 8 3 8 1 24 8 24 1 8 3 64 1 16 1 8 2 8 0 8 0 8-2 40-2 40 1 16-1 8-3 24 0 8 3 24 2 8 3 8 0 16 0 8-3 24 0 40 11 48 2 8 2 8-2 32-2 8-3 48 0 8-1 8-3 80-1 24-9 8 0 8 1 8 3 8 1 8-1 8-3 8 0 8 0 8 4 32 0 56 17 16 0 24-8 8 0 24 12 16 4 24 0 24-7 8 0 24 11 16 1 24-8 16 4 8 5 8 7 8 4 8 2 8 4 16 0 8-1 8-3 8 0 8 2 8 1 8-3 16 4 24 21 16 8 24 0 8-3 16 0 8 3 8 2 16 8 8 0 24-1 8-3 24-1 16 8 8 2 8 3 8 0 32-12 16 0 16 4 24 12 8 1 8 3 8 0 16-4 16-8 8 0 8 0 8 3 32 1 16 5 16 8 24-1 8-2 40 20 8 1 8 3 24 1 24 7 16 2 40 20 24 2 16 8 8 8 8 4 8 1 8 3 32 1 8 4 8 1 16 7 8 1 8 4 64 0 16 1 8 4 8 1 8 2 72 2 8 2 16 1 96 1 8 3 136 2 8 2 176 1 16-1 8-2 64-2 8-3 48-1 8-3 24-1 8-3 24-2 8-3 16-1 8-3 16-2 8-3 16-1 8-3 16-2 8-2 8-1V3028z"/>
<path transform="matrix(0.46239 0 0 0.46239 39.64 74.16)" stroke-width="4.46" stroke-opacity="0.79" d="M1339 3028V2477l8 0 8-2 120-2 24 1 16 8 16 10 24 21 8 5 8 8 8 5 24 20 16 10 8 7 16 10 48 25 8 1 8 4 24 1 8 3 208 1 8 3 48 2 8 2 40 2 8 3 24 0 192 0 40 1 8 3 24 1 8 3 16 2 40 12 32 1 8 3 64 1 8 3 8-3 56-2 8-2 8 3 24 0 16 0 8-3 24-1 8 1 8 2 40 2 16-1 8-3 8 0 8 3 16 1 24 7 40 2 8 3 8 0 16-1 8-2 56 0 48-2 8-2 16-1 40 0 8-1 16-7 8 0 24 7 8-3 16-1 8 0 8 4 48 1 40 12 16 0 8-3 8-1 8-4 8 0 16 5 16 8 32 1 8-1 8-3 16-1 8 0 16 8 8 1 16-2 8-3 16 0 40 21 8 1 8 3 8 0 8-3 8-1 40 1 16 9 8 8 8 5 16 7 24 1 8-4 16 0 16 5 24 11 8-3 16-1 8-3 24 0 32 16 8 0 24-12 24-1 8 0 24 13 24 5 16 0 8-4 8-1 8-4 16 0 40 0 16 5 16 8 16 0 8-4 8 0 40 21 8 1 8 3 24 1 24 8 8 0 40 21 16 5 24 1 8 5 8 7 8 4 8 1 8 4 24 1 8 2 16 2 16 7 16 2 8 3 64 0 8 1 8 3 16 1 8 3 136 2 8 3 136 1 8 3 232 1 24-1 8-3 56-1 8-3 48-2 8-2 24-2 8-3 16-1 8-3 16-1 8-3 16-2 8-3 16-1 8-3 16-2 8-2 8-1V3028z"/>
<path transform="matrix(0.46315 0 0 0.46315 38.84 72.66)" stroke-width="4.48" stroke-opacity="0.80" d="M1339 3028V2475l136-1 24 1 16 7 16 10 8 8 8 5 16 16 8 5 24 21 16 10 8 8 16 9 8 7 32 19 24 12 16 1 8 3 80 2 8 2 16 1 136 1 8 3 56 1 8 3 48 2 8 2 160 0 8-2 8 0 8 2 48 2 8 3 24 1 8 3 16 1 8 4 8 1 8 3 8 1 8 3 72 2 8 2 24 1 48-1 8-2 8-1 16 0 8 3 24 1 8-3 16-2 8-3 8 0 8 3 8 0 40 1 16-1 8-3 8 0 8 3 16 1 8 3 16 2 8 3 32 1 8 3 8 0 16 0 8-3 8 0 16 0 8 3 16 1 24-1 8-3 56-1 32 1 8-1 8-4 8 0 16 1 8 3 8 1 8-1 8-3 8-1 8 4 8 1 48 0 8 3 8 1 8 3 16 1 24 0 8-1 8-3 8-1 8 1 24 8 8 1 32 0 8-1 8-3 16 0 24 8 8-1 8-3 16-1 8 0 40 21 8 2 8 3 8 0 8-4 8 0 16 1 8 3 16 0 8 4 24 14 16 8 24 0 8-3 16-1 24 12 16 2 24-2 8-3 16 0 16 4 24 13 8 0 16-8 16-5 24 0 32 16 16 2 8 3 24-8 24-1 8-3 16-1 16 1 16 4 16 8 16-1 8-3 16 1 8 7 8 6 16 7 16 1 8 3 24 2 8 3 8 1 16 7 40 22 32 1 40 21 8 1 8 3 32 1 8 4 8 1 8 3 8 1 8 3 64 0 24 4 96 2 8 2 136 2 8 2 184 2 112-1 32-1 8-2 56-2 8-3 40-1 8-3 16-1 8-3 24-2 8-3 16-1 8-3 16-1 24-7 24-2 8-3V3028z"/>
<path transform="matrix(0.46391 0 0 0.46391 38.04 71.17)" stroke-width="4.49" stroke-opacity="0.81" d="M1339 3028V2475l136-1 24 1 16 8 16 9 8 8 8 5 16 16 8 6 8 8 8 5 24 20 8 6 8 7 24 14 8 7 16 10 16 8 8 1 8 4 8 1 8 3 32 1 8 3 96 1 8 3 128 2 8 2 48 2 8 3 24 0 216 1 8 3 40 2 8 2 16 2 24 7 16 2 8 2 48 2 8 2 40 2 56-1 8 0 8-3 8 0 8 3 32 0 8 0 8-3 16-2 8-2 8 2 40 1 16-1 8-3 8 0 16 1 8 2 24 2 8 3 32 1 8 3 64 1 8 3 16 2 32-2 32 0 8-2 16-1 16 0 8 3 8 1 8-1 8-3 8-1 8 1 8 3 16 4 8-3 16-1 16 2 8 2 8-2 32 0 8 2 16 2 8 3 16 0 16 0 8-3 16-5 8 3 8 1 8 4 8 0 40 1 16-1 8-3 8 0 24 7 8 0 8-3 16-1 8 1 40 20 8 2 8 3 8 0 8-3 8-1 8 0 8 4 24 1 48 25 8 1 8 3 16-4 8-4 8 0 24 12 8 1 40-1 8-3 8 0 16 7 8 2 16 8 8 0 8-1 24-11 16-1 8 4 24 13 16 1 8 3 16 0 8-3 24-2 24-7 8 0 8 0 8 3 8 1 24 9 16-1 8-4 8 0 24 14 16 7 16 1 8 3 24 2 8 3 8 1 16 7 24 15 16 7 32 1 40 20 8 1 8 4 32 1 8 4 8 1 8 3 8 0 8 3 64 1 16 1 8 3 8 0 152 2 8 2 216 2 8 2 128 0 8-2 64-2 8-3 48-1 8-3 40-2 8-2 16-2 8-3 16-1 8-3 16-1 8-3 16-1 8-4 16-1 8-3 16-1 8-3V3028z"/>
<path transform="matrix(0.46467 0 0 0.46467 37.24 69.67)" stroke-width="4.51" stroke-opacity="0.82" d="M1339 3028V2476l136-2 24 1 16 8 16 10 8 7 8 6 16 16 8 5 16 16 8 5 8 8 8 5 8 8 16 10 8 7 24 14 8 7 8 5 8 1 16 7 16 2 8 3 40 1 8 3 72 2 8 2 120 2 8 3 48 1 8 3 56 2 8 2 112 0 8-2 56-1 8 3 48 2 8 3 24 1 24 7 16 2 8 3 56 1 8 3 32 1 56-1 8-3 8 0 16 0 8 3 24 0 8 0 24-7 88-2 40 1 8 3 16 2 8 3 32 1 8 3 48 1 8 1 8 3 8 1 24-2 8-2 8 2 16 1 16-1 8-2 8 0 8 0 8 3 8 0 32 0 8 1 16 7 8 0 8-3 16-1 8 1 8 3 8 0 8 0 8-3 32 0 8 3 24 1 8 3 8 1 8-1 16-7 8 0 8 0 8 3 40 2 8 3 8 0 8-1 8-3 8 0 16 0 8 3 8 1 16-1 8-3 8 0 32 16 8 1 24 9 16-1 8-3 8 0 24 7 8 1 32 16 8 2 16 7 16 0 16-8 8 0 24 13 8 1 64-1 8 4 8 1 16 8 8 1 8-1 16-8 24-1 8 1 32 16 16 1 48-1 24-8 8 0 16 1 8 3 8 1 16 7 8 0 16-7 8 0 8 4 8 7 16 9 24 2 8 2 16 2 24 7 8 1 16 8 8 5 8 8 8 4 32 1 16 4 24 12 8 2 16 7 24 1 8 3 16 1 8 4 16 1 8 3 112 1 8 3 24 0 8-3 16 0 16 0 8 3 200 2 8 2 216 0 8-3 56-1 8-3 56-2 8-2 24-2 8-2 24-2 8-3 16-1 8-3 16-2 8-3 16-1 24-7 24-2V3028z"/>
<path transform="matrix(0.46543 0 0 0.46543 36.44 68.17)" stroke-width="4.52" stroke-opacity="0.83" d="M1339 3028V2476l136-1 24 1 16 7 16 10 16 16 8 5 16 16 8 6 8 8 8 5 24 20 8 5 8 8 16 10 8 7 24 14 16 8 8 1 8 3 24 1 8 3 64 2 8 2 56 2 8 2 88 2 8 3 40 1 8 3 56 2 8 2 128 0 8-2 56 0 8 2 48 2 8 3 24 1 24 7 16 2 8 3 64 1 8 3 72 0 8-3 24-1 24 1 8 3 8 0 8-3 8-1 8-3 8-1 128 0 8 0 8 4 24 1 8 3 24 1 8 3 40 1 8 3 16 2 32-1 24 1 32-1 16 1 8 3 32 1 8 1 16 7 16 0 8-4 8 0 8 3 8 1 80 0 8 1 8 3 8 0 8 0 8-3 16-2 56 2 8 3 8 0 16 0 8-3 8-1 8 1 8 3 16 0 8 0 8-3 16 4 16 8 24 5 8 4 16 3 8-3 24 0 8 4 8 1 16 7 8 1 32 16 8 1 16 0 8-4 16-4 32 16 8-1 8-2 48-1 8 4 8 1 16 8 8 1 8-1 8-3 16-5 16 0 32 17 8 0 8 3 56 1 24-8 8 0 8 3 16 1 24 7 8 0 8-3 16-1 8 2 8 7 16 8 32 2 40 11 8 1 32 18 16 7 32 1 8 4 8 1 24 11 8 2 8 3 24 1 24 7 24 2 8 2 320 2 8 3 80 0 224 0 8-3 56-2 8-2 48-2 8-3 24-1 8-3 16-1 8-3 16-1 8-3 16-2 8-3 16-1 8-3 16-2 8-3 16-1V3028z"/>
<path transform="matrix(0.46619 0 0 0.46619 35.64 66.67)" stroke-width="4.54" stroke-opacity="0.84" d="M1339 3028V2476l136-1 24 1 16 8 16 9 16 16 8 6 16 16 8 5 16 16 8 5 8 8 8 5 8 7 16 10 8 8 24 14 8 7 8 2 16 7 16 1 8 3 32 2 8 2 56 2 8 3 64 1 8 3 64 2 8 2 48 2 8 3 64 1 184 0 8 3 48 1 8 3 24 2 24 7 16 1 8 3 80 2 8 2 16 0 8-2 48-2 8-3 8 0 8 3 32 1 16-1 8-3 16-1 120 0 8 1 8 3 8 1 8 3 32 2 8 2 8 1 32 1 8 3 8 1 8 3 24 0 8-3 8 0 8 3 8 1 56 0 8 3 32 2 16 7 16 2 24-2 8 1 8 3 16 0 8-2 48-1 16 0 8 4 16 1 16-2 8-2 8 0 8 2 8-2 16-1 8 0 8 3 16 2 32-1 56 1 16 7 8 1 8 3 16 1 8 4 16 1 32-1 8 4 8 1 16 7 8 1 16 8 8 1 16 7 8 1 16-5 8-3 8-1 24 13 48 0 8-3 16 0 8 3 8 1 16 8 8 1 16-1 8-4 24 0 32 16 24 2 8 3 32 1 16-1 8-4 16 0 16 1 24 7 16 0 8 0 8-3 8 0 32 16 32 1 8 3 8 1 16 8 16 1 40 21 8 0 8 3 32 2 16 7 8 1 16 7 16 2 8 3 24 1 8 3 24 1 8 3 40 0 8-2 8 0 8 0 8 2 64 0 8 0 8-2 16-1 24 1 8 2 40 1 304 1 104-2 8-2 48-2 8-3 48-1 8-3 24-2 8-3 16-1 8-3 16-1 8-3 16-1 8-4 16-1 24-7 16-1V3028z"/>
<path transform="matrix(0.46695 0 0 0.46695 34.84 65.18)" stroke-width="4.55" stroke-opacity="0.84" d="M1339 3028V2476l136-1 24 1 16 8 16 10 16 15 8 6 24 24 8 6 8 7 24 19 8 7 8 5 8 8 16 10 8 7 32 17 8 1 8 3 16 1 8 3 56 2 8 3 40 1 8 3 64 2 8 2 56 2 8 2 56 2 8 3 232 1 8 3 40 1 8 3 24 2 8 3 16 1 8 3 16 1 8 3 136 1 16-1 8-3 8 0 16 1 8 2 24 1 16 0 8-3 24-1 32 1 8 2 40 1 16-1 8-3 8 1 24 7 24 1 8 3 16 1 8 3 32 2 8 2 16 2 8 3 16 0 8-3 8 0 8 3 8 1 56 0 8 3 24 1 8 4 8 1 16 7 8 0 8-3 8-1 16 1 8 3 8 1 48-1 8-3 16-1 16 5 8 4 8 0 16-1 8-3 40-1 16 1 8 3 16 1 56-1 8-3 16 4 8 3 8 2 8 3 32 1 8 3 16 0 8-3 8 0 16 4 24 12 16 1 16 7 8 1 8 4 16 0 16-8 8 0 24 12 48 1 8-1 8-3 8 0 32 9 8 3 16 0 8-4 16 0 32 16 24 2 8 3 16 1 8 3 24 1 8-1 8-3 16 0 8 3 16 1 8 4 48 0 16 8 16 4 32 1 16 7 8 2 8 3 16 1 40 20 24 2 8 3 24 1 16 7 8 1 8 4 8 1 8 3 32 1 8 3 40 2 8 2 8-2 16-1 128-1 272 2 8 2 136 0 8-2 64-2 8-3 56-2 8-2 40-2 8-3 16-1 8-3 16-1 8-3 16-1 8-3 16-1 8-4 16-1 8-3 16-1 8-3 8-1V3028z"/>
<path transform="matrix(0.46771 0 0 0.46771 34.03 63.68)" stroke-width="4.57" stroke-opacity="0.85" d="M1339 3028V2476l136-1 24 2 24 12 8 7 8 6 16 16 8 6 16 16 8 5 16 16 24 18 8 7 16 10 8 8 16 10 8 6 8 5 8 1 8 4 8 1 8 3 16 1 8 2 56 2 8 3 48 2 8 2 80 2 8 2 56 2 8 3 80 1 8 3 168 2 8 2 48 2 8 3 24 1 24 7 24 2 8 2 136 1 8 0 8-3 16-1 8 1 8 2 32 2 40-2 8-2 8 0 8 0 8 2 24 2 64-1 8 1 8 3 8 1 8 3 24 1 8 3 16 2 8 3 16 1 8 3 24 1 8 3 16 0 8-3 8 0 24 7 8 0 8-2 24 0 8 2 24 2 8 3 8 0 8 4 16 4 8 0 8-3 8 0 16 1 8 3 8 1 40-1 16-1 8-3 8 0 16 5 16 7 8-3 32-1 8-1 8-3 16 0 8 1 8 3 16 1 72-1 8 1 16 8 8 0 80 0 24 12 16 1 8 3 8 1 24 8 16 0 16-7 8 0 24 11 48 1 8-1 8-3 16 0 8 3 8 1 16 7 16 1 8-3 8 0 16 4 24 12 24 1 8 3 8 1 8 4 8 0 8 3 24 0 8-3 16 0 40 12 8 0 8-3 16 0 24 8 8 0 8 3 32 2 24 11 24 2 16 4 24 12 8 0 8 3 32 2 56 15 40 2 8 3 40 1 56-1 16 0 8-3 64-1 64 1 8 3 16 0 8-3 40 0 40 0 8 3 264 0 8-3 56-2 8-2 48-2 8-2 32-2 8-3 24-1 8-3 16-2 8-3 16-1 8-3 16-1 24-7 16-1 8-3 8-1V3028z"/>
<path transform="matrix(0.46847 0 0 0.46847 33.23 62.18)" stroke-width="4.58" stroke-opacity="0.86" d="M1339 3028V2476l136 0 24 1 24 12 8 8 8 5 16 16 8 6 24 24 24 19 16 15 16 10 24 20 24 14 16 7 8 1 8 4 24 1 8 3 48 1 8 3 72 2 8 2 96 2 8 3 64 1 8 3 104 2 8 2 88 2 8 3 48 1 8 3 24 1 8 3 16 1 8 4 16 1 8 2 144 1 16 0 8-3 8 2 40 2 72-1 16 1 8 3 8 0 64 0 8 1 8 3 24 2 8 3 16 1 24 7 24 2 8 2 56 2 24 7 48 0 32 1 16 7 8 1 40-1 8 1 8 4 40 1 16-1 8-3 16-1 8 1 24 11 8 0 8-3 32-1 8-3 8 0 8 0 8 3 24 1 72-1 8 1 16 8 8 1 24-2 8-3 40 0 16 5 24 11 24 1 24 8 16 0 8-3 16-1 8 1 16 7 40 2 16-2 8-3 24 0 8 3 8 1 16 7 32 1 24 12 32 1 16 8 8 1 8 3 56 1 8 1 16 7 16 1 24 0 24 7 40 2 8 2 8 1 16 8 16 5 24 1 16 7 8 2 8 3 8 0 8 4 16 1 8 3 24 1 24 7 24 2 8 2 64 2 56-1 64-1 8-2 16 0 32 0 8 2 40 1 392-1 8-2 48-2 8-2 48-2 8-3 32-1 8-3 16-1 8-3 16-2 8-3 16-1 8-3 16-1 8-3 16-2 8-3 16-1 8-3V3028z"/>
<path transform="matrix(0.46923 0 0 0.46923 32.43 60.68)" stroke-width="4.60" stroke-opacity="0.87" d="M1339 3028V2477l136-1 24 1 24 13 8 7 8 5 24 25 8 5 16 16 8 6 16 16 8 5 8 8 8 5 8 7 8 6 24 20 24 13 8 1 16 7 16 1 8 3 56 2 8 2 152 2 8 3 56 1 8 3 56 2 8 2 80 2 8 2 64 2 8 3 64 1 8 3 16 1 8 3 24 2 8 3 16 1 8 3 104 1 64-1 24 1 8 3 24 1 72-1 24 2 8 2 16 0 8-2 32 0 8 3 8 1 8 3 24 1 24 7 16 2 8 3 32 1 8 3 40 1 8 3 16 2 8 2 8 0 8-3 32 0 8 3 16 1 24 8 16 0 8-3 16-1 24 8 8 0 40 0 8-3 16-4 24 11 8 1 40 0 8-1 8-3 8 0 24 1 8 2 16 0 32 0 8-2 16-1 8 1 24 11 8 1 16-1 24-8 24 1 8 3 8 0 24 12 32 2 24 7 16 0 8-3 16-1 24 8 24 2 8 2 8 0 8-3 8-1 8-4 16 0 16 1 16 7 8 2 8 3 24 1 24 11 32 1 16 8 8 1 8 3 56 1 16 8 8 1 8 4 32 0 8 3 32 2 8 2 24 1 8 4 8 1 24 11 32 2 8 3 8 1 8 4 8 0 8 3 16 2 8 2 32 2 8 3 16 1 8 3 64 2 8 2 24 0 8-2 24 2 8-2 88-2 336 1 152-1 8-3 48-1 8-3 48-2 8-2 24-2 8-3 16-1 8-3 16-1 8-3 16-2 8-3 16-1 24-7 24-1V3028z"/>
<path transform="matrix(0.46999 0 0 0.46999 31.63 59.19)" stroke-width="4.61" stroke-opacity="0.87" d="M1339 3028V2477l136-1 24 1 24 13 8 7 8 6 24 24 8 6 24 24 24 18 16 16 8 5 24 21 16 9 8 7 8 4 8 2 8 3 8 2 8 3 8 0 8 3 48 2 8 2 192 2 8 3 48 2 8 2 40 2 8 2 64 2 8 3 64 1 8 3 64 1 8 3 24 1 8 3 24 2 8 3 16 1 8 3 80 2 8 2 8 0 56 0 8-3 8 0 8 3 40 2 8 2 48 0 8-2 8 0 8 0 8 3 16 1 56-1 8 1 8 3 24 1 8 3 8 1 8 3 16 1 8 3 16 2 8 3 48 1 8 3 24 1 8 4 8 0 72 0 8 3 8 2 8 3 8 1 16 0 8-1 8-3 8 0 24 7 16 2 8 2 24 0 16-7 8 0 16 5 16 7 8 0 32 0 8-3 8-1 112-1 8 1 16 8 16 4 8 0 8-3 8-1 16-7 16-1 8 4 24 5 16 8 24 1 8 2 8 1 8 4 8 1 40-1 16 1 8 4 8 0 8 3 16 1 8 0 8-4 8-1 8-3 16-1 16 1 16 7 8 1 8 4 16 1 8 3 8 1 16 7 16 0 8-2 24 11 16 4 48 1 16 5 24 11 40 1 8 3 56 2 24 11 16 5 32 1 8 3 8 1 8 3 16 1 8 4 32 1 8 3 16 1 8 3 24 1 8 3 120 0 24-3 64-1 240 1 8 3 144 0 8-3 96-1 8-3 48-2 8-2 48-2 8-3 16-1 8-3 16-1 8-3 16-1 8-3 16-2 8-3 16-1 8-3 16-1 8-3 16-1V3028z"/>
<path transform="matrix(0.47075 0 0 0.47075 30.83 57.69)" stroke-width="4.62" stroke-opacity="0.88" d="M1339 3028V2477l136-1 24 2 24 12 8 8 8 5 24 24 8 6 24 24 8 6 16 15 24 19 16 15 8 5 8 8 16 9 24 12 8 1 8 4 16 1 8 3 48 1 8 3 96 0 8-3 16 0 8 3 72 2 8 2 32 2 8 2 32 2 8 2 64 2 8 3 72 1 8 3 72 2 8 2 24 2 8 3 16 1 8 3 16 1 8 3 64 2 8 2 16 1 80 0 16 1 8 3 56 1 8 3 8 0 8-3 16 0 16 0 8 3 64 1 8 0 8 3 32 2 24 7 16 1 8 3 24 1 8 3 48 2 8 2 8 1 8 3 16 2 64-1 8 1 24 8 16-1 8-3 16-1 8 1 8 3 8 1 8 3 16 2 8 2 8 1 16-5 8-3 8 0 8 1 16 7 16 1 8 3 16 0 8-3 8-1 32 0 8-3 40 0 8 3 8-1 8-2 16 0 8 3 8 1 16 8 16 3 40-15 16 4 8 3 8 1 16 7 8 2 8 3 24 0 24 8 16 1 8-1 8-3 8 0 8 3 24 2 8 3 16 0 16-1 16-7 24 0 8 3 8 1 8 3 8 2 8 3 8 1 8 3 16 1 16 7 8 1 8-3 8-1 24 12 16 4 48 1 24 12 16 5 32 1 8 3 48 1 8 2 16 2 24 11 40 1 8 4 24 1 16 7 40 1 8 3 24 2 8 3 8 0 128 0 16 0 8-3 56-1 48 1 8 2 32 1 368-1 8-2 56-2 8-2 48-2 8-3 32-1 8-3 24-1 8-3 16-2 8-3 16-1 8-3 16-1 24-7 16-1 8-3 16-1V3028z"/>
<path transform="matrix(0.47151 0 0 0.47151 30.03 56.19)" stroke-width="4.64" stroke-opacity="0.89" d="M1339 3028V2477l136-1 24 2 24 12 8 8 8 5 32 33 8 6 24 24 8 5 16 16 24 18 16 16 16 10 8 7 16 8 8 1 8 4 8 1 8 3 16 1 8 3 72 1 8 3 24 0 8-3 80 0 8 3 48 2 8 2 24 2 8 2 32 2 8 3 64 1 8 3 88 2 8 2 72 2 8 3 16 1 8 3 16 1 8 3 16 1 8 3 56 2 8 3 104 1 8 0 8 3 32 1 8 3 72 1 16 0 8 3 8 0 8-2 24 0 8 2 16 2 8 3 32 1 24 7 24 1 8 3 32 2 8 2 32 2 8 3 16 1 8 3 72 0 8 1 24 8 8 0 8-1 16-7 8 0 40 12 16 1 8 3 16-4 8-3 8-1 8 1 16 7 32 1 48-1 8-3 16-1 64 0 16 1 24 11 16 2 8-1 24-12 16 0 16 7 8 1 24 8 8 1 8 3 24 1 16 7 16 1 8-1 8-2 16 0 8 2 24 1 8 3 8 1 8-3 16-2 8-3 16-1 16 1 8 3 8 1 8 4 8 1 8 4 16 0 24 7 16 0 8-2 24 11 16 1 32 0 16 4 32 16 24 2 8 2 56 2 8 3 16 0 8 4 8 1 16 7 48 2 8 2 24 2 16 7 56 1 8 3 24 2 8 2 16 0 8-2 8-1 88 0 16-1 8-2 8-1 64 1 8 2 56 1 384-1 8-2 48-2 8-3 48-1 8-3 32-1 8-3 16-1 8-3 16-2 8-3 16-1 8-3 16-1 8-3 16-2 8-3 16-1 8-3 8 0V3028z"/>
<path transform="matrix(0.47226 0 0 0.47226 29.23 54.69)" stroke-width="4.65" stroke-opacity="0.89" d="M1339 3028V2477l136 0 24 1 24 13 8 7 8 6 40 40 8 6 24 24 24 19 16 15 8 6 8 7 8 6 8 7 32 16 8 2 8 3 8 1 8 3 32 1 8 3 176 2 8 2 32 2 8 2 32 2 8 3 32 1 8 3 80 2 8 2 96 2 8 2 48 2 8 3 24 1 24 7 16 2 8 3 40 1 8 2 32 2 8 3 80 0 32 1 8 3 24 2 8 2 120 2 24 7 48 1 8 4 8 1 8 2 24 2 8 2 32 2 8 3 24 1 8 3 8 1 8 3 8 1 80 1 16 7 16 1 8-1 8-4 16-3 40 11 16 1 8 3 8-3 24-1 16 1 8 3 40 1 32-1 8-3 16-1 8-3 24 0 8 3 8 0 8 0 8-3 8 0 8 0 8 3 8 1 24 12 8 1 8-1 24-12 16 0 8 3 24 5 24 8 16 1 40 12 8 0 8-3 40-1 8 1 8 3 16 0 16 0 8-3 16-2 24 2 32 8 8 3 24 1 8 3 40 1 16 8 56 1 40 20 16 4 64 1 8 3 24 2 8 3 8 1 16 7 72 1 24 8 40 1 8 3 24 1 8 3 8 1 64-1 8-3 16 0 16 0 8 3 8 0 8-3 32-1 352 1 176-1 8-3 48-2 8-2 40-2 8-2 32-2 8-3 16-1 8-3 16-1 8-3 16-2 8-3 16-1 24-7 16-1 8-3 8 0V3028z"/>
<path transform="matrix(0.47302 0 0 0.47302 28.43 53.20)" stroke-width="4.66" stroke-opacity="0.90" d="M1339 3028V2477l136 0 24 1 24 13 16 15 8 6 32 33 8 6 24 23 8 6 16 15 8 6 16 15 8 6 8 7 24 14 24 11 8 1 8 4 24 1 8 3 56 2 8 2 136 2 8 2 32 2 8 3 32 1 8 3 32 1 8 3 136 2 8 2 64 2 8 3 24 1 8 3 16 1 24 7 16 2 8 3 24 1 8 3 32 1 8 3 16 1 96 0 8 3 24 2 8 3 72 1 8 3 56 1 24 7 48 1 8 3 16 2 8 3 32 1 8 3 16 1 8 3 24 1 24 8 16 1 8 3 56 0 16 1 16 7 8 0 24-8 8 0 16 1 24 7 16 2 8 2 8 0 8-3 16 0 24 1 8 2 32 1 24-1 8-2 16-2 8-3 8-1 40 1 24-1 16 1 8 3 8 2 24 11 8 0 24-12 16 0 24 4 40 12 16 1 24 8 72 0 16 1 8 3 8-3 40-1 8 1 8 3 16 1 24 8 64 0 8 1 16 7 56 1 40 20 24 1 8 3 48 1 8 3 24 2 8 3 8 1 8 3 40 1 8 0 8 3 24 0 8 1 8 4 16 4 48 1 8 3 24 1 8 3 16 0 8-3 8 0 96-1 8-3 16-1 88 1 8 3 8 0 256 0 56-1 8-2 112-2 8-2 48-2 8-3 40-1 8-3 24-1 8-3 24-2 8-3 16-1 24-7 16-1 8-3 16-1 8-4 16-1 8-2V3028z"/>
<path transform="matrix(0.47378 0 0 0.47378 27.63 51.70)" stroke-width="4.68" stroke-opacity="0.91" d="M1339 3028V2477l136 0 24 2 24 12 16 16 8 5 40 41 8 6 24 24 8 5 16 16 8 5 16 16 16 10 8 7 16 8 32 9 16 1 8 3 40 1 8 3 120 2 8 2 48 2 8 2 32 2 8 3 32 1 8 3 88 2 8 2 96 2 8 2 40 2 8 3 16 1 8 3 16 1 24 7 8 1 8 3 16 2 8 3 40 1 8 3 16 1 88 0 8 3 32 2 24 7 64 1 8 0 8 3 40 1 8 0 24 8 48 0 8 1 8 3 32 1 8 3 16 1 8 3 16 1 8 3 16 1 24 8 16 1 8 3 24 1 32-1 16 2 16 6 8 1 16-5 8-3 8-1 16 1 8 3 16 1 8 3 8 1 72 0 8 0 8 3 16 1 8-3 24-1 24-8 16 0 8 0 8 3 16 1 8 0 8-4 16 0 8 3 8 1 24 12 8 1 8-1 24-8 16-1 24 2 40 12 8 0 8 3 8 1 8 4 8 1 8 3 32 0 8 0 8-3 16-1 8 1 8 3 64 1 8 3 24 1 16 7 24 0 8-3 24 0 8 1 16 7 8 1 40-2 16 1 32 17 16 4 24 1 8 3 40 1 8 3 24 2 24 7 80 1 24 8 32 0 8 3 24 1 8 3 24 2 56-2 8-2 8-1 80-1 480 0 8-2 64-2 8-3 40-1 8-3 40-1 8-3 24-2 8-2 16-2 8-3 16-1 8-3 16-1 8-3 16-2 24-7 24-1V3028z"/>
<path transform="matrix(0.47454 0 0 0.47454 26.83 50.20)" stroke-width="4.69" stroke-opacity="0.91" d="M1339 3028V2478l144 0 16 1 8 4 16 9 16 15 8 6 48 49 8 5 24 24 8 6 16 15 8 6 8 7 8 6 8 7 16 9 16 7 8 2 8 3 16 1 8 3 24 1 8 3 64 2 8 2 112 2 8 3 32 1 8 3 32 1 8 3 40 2 8 2 128 2 8 2 48 2 8 3 24 1 8 3 16 1 8 3 24 5 8 3 8 1 8 4 16 1 8 3 32 1 8 3 32 2 8 2 16 0 8-2 24 0 8 2 40 2 8 2 16 2 8 3 40 1 8 3 64 2 8 2 16 2 8 3 8 1 8 3 48 0 24 1 8 3 32 1 24 7 24 2 24 7 8 1 8 3 24 2 8 3 8 0 32-1 16 1 8 4 16 4 16-5 8-3 8-1 32 2 24 6 8 1 32-1 8-2 24 0 8 0 8 3 16 0 16 0 8-3 16-2 16-6 8-1 32 4 32-1 24 1 24 12 8 1 16-1 24-8 32 1 8 3 8 1 16 7 16 1 40 12 32 1 16-1 8-3 8 0 8 0 8 3 40 1 8 3 16 1 8 3 24 1 8 3 8 1 16 1 16-2 8-2 16 0 8 2 8 1 8 4 16 1 16-1 8-3 8 0 16 3 32 16 16 2 8 2 56 2 24 8 16 0 8 3 16 2 8 2 80 2 16 7 48 1 8 3 24 2 8 2 8 1 16-1 8-3 96-1 8-3 24 0 504-1 8-3 48-1 8-3 48-2 8-2 32-2 8-2 24-2 8-3 16-1 8-3 16-2 24-6 16-2 8-3 16-1 8-3 16-1V3028z"/>
<path transform="matrix(0.47530 0 0 0.47530 26.03 48.70)" stroke-width="4.70" stroke-opacity="0.92" d="M1339 3028V2478l144 0 16 1 8 4 16 9 24 23 8 6 48 49 8 6 24 24 8 5 16 16 8 5 8 8 16 9 24 12 8 4 8 1 8 3 24 1 8 3 48 2 8 2 120 2 8 2 48 2 8 3 24 1 8 3 32 1 8 3 88 2 8 2 72 2 8 3 40 1 8 3 24 1 24 7 8 1 8 3 16 2 24 7 16 1 8 3 24 1 8 3 32 2 8 2 88 2 8 3 16 1 24 7 56 1 8 1 8 2 40 2 40 11 24 0 8-3 24 0 8 3 40 1 24 7 24 2 24 7 16 1 8 3 16 1 24 8 16-1 8-2 16-1 24 8 8 0 8 0 8-4 8-1 8-2 8-1 8 1 8 2 24 2 8 3 8 0 48-1 8-2 8 0 8 0 8 3 16 0 16 0 40-12 8 0 8 3 16 1 8 4 16-1 8-3 8 0 24 1 16 7 16 4 8 0 16 0 24-7 24 0 8 3 8 1 16 7 16 1 40 11 32 2 16-2 8-3 16 1 8 2 24 2 8 3 24 1 8 3 24 1 8 3 16 2 8 2 8 0 8-3 16-1 8-2 8 2 16 2 16 6 8 0 8-3 8 0 24 0 8 0 24 12 8 1 8 3 24 2 8 3 40 1 24 7 16 1 8 3 56 2 8 2 40 1 8 4 16 1 8 3 40 1 8 3 32 1 56-1 8-3 8 0 72-2 8-2 32 0 8 2 8-2 16 0 16 0 8 2 72 1 16-1 8-2 336-2 8-2 40-2 8-2 48-2 8-3 32-1 8-3 16-1 8-3 16-1 8-3 16-2 8-3 16-1 24-7 16-1 8-3 16-1V3028z"/>
<path transform="matrix(0.47606 0 0 0.47606 25.23 47.21)" stroke-width="4.71" stroke-opacity="0.92" d="M1339 3028V2478l144 0 16 2 8 3 8 4 8 8 8 5 24 24 8 6 48 49 8 5 24 24 8 6 16 15 8 5 8 8 16 9 8 4 8 1 16 7 16 1 8 3 40 2 8 2 120 2 8 2 56 2 8 2 32 2 8 3 32 1 8 3 40 2 8 2 72 2 8 2 48 2 8 2 40 2 8 3 24 1 8 3 16 1 24 8 8 0 8 3 16 2 8 3 16 1 8 3 24 1 8 3 72 2 8 2 32 2 8 3 16 1 8 3 16 1 8 3 48 1 8 3 24 2 8 2 32 2 24 7 8 1 56-1 40 1 8 3 16 2 8 2 24 2 8 3 8 1 24 7 24 1 16 7 8 1 32-1 8-2 8 3 8 1 8 3 8 0 16-1 8-3 32 0 16 1 8 3 24 1 8 2 8-2 24-2 8-2 16 0 8 3 8 0 24 0 40-12 8 0 24 7 8 1 16 0 8-1 8-3 8 0 8 3 16 1 24 8 24 0 8-3 16-2 8-2 16 0 16 4 16 7 16 1 8 3 16 2 8 3 8 0 8 3 24 1 8 0 8-3 8-1 24 0 8 3 16 2 8 3 16 1 8 3 32 1 8 3 16 1 8 3 8-2 24-2 8-3 8 3 8 1 24 8 8 0 8-3 32-1 8 3 8 2 16 7 40 5 8 3 40 1 24 8 16 1 8 3 56 1 8 3 40 1 8 1 8 3 24 1 8 3 32 1 8 3 24 0 16 0 8-3 48-2 8-2 8-1 464-1 8-2 120-2 8-3 48-1 8-3 40-1 8-3 32-2 8-3 16-1 8-3 16-1 24-7 16-1 8-3 16-2 8-3 16-1 8-3 8 0V3028z"/>
<path transform="matrix(0.47682 0 0 0.47682 24.43 45.71)" stroke-width="4.72" stroke-opacity="0.93" d="M1339 3028V2478l144 0 16 2 8 3 8 5 8 7 8 5 32 33 8 6 48 48 8 6 16 16 8 5 16 16 8 5 8 7 32 17 8 1 8 3 8 1 8 3 24 1 8 3 56 2 8 2 128 2 8 2 32 2 8 3 32 1 8 3 24 1 8 3 48 2 8 2 56 2 8 2 48 2 8 3 40 1 8 3 24 1 8 3 16 2 24 7 16 1 24 7 24 1 8 3 24 1 8 3 64 2 8 3 24 1 8 3 24 1 24 7 48 2 8 2 16 1 8 3 32 2 8 3 16 1 8 3 8 1 8 3 16 0 8-3 24-1 40 1 8 3 16 2 8 2 24 2 24 7 16 1 8 3 16 1 16 7 8 1 32-1 8-2 8 2 8 1 8 4 8 0 24-1 8-2 32-1 8 3 16 2 8 2 16 1 8-1 8-3 16-1 8-2 8 0 8 2 16 1 24 0 8-3 8-1 16-8 8 0 40 11 16 0 8-3 8 0 24 0 8 1 24 7 32 0 8-4 16-1 8-2 16 3 24 8 16 1 8 3 16 1 8 3 16 1 8 3 24 0 8-3 8-1 24 1 16 1 8 3 8 1 8 3 16 1 8 3 32 1 8 3 8 1 32-1 8-3 8 0 16 4 24 8 24-1 8-2 8 0 16 3 8 4 8 1 8 3 16 1 8 3 16 1 8 3 32 1 8 3 16 2 8 3 8 1 8 3 56 1 8 0 8 3 40 1 8 0 8 3 24 2 8 2 48 2 8 2 8 0 8-2 40-2 8-2 32-2 8-3 24 3 8-2 32-1 456-1 8-3 72-2 8-2 40-2 8-2 40-2 8-2 24-2 8-3 16-1 8-3 16-1 8-3 16-1 8-3 16-2 24-7 16-1 8-3 8 0V3028z"/>
<path transform="matrix(0.47758 0 0 0.47758 23.63 44.21)" stroke-width="4.73" stroke-opacity="0.93" d="M1339 3028V2478l144 1 16 1 8 4 8 4 8 7 8 5 48 49 8 6 32 33 8 5 24 24 8 5 16 16 16 9 24 12 8 4 8 1 8 3 24 2 8 2 40 2 8 2 120 2 8 2 48 2 8 3 24 1 8 3 24 1 8 3 24 1 8 3 48 2 8 2 48 2 8 3 48 1 8 3 48 1 8 3 24 1 8 3 16 1 8 4 16 1 24 7 24 1 8 3 16 1 8 3 40 2 8 2 40 2 8 3 24 1 8 3 16 1 8 3 16 1 8 3 48 2 8 2 16 2 8 2 24 2 8 2 16 2 8 3 16 1 8 3 16 0 8-3 16 0 40 0 8 3 16 1 8 3 24 1 24 8 32 1 24 11 8 1 24-1 8-3 16 1 24 6 40 0 8-2 16 0 8 3 16 1 8 3 16 0 8 0 8-3 16-1 48 1 16-1 8-3 8-2 16-7 8 0 8 3 8 1 16 7 8 1 24-1 8-3 16 1 8 2 24 2 8 2 24 1 8 0 8-3 8-1 24 0 8 1 16 7 8 1 8 3 32 1 8 3 16 1 8 3 16 1 24-8 24 0 8 3 16 2 24 6 16 2 8 2 40 2 8 3 16 0 8-3 24 0 24 11 16 2 40-1 24 7 24 2 24 7 24 1 8 3 24 1 8 3 16 2 8 3 56 1 8 0 8 3 48 1 8 0 8 3 24 1 8 3 16 1 48 0 8-1 8-3 40-1 8-3 80-2 8-2 56 0 24 0 8 2 56 1 8-1 8-2 328-2 8-2 48-2 8-2 40-2 8-3 40-1 8-3 24-1 8-3 16-2 8-2 16-2 24-6 16-2 8-3 16-1 8-3 16-2 8-2V3028z"/>
<path transform="matrix(0.47834 0 0 0.47834 22.83 42.71)" stroke-width="4.73" stroke-opacity="0.93" d="M1339 3028V2476l24 0 8 2 40 1 40-1 8-2 8 2 32 2 8 4 8 4 8 7 8 6 56 57 8 6 32 32 8 5 16 16 8 5 16 16 16 9 24 12 8 4 8 1 8 3 16 1 8 3 24 1 8 3 48 2 8 2 120 2 8 2 32 2 8 3 24 1 8 3 24 1 8 3 24 2 8 2 40 2 8 2 48 2 8 3 56 1 8 3 48 1 8 3 24 2 24 6 16 2 8 3 16 1 8 3 24 1 8 3 24 1 8 3 40 2 8 2 24 2 8 3 24 1 8 3 16 1 8 3 40 1 8 3 24 1 8 3 16 1 8 3 24 2 8 3 16 1 8 3 8 1 8 3 24 0 8-3 8 0 32 0 8 0 8 3 32 2 8 2 8 1 24 8 32 0 16 8 16 4 16 0 8-3 16 0 8 0 8 3 16 2 8 2 56 0 16 1 8 3 16 1 24-1 8-3 24 0 16 1 8 2 8 1 8-1 8-3 8-1 16-7 16-1 8 1 8 3 8 1 8 4 8 0 64 0 24 1 8 2 16 1 8 0 8-4 8 0 24 1 8 3 8 1 16 7 48 1 8 3 16 1 8 3 8 0 24-7 40 0 24 7 16 1 8 3 40 2 8 3 8 0 48 0 16 5 24 11 40 0 16 2 8 3 16 0 8 3 16 2 24 7 40 1 8 3 16 2 8 3 64 1 8 2 8 0 16 0 8-2 8 2 24 2 8 3 24 1 8 3 8 0 8-3 80-1 8-3 16-1 8-3 16-1 368-1 8-2 192-2 8-3 40-1 8-3 40-1 8-3 40-1 8-3 16-1 8-3 16-2 8-3 16-1 8-3 16-1 24-7 16-1 8-3 16-2 8-2V3028z"/>
<path transform="matrix(0.47910 0 0 0.47910 22.03 41.22)" stroke-width="4.74" stroke-opacity="0.94" d="M1339 3028V2476l48 0 8 3 16 0 32 0 8-3 16 0 8 3 24 2 8 3 8 5 8 7 8 5 64 65 8 6 24 24 8 5 16 16 8 6 16 15 24 14 24 11 8 1 8 3 8 1 8 3 24 2 8 2 32 2 8 2 72 2 8 2 88 2 8 3 32 1 8 3 16 1 8 3 24 2 8 2 24 1 8 3 40 2 8 3 48 1 8 2 64 2 8 3 32 1 8 3 16 1 8 3 16 1 8 3 16 2 8 3 16 1 8 3 24 1 8 3 32 1 8 3 40 2 24 6 32 2 8 3 16 1 8 3 48 1 8 3 16 1 8 3 16 1 8 3 24 2 8 3 8 0 8 4 16 1 8 3 16 0 8-3 8 0 32 0 8 0 8 3 24 1 8 3 16 1 16 7 40 1 16 8 16 4 8 0 8-3 32 0 8 0 24 7 16 1 40-1 16 2 8 3 24 0 16 0 8-3 16-1 8 1 8 2 24 1 8 0 8-3 8-1 16-8 16-1 8 1 16 7 16 2 8 2 8-2 16-1 56 1 8 2 16 0 8 0 8-3 16 0 8 0 40 12 56 1 24 4 16-1 8-3 8-1 8-3 24 0 8 2 16 2 8 3 16 1 8 3 32 1 8 3 8 1 48 1 16 3 32 16 56 2 8 2 16 1 8 3 16 2 24 7 40 1 8 3 16 1 8 3 8 1 112 0 8 3 24 2 8 2 16 1 56-1 8-2 40-1 8-3 24-2 8-3 8 0 8 3 16 0 8 0 8-3 24 0 376-1 8-3 120-1 8-3 40-1 8-3 48-2 8-2 32-2 8-3 16-1 8-3 16-1 8-3 16-2 24-6 16-2 24-6 24-2V3028z"/>
<path transform="matrix(0.47986 0 0 0.47986 21.23 39.72)" stroke-width="4.74" stroke-opacity="0.94" d="M1339 3028V2476l128 1 8 2 24 2 8 4 8 4 8 7 8 5 64 66 8 5 24 24 8 6 24 23 8 5 8 8 8 5 8 7 8 4 8 2 24 11 8 1 8 3 16 1 8 3 24 1 8 3 32 2 8 3 136 1 8 2 40 2 8 3 24 1 8 3 16 1 8 3 24 1 8 3 32 2 8 3 32 1 8 3 56 1 8 3 48 1 8 3 24 1 8 3 16 2 8 3 8 0 8 3 16 2 8 3 16 1 8 3 24 1 8 3 40 1 8 3 32 2 8 2 16 2 8 2 32 2 8 3 16 1 8 3 40 1 8 3 24 2 8 2 16 2 8 2 24 2 40 11 32 0 8-3 8 3 32 1 8 3 32 1 16 7 16 4 8 0 8-2 16 0 16 7 16 4 8 0 8-3 32 0 8 3 16 1 24 7 16 0 8-3 16-1 8 1 8 3 16 1 48-1 48 2 16-2 8-3 8-1 16-7 8 0 16 7 8 1 8 3 24 0 8-3 8 0 8 3 48 0 8-2 8 2 8 0 8-3 24 0 8 0 24 8 16 1 8 2 48 0 16 2 8 3 8 0 24-8 16-3 8 0 8 2 24 2 8 3 16 1 8 3 32 1 8 3 32 1 8 3 24 1 32 16 16 4 48 1 8 3 24 2 8 3 8 0 24 7 48 2 8 2 8 1 8 4 8 0 72 0 8 0 8-3 16 0 8 3 24 1 8 3 24 1 96-1 8-3 16-1 8-3 80-1 8-3 432-2 8-2 80-2 8-2 40-2 8-3 40-1 8-3 24-1 8-3 16-1 8-3 16-1 8-3 16-2 8-3 16-1 24-7 16-1 8-3 16-1V3028z"/>
<path transform="matrix(0.48062 0 0 0.48062 20.43 38.22)" stroke-width="4.75" stroke-opacity="0.94" d="M1339 3028V2477l128 0 8 2 16 1 16 5 8 4 8 7 8 6 72 73 8 6 24 23 8 6 16 15 8 6 16 15 32 16 48 13 16 1 8 3 24 2 8 2 32 2 8 2 112 0 56 2 8 3 24 1 8 3 16 1 8 3 24 2 8 2 24 2 8 2 24 2 8 2 40 2 8 2 40 2 8 3 40 1 8 3 16 1 8 3 16 2 8 3 24 4 8 3 24 2 8 3 16 1 8 3 48 1 8 3 32 2 8 2 16 2 8 2 32 2 8 2 24 2 8 3 40 1 8 3 16 1 8 3 16 1 8 3 24 2 40 11 64 1 8 3 16 1 8 3 24 1 16 7 8 1 40 0 24 8 24 0 8-3 8 0 8 3 24 1 24 7 8 1 16-1 8-3 16-1 8 1 8 3 32 2 8 2 8-3 16 0 16 0 8 3 16 1 16-1 8-3 8-1 16-7 8-1 16 1 16 7 8 0 88 1 16-1 8-3 32-1 16 1 24 7 48 2 24-1 8 0 8 3 8 1 16-1 16-7 16-1 32 1 8 0 8 3 16 2 8 3 32 1 8 3 16 1 8 2 32 2 8 3 8 1 40 20 64 1 24 7 16 1 8 3 16 2 8 2 40 1 8 1 8 3 16 1 72-1 8-1 8-2 8 2 24 2 8 3 32 1 96-1 8 0 8-3 16-1 8-3 8 0 16 0 8 2 8 0 8 0 8-2 40-2 208 0 8-2 232-2 8-2 56-2 8-3 40-1 8-3 40-2 8-2 24-2 8-2 16-2 8-3 16-1 24-7 16-1 8-3 16-1 24-7 16-1V3028z"/>
<path transform="matrix(0.48138 0 0 0.48138 19.63 36.72)" stroke-width="4.75" stroke-opacity="0.94" d="M1339 3028V2477l128 0 8 2 16 1 16 5 8 4 8 8 8 5 80 81 8 6 24 24 8 5 16 16 8 5 8 7 40 21 8 1 16 7 16 1 8 3 16 1 8 3 24 2 8 2 40 2 104-1 56 1 8 3 24 1 8 3 16 1 8 3 24 1 8 3 16 1 8 3 24 2 8 2 32 2 8 2 40 2 8 3 24 1 8 3 24 1 8 3 16 1 8 3 16 2 8 3 24 5 8 3 16 1 8 3 24 1 8 3 48 1 8 3 32 2 8 2 16 2 8 2 40 2 8 2 40 2 8 3 16 1 8 3 16 1 8 3 16 1 8 3 24 1 8 3 8 1 8 4 8 1 16 7 56 1 8 3 24 2 8 2 16 1 24 8 24-1 8-2 16 3 8 4 72 1 8 3 8 1 8 3 8 1 24-1 8-3 16-1 8 1 8 3 24 1 8 3 16 0 8-3 8 0 8 0 8 3 24 1 24-1 16-7 16-4 8 0 24 7 8 1 88 0 16-1 8-3 32-1 16 1 8 3 8 1 8 3 40 1 16-1 8-3 8 0 8 3 24 1 8-1 16-7 48 0 8 3 16 1 8 3 24 1 8 3 24 1 8 3 24 2 8 3 16 1 8 3 8 1 24 13 16 6 8 0 8-2 32 0 8 2 8 1 8 3 16 2 8 3 16 1 8 3 48 0 8 1 8 4 8 0 104-1 24 2 8 2 104 1 8 1 8 2 8 0 8-3 16-1 8-3 64 0 8-1 8-3 16 0 304-1 8-3 168-1 8-3 40-1 8-3 40-2 8-2 40-2 8-3 24-1 24-7 16-1 8-3 16-1 8-3 16-2 24-7 16-1 8-3 8 0V3028z"/>
<path transform="matrix(0.48214 0 0 0.48214 18.83 35.23)" stroke-width="4.75" stroke-opacity="0.94" d="M1339 3028V2477l128 0 8 3 16 1 16 4 8 5 8 7 8 5 88 90 8 6 32 31 8 6 16 15 32 17 8 1 16 7 8 1 8 3 16 1 8 3 24 2 8 3 24 1 8 2 72 0 8-2 56-1 40 1 8 3 24 1 8 3 24 1 8 3 16 1 8 3 16 1 8 3 24 1 8 3 24 2 8 2 40 2 8 3 24 1 8 3 24 1 8 3 16 1 8 3 16 1 40 12 8 0 8 3 16 2 8 3 24 1 8 3 48 1 8 3 32 1 8 3 24 2 8 2 40 2 8 2 40 2 8 3 16 1 8 3 16 1 24 7 24 1 8 3 8 1 16 7 8 2 8 3 48 1 24 7 24 1 8 3 8 1 24 7 8 0 8-2 16-1 8 0 8 3 8 1 64 1 8 3 16 1 8 3 8 1 8 3 16-4 8-3 16-1 8 0 8 4 32 1 8 3 24-3 8 0 8 3 24 1 24-1 24-8 8 0 16 0 8 4 16 1 8 3 24-3 8 3 48 0 8-3 16-2 8-2 24-1 16 1 8 3 32 1 8 3 24 0 8-3 16-1 16 1 8 3 16-4 8-3 16-4 16 0 8 2 24 2 8 3 24 1 8 3 24 1 8 3 24 2 24 6 24 2 40 19 40 0 32 1 8 3 16 2 24 6 56 1 8 1 8 3 8 1 96-1 24 1 8 3 40 1 8 3 8 0 8-3 16 0 8 3 40 1 16-1 8-3 16-1 8-3 32 0 8 3 8-3 32-1 8-3 360-2 8-2 120-2 8-2 40-2 8-2 40-2 8-3 40-1 8-3 16-1 8-3 16-1 8-3 16-2 24-6 16-2 24-7 16-1 8-3 8 0V3028z"/>
<path transform="matrix(0.48290 0 0 0.48290 18.03 33.73)" stroke-width="4.75" stroke-opacity="0.94" d="M1339 3028V2477l136 1 32 8 8 4 16 15 8 6 88 90 16 16 8 6 24 23 8 5 8 7 8 5 16 8 8 1 16 7 16 1 8 3 16 2 8 2 24 2 8 2 8 1 80 0 64-1 8-2 8 2 56 2 8 3 16 1 8 3 16 1 8 3 24 1 8 3 16 1 8 3 24 1 8 3 40 2 8 2 32 2 8 3 24 1 8 3 16 1 8 3 16 1 8 3 8 1 8 3 8 1 8 4 8 0 24 7 24 2 8 3 24 1 8 3 48 1 8 3 24 2 8 2 40 2 8 2 32 2 8 2 32 2 8 3 16 1 8 3 16 1 24 7 24 1 16 7 8 2 16 7 40 1 8 3 16 1 8 3 16 1 8 3 16 1 24 8 8-1 8-3 16 0 24 4 56 1 8 2 16 1 8 3 16 2 8 3 16-4 8-3 16-2 16 2 8 3 32 1 32 0 8 3 24 1 24-1 24-8 8 0 16 0 8 3 16 2 8 3 24-3 8 2 48 1 24-7 32-1 16 1 8 3 40 1 8 3 8 0 8 0 24-7 8 2 24 1 24-8 16 0 48 5 8 3 16 1 8 2 32 2 8 3 16 1 8 3 16 1 8 3 16 1 16 5 32 15 8-3 16-1 32 1 8 3 40 5 8 3 56 1 8 3 16 2 8 2 24 0 8-2 56-1 8 0 8 3 40 2 8 2 88 2 8 3 8 0 8-3 16-2 8-3 64-1 8-2 24-2 176 0 8-2 216-2 8-2 96-2 8-3 32-1 8-3 40-1 8-3 32-1 8-3 24-2 24-6 16-2 8-3 16-1 24-7 16-1 8-3 16-2 8-2V3028z"/>
<path transform="matrix(0.48365 0 0 0.48365 17.23 32.23)" stroke-width="4.75" stroke-opacity="0.94" d="M1339 3028V2477l136 1 32 8 8 4 16 15 8 6 16 17 8 10 48 50 16 16 8 6 40 40 16 10 8 7 8 4 8 1 16 7 24 5 8 3 24 2 8 3 24 1 8 2 24 1 88-1 8-2 56 0 8 2 32 2 8 2 24 2 8 3 24 1 8 3 16 1 8 3 32 2 8 2 32 2 8 2 40 2 8 2 24 2 8 2 24 2 8 3 16 1 8 3 8 1 8 3 8 1 8 4 8 1 24 7 8 0 8 3 16 2 8 3 40 1 8 3 32 1 8 3 16 1 8 3 48 1 8 3 48 2 8 3 16 1 8 3 16 1 24 6 24 2 8 3 8 1 8 3 8 1 16 7 8 2 8 3 40 1 24 7 24 1 8 3 8 1 8 3 8 1 40-1 8 1 8 3 64 2 8 2 16 1 8 3 16 2 8 2 40-11 32 7 56 1 8 0 8 4 16 0 24-1 24-7 8-1 24 1 8 3 8 1 56 1 8 2 16 1 8-1 24-7 40 0 8 0 8 3 40 1 8 3 8 0 8-2 16-2 8-3 8 1 8 2 8 1 16-5 8-3 16-4 8 3 24 2 8 2 16 2 8 2 24 2 8 2 32 2 24 7 16 1 8 3 24 1 32 15 16 1 8-1 8-2 16 0 8 2 24 1 8 3 16 2 8 3 24 1 40 0 24 7 96 0 24 1 8 3 48 2 8 2 8 0 8-2 16 0 8 2 32 1 16 0 8-4 16-1 8-3 56 0 8-1 8-3 16 0 248-1 8-3 184-2 8-2 64-2 8-2 40-2 8-2 32-2 8-2 32-2 8-3 16-1 8-3 16-1 8-3 16-1 24-7 16-2 24-6 16-2 8-2V3028z"/>
<path transform="matrix(0.48441 0 0 0.48441 16.43 30.74)" stroke-width="4.74" stroke-opacity="0.94" d="M1339 3028V2477l136 1 32 8 8 4 16 15 120 125 32 29 24 13 24 11 24 5 8 3 24 2 8 2 32 2 8 3 16 0 88-1 8-2 48 0 8 2 40 2 8 2 24 2 8 3 32 1 8 3 32 1 8 3 40 2 8 2 56 2 8 2 24 2 8 2 24 2 24 7 8 1 8 3 8 1 8 3 8 1 8 4 24 4 8 3 8 1 8 3 32 2 8 3 32 1 8 3 24 1 8 3 16 1 8 3 48 1 8 3 40 1 8 3 16 1 8 3 16 1 8 3 16 2 8 3 24 1 8 3 8 1 24 11 40 1 8 3 16 2 8 3 40 5 8 3 8 1 8 3 8 0 8-3 16 0 8 3 8 1 32 0 8 3 32 1 8 3 16 1 8 3 16 1 16-1 24-7 8 0 8 3 24 2 8 2 16 0 8-3 16 0 8 3 16 2 8 2 8-2 24-2 16-7 16 0 8 0 8 3 8 1 8 3 8 1 16-1 8-2 8 0 8 2 32 1 16-1 8-3 8-1 48 1 16 0 8 3 32 2 8 2 16-3 8-3 16-1 8 3 16-3 8-4 16-4 8 0 8 0 8 3 16 1 8 3 24 2 8 2 32 2 8 2 24 2 24 7 24 1 32 8 16 8 72 0 8 0 8 3 16 2 24 6 48 1 8 0 8 3 24 2 80 0 8 0 8 3 48 1 8 3 8 1 72 0 8 3 8-3 16-1 8-3 16-1 8-3 48 0 16-1 8-3 8 0 304-2 8-2 152-2 8-2 48-2 8-3 40-1 8-3 32-1 8-3 32-1 8-3 16-2 24-6 16-2 8-2 16-2 24-7 16-1 8-3 16-1V3028z"/>
<path transform="matrix(0.48517 0 0 0.48517 15.63 29.24)" stroke-width="4.74" stroke-opacity="0.94" d="M1339 3028V2477l136 1 32 8 8 5 16 15 88 92 64 64 16 10 24 11 8 4 8 1 8 3 16 2 8 2 16 1 8 3 32 2 8 3 144-1 56 2 8 2 32 2 8 3 40 1 8 3 64 1 8 3 72 1 8 3 32 2 8 2 16 2 8 3 8 1 16 6 8 2 8 3 8 1 24 8 24 4 8 3 16 2 8 3 24 1 8 2 32 2 8 3 16 1 8 3 40 1 8 3 56 1 8 3 16 1 8 3 16 1 8 3 24 2 8 2 24 2 8 3 8 1 16 7 8 1 8 3 40 1 24 7 16 2 24 6 16 2 8 2 24-2 8 2 8 1 8 3 40 2 8 2 32 2 8 3 16 1 8 3 16 0 8-3 8-1 8-3 8-1 16 1 8 3 24 1 24-1 8-3 8 3 16 1 8 3 24 0 40-11 8 0 8 0 16 4 8 3 48 0 16 1 8 3 16 0 24-7 8 0 8 0 8 3 56 1 8 3 24 1 16-1 8-3 40-1 16-8 16 0 16 1 8 3 16 1 8 3 40 1 8 3 32 1 24 8 16 1 8 2 24 2 16 7 8 1 8 4 72 0 8 3 16 1 24 7 24 2 32-1 8 3 16 1 8 3 88 1 16 1 8 2 48 2 8 2 8 1 72 0 8 0 8-3 16-2 8-3 56-1 8-2 24-2 128 0 8-2 216-2 8-3 128-1 8-3 40-1 8-3 40-2 8-2 32-1 8-3 24-1 8-3 16-2 8-3 16-1 24-7 16-1 8-3 16-1 24-7 16-1V3028z"/>
<path transform="matrix(0.48593 0 0 0.48593 14.83 27.74)" stroke-width="4.73" stroke-opacity="0.94" d="M1339 3028V2478l136 1 32 8 16 11 8 8 56 59 8 11 32 33 40 41 8 5 16 15 32 17 48 12 24 2 8 3 24 1 8 3 184 1 8 3 48 1 8 3 112 1 8 3 80 1 8 3 32 2 48 12 16 7 8 1 16 7 24 5 8 3 8 1 8 3 24 2 8 2 24 2 8 2 24 2 8 2 16 2 8 3 88 1 8 3 16 1 8 3 32 1 8 3 24 1 8 3 24 1 16 7 8 1 8 4 24 1 8 2 24 2 24 7 24 5 8 3 16 1 8 3 8 0 8-2 8 2 16 1 8 4 32 1 8 2 32 2 8 2 16 1 8 3 32 1 24-7 8 0 8 2 8 1 24 1 40-2 16 2 8 3 16 0 8 0 8-3 8-1 8-3 32-2 16 2 8 3 48 0 24 4 24-1 8-3 8 0 56 1 8 2 24 2 8 3 16 0 16 0 8-3 32-1 24-11 16-1 8 3 16 1 24 7 24 0 8-2 8 2 32 2 24 7 16 1 8 3 24 1 8 3 8 1 16 7 16 4 24-2 8 2 48 1 24 8 8 0 8 4 56 1 8 3 24 1 8 3 56 0 8-3 8 3 64 1 8 3 24 2 72-1 8-1 24-7 64-1 24-3 216-2 8-2 168-2 8-2 96-1 8-3 40-2 8-2 40-2 8-2 32-2 8-3 24-1 24-7 16-1 8-3 16-1 24-7 16-2 24-6 16-1V3028z"/>
<path transform="matrix(0.48669 0 0 0.48669 14.03 26.24)" stroke-width="4.73" stroke-opacity="0.94" d="M1339 3028V2478l136 1 32 8 16 11 16 16 32 34 8 11 24 26 80 81 16 10 24 12 16 7 8 1 8 3 16 2 8 3 16 1 8 2 24 2 8 2 8 1 136 1 8 2 72 2 8 3 16 0 160 0 40 1 8 3 24 1 8 3 16 1 16 7 24 6 16 7 8 1 16 7 8 1 8 3 8 1 24 7 24 2 8 2 16 1 8 3 32 2 8 2 48 2 8 2 64 1 8 1 8 2 40 2 8 3 32 1 8 3 16 1 16 7 8 1 8 3 24 1 8 3 16 1 56 16 16 1 8 3 32 1 24 7 48 1 8 3 40 2 8 3 16 0 16-1 8-3 16-1 40 2 40-2 16 2 8 3 16 0 16-1 24-7 24-1 16 2 8 3 48 0 24 4 24-1 8-3 24 0 8 3 48 2 8 3 32 4 8-1 8-2 40-2 24-11 16 0 16 1 8 2 8 1 8 3 8 1 72 1 24 7 8 1 8 3 32 1 8 3 8 1 16 7 8 1 8 3 80 2 8 3 8 0 8 4 32 7 8 0 8-2 16 0 8 2 16 2 8 3 24 1 8 2 8 0 8-2 24-1 56 1 8 2 24 2 8 3 16 0 64 0 8-3 16-2 8-3 16-1 8-2 48-1 16-1 8-2 264-2 8-2 152-2 8-2 80-2 8-3 32-1 8-3 40-1 8-3 32-1 8-3 16-1 8-3 16-1 8-3 16-2 24-6 16-2 24-7 16-1 8-3 8 0V3028z"/>
<path transform="matrix(0.48745 0 0 0.48745 13.23 24.75)" stroke-width="4.72" stroke-opacity="0.94" d="M1339 3028V2478l136 1 32 8 16 12 8 8 40 42 8 11 64 67 8 10 16 17 8 5 16 16 40 20 48 12 24 2 8 3 24 1 8 3 80 1 8 2 104 2 8 2 112 1 8-3 80 0 16 0 8 2 32 2 8 3 16 1 8 3 16 1 16 7 8 2 16 7 8 1 16 7 8 1 8 3 8 1 8 3 8 1 24 7 16 1 8 3 24 1 8 3 40 2 8 2 104 1 8 1 8 2 48 2 8 2 32 2 56 15 16 1 8 3 16 1 40 12 8 1 24 6 40 2 24 7 40 1 8 3 48 1 8 3 16 1 24-1 8-3 24 0 8 3 8 0 8 0 8-3 24-1 16 1 8 3 24 1 16-1 8-3 24-1 8-3 16 0 24 7 8 0 8-3 16 0 8 0 8 3 24 1 40-1 24 1 8 3 32 1 8 3 24 1 56-1 16-4 16-7 40 0 24 8 72-1 8 1 16 7 40 2 32 8 16 6 48 2 8 2 8-2 16 0 56 15 48 0 8 1 8 3 24 2 8 2 8 1 32-1 8-2 24 0 8 2 48 2 8 2 24 1 72-1 24-6 72-2 8-3 16 0 104-1 8-3 192-1 8-3 144-1 8-3 56-1 8-3 32-1 8-3 40-2 8-2 32-2 8-3 16-1 24-6 16-2 8-3 16-1 24-7 16-1 24-7 8 0V3028z"/>
<path transform="matrix(0.48821 0 0 0.48821 12.43 23.25)" stroke-width="4.71" stroke-opacity="0.94" d="M1339 3028V2478l136 1 32 8 16 12 16 16 24 26 8 10 32 35 8 10 72 74 8 6 8 7 24 12 8 1 16 7 8 1 8 3 16 1 8 3 24 2 8 2 24 2 8 2 96 2 8 2 72 2 8 2 88 1 16 0 8-3 56-1 72 1 8 3 24 1 8 3 16 1 24 7 8 2 24 10 24 6 16 7 24 5 8 3 16 1 8 3 16 1 8 3 32 1 8 3 40 1 8 3 8 0 8-2 64-1 8 0 8 3 56 2 8 2 24 1 8 3 16 2 16 6 16 2 8 3 16 1 8 3 24 5 24 7 8 1 8 3 16 2 8 2 32 2 24 6 40 2 8 2 56 2 8 3 16 1 8 3 8-3 16-1 80-1 24 2 8 2 16 1 8 0 8-3 16-2 8-2 24-1 16 1 8 3 56 0 24 4 16 0 8-3 16 0 8 0 8 3 40 1 24 7 8 0 64 0 16-4 16-7 8 0 32 0 24 7 8 1 24-1 8-3 24 0 40 11 40 1 40 12 40 1 8 3 48 0 8 4 8 1 16 7 56 0 8 1 8 3 16 1 8 3 16 1 80-1 32 1 8 3 16 1 64 0 32-1 8-3 16-1 8-3 72-1 8-3 184-2 8-2 152-2 8-2 120-2 8-2 48-2 8-2 32-2 8-2 40-2 8-3 24-1 8-3 16-1 8-3 16-1 24-7 16-1 8-3 16-2 24-6 16-2 8-2V3028z"/>
<path transform="matrix(0.48897 0 0 0.48897 11.63 21.75)" stroke-width="4.70" stroke-opacity="0.94" d="M1339 3028V2478l136 1 32 9 16 11 24 25 16 17 8 11 24 26 8 10 56 59 8 11 8 6 16 15 8 5 40 19 8 1 8 3 16 2 8 3 16 1 8 2 24 2 8 2 40 2 8 2 88 2 8 2 56 2 8 2 96 0 8-2 48-1 80 1 8 3 24 1 8 3 16 1 24 7 8 1 16 7 24 6 16 6 24 5 8 4 8 0 8 3 16 2 8 3 24 1 8 3 48 1 8 3 96 0 32 1 8 3 56 1 8 3 16 1 40 12 16 1 24 7 16 1 8 3 8 1 16 7 16 1 8 3 32 1 8 3 16 1 8 4 32 1 8 2 56 2 8 2 16 2 8 3 24-1 8-2 8 0 8 0 8 2 24 0 8-2 8-1 16 1 8 2 40 2 24-2 8-2 40-2 16 1 8 3 8 0 8-2 24 0 8 2 24 1 56 0 8 3 40 2 8 3 40 1 8 2 24 1 8 0 40-11 32-1 16 4 8 4 48-1 8-2 8 0 40 10 48 1 24 8 40 1 8 3 8 1 48 0 16 7 8 1 8 4 56 0 8 3 16 2 8 2 24 2 88-1 16 1 8 3 32 1 8 2 48 1 16-1 8-2 16-2 8-3 24-1 8-2 80-2 8-2 200-2 8-2 144-2 8-2 104-2 8-3 40-1 8-3 32-1 8-3 40-1 8-3 24-1 8-3 16-2 24-6 16-2 24-6 16-2 24-6 24-2V3028z"/>
<path transform="matrix(0.48973 0 0 0.48973 10.83 20.25)" stroke-width="4.70" stroke-opacity="0.94" d="M1339 3028V2478l136 2 32 8 16 11 24 25 8 9 8 10 24 26 8 11 32 34 8 11 48 49 8 6 8 7 24 12 8 1 16 7 8 1 8 3 24 2 8 2 16 1 8 3 32 2 8 2 80 2 8 2 48 2 8 2 48 2 8 2 80 0 8-2 88-1 32 1 8 3 32 1 8 3 16 1 8 3 8 1 24 7 8 1 8 4 8 1 16 6 8 1 24 7 16 2 24 7 16 1 8 2 48 2 8 3 16 0 104 1 8 3 56 1 8 3 24 1 8 3 16 1 8 4 8 0 24 7 16 1 24 7 16 2 8 3 8 1 24 6 32 2 8 3 16 1 8 3 16 1 8 3 40 1 8 3 48 1 24 7 16 0 8-3 64 0 16 0 8 3 40 1 16-1 8-3 32-1 8-3 8 0 8 3 8 1 64 0 8 1 8 2 80 1 8 3 24 1 8 3 64 1 24-1 8-3 16-1 8-2 24-1 8 0 24 7 8 0 8-2 8 0 8 0 8 2 8-2 8 0 8 2 16 2 8 3 56 1 8 3 32 7 32 1 8 3 24 0 8-2 8 0 16 4 16 7 16 1 48 0 24 7 32 1 8 3 8 0 8-3 56 0 8 0 8 3 40 2 8 2 56 1 16-1 8-2 24-2 8-3 72-1 8-3 112-1 8-3 144-1 8-3 136-1 8-3 88-1 8-3 40-2 8-2 32-2 8-2 40-2 8-3 16-1 8-2 16-2 8-3 16-1 24-7 16-1 24-7 16-1 8-3 16-1V3028z"/>
<path transform="matrix(0.49049 0 0 0.49049 10.02 18.76)" stroke-width="4.69" stroke-opacity="0.94" d="M1339 3028V2478l136 2 32 8 16 12 16 16 16 17 8 11 16 17 8 11 32 34 8 11 40 42 24 23 40 21 24 5 8 3 16 1 8 3 24 1 8 3 24 1 8 3 64 2 8 2 56 2 8 2 32 2 8 2 56 2 8 2 32 0 8-2 104 0 16 0 8 2 40 2 8 2 24 2 8 3 16 1 16 7 8 1 8 3 8 1 40 11 16 1 24 7 16 1 8 3 40 2 8 2 32 2 8 2 112 2 8 2 56 2 8 3 16 1 24 7 16 1 24 7 16 1 8 3 16 1 40 11 24 2 8 2 24 2 8 2 16 2 8 3 32 1 8 2 32 2 8 2 24 2 8 3 8 0 96 0 16 1 8 3 40 1 16-1 8-3 32-1 8-3 8 0 8 3 8 0 72 0 16 1 8 3 16 0 8-3 8 3 56 1 8 3 56 1 8 3 8 0 40-4 8-3 40-1 8 1 8 3 8 1 64 0 8 3 16 1 8 3 56 1 24 7 32 1 8 1 8 3 48 0 8 1 16 7 16 4 8 0 8-3 24 0 8 2 16 2 8 3 24 1 8 3 88 0 24 1 8 3 80 1 24-1 8-3 32-2 8-2 72-2 8-2 144-2 8-2 136-2 8-2 120-2 8-2 72-2 8-2 40-2 8-3 32-1 8-2 32-2 8-3 24-1 24-7 16-1 8-3 16-1 24-7 16-2 24-6 16-1V3028z"/>
<path transform="matrix(0.49125 0 0 0.49125 9.22 17.26)" stroke-width="4.68" stroke-opacity="0.94" d="M1339 3028V2479l136 1 32 8 16 12 16 16 16 17 8 11 16 17 8 11 24 26 8 11 48 50 24 24 16 9 24 11 24 5 8 3 16 1 8 3 16 1 8 3 24 1 8 3 56 1 8 3 56 1 8 3 32 1 8 3 32 2 8 2 48 1 152 1 8 2 40 2 8 2 24 2 8 2 16 2 24 7 40 9 8 3 40 6 24 6 32 2 8 2 32 1 8 3 48 2 8 2 88 2 8 2 40 2 8 2 16 1 8 3 16 2 24 7 16 1 8 3 16 1 8 3 16 1 24 7 24 1 8 3 16 1 8 3 16 1 8 3 16 1 8 3 32 1 8 3 40 2 8 2 16 2 8 3 88 0 40 1 8 2 24 1 8 0 8-3 40-2 8-2 8 0 8 0 8 3 176 1 8 3 56 1 8 3 16 0 24-1 8-2 24-1 8-3 24-1 8 1 8 3 32 1 8 3 8 0 32 0 8 3 8 1 56 1 8 3 16 1 8 3 32 1 24 7 16 0 8-3 16 0 16 7 8 1 8 3 56 1 8 3 24 2 8 2 104 1 8 0 8 3 56 2 8 2 24 0 8-2 32-2 8-2 64-2 8-2 56-2 8-2 152-2 8-2 128-2 8-3 120-1 8-3 56-1 8-3 40-1 8-3 32-1 8-3 32-1 8-3 16-1 8-3 16-2 24-6 16-2 24-6 16-2 24-6 16-1V3028z"/>
<path transform="matrix(0.49201 0 0 0.49201 8.42 15.76)" stroke-width="4.67" stroke-opacity="0.94" d="M1339 3028V2479l136 1 8 3 16 2 8 3 16 12 32 33 8 11 16 18 8 11 16 17 8 11 40 42 8 11 16 16 8 5 8 8 16 9 32 15 8 0 8 4 16 1 8 3 24 1 8 3 24 1 8 3 40 1 8 3 56 1 8 3 32 1 8 3 32 2 8 2 32 2 8 2 176 2 8 2 40 2 8 2 32 2 24 6 8 1 8 3 16 2 8 3 8 1 24 7 16 1 8 3 16 1 8 3 24 1 8 3 32 1 8 3 24 1 8 3 48 1 8 3 72 1 8 3 40 1 8 3 16 1 8 3 16 2 8 2 16 2 8 3 16 1 24 6 24 2 24 7 24 1 8 3 16 1 8 3 16 1 8 3 24 1 8 3 24 1 8 3 40 1 8 3 16 1 8 3 80 0 56 2 8 2 8 0 8-2 40-2 8-3 8 0 16 0 8 3 8 0 8-2 48-1 16 0 8 3 8 1 136 0 8 0 8 3 16 0 32 0 8-2 24-2 8-3 16 0 8 1 8 2 32 2 8 3 32 0 8 3 24 2 8 2 56 2 8 2 24 2 8 2 16 2 8 3 48 0 8 1 16 7 56 1 8 3 16 1 8 3 32 1 8 3 16 0 8-3 8 3 96 1 8 3 40 0 24 0 8-3 32-1 8-3 72-1 8-3 104-1 8-3 112-2 8-2 128-2 8-2 112-2 8-2 40-2 8-2 40-2 8-2 32-2 8-2 24-1 8-3 16-1 8-3 16-2 8-3 16-1 24-7 16-1 24-7 32-5V3028z"/>
<path transform="matrix(0.49277 0 0 0.49277 7.62 14.26)" stroke-width="4.67" stroke-opacity="0.94" d="M1339 3028V2477l8 0 8 2 128 2 8 3 8 1 8 4 16 11 24 25 8 11 24 26 8 11 16 17 8 11 40 42 8 11 16 16 32 24 8 4 8 2 16 7 8 1 8 3 16 1 8 3 16 1 8 3 24 1 8 3 24 1 8 3 56 1 8 3 40 1 8 3 32 1 8 3 24 1 8 3 48 2 8 2 160 2 8 2 32 1 8 3 24 1 8 3 16 2 24 7 24 4 8 3 16 2 8 3 16 1 8 3 16 1 8 3 32 1 8 3 32 1 8 3 32 1 8 3 40 1 8 3 64 1 8 3 32 1 8 3 16 1 8 3 16 1 24 7 40 5 8 3 24 2 8 3 16 1 8 2 16 1 8 3 16 2 8 3 16 1 8 3 32 1 8 3 24 1 8 3 40 1 8 3 16 1 80 0 8 3 56 1 48-1 8-3 16-1 88 0 32 1 8 3 24 0 8-3 24-1 72 1 8 0 8 3 48 0 8 0 8-3 24-1 8-3 8 0 8 3 32 1 24 7 24 0 8 1 8 3 56 1 8 3 32 2 8 2 24 2 24 6 48 1 24 7 56 2 8 3 16 1 8 2 112 1 8 1 8 2 72 2 48-2 8-2 40-2 8-2 64-2 8-2 112-2 8-2 120-2 8-2 120-2 8-2 96-2 8-2 40-2 8-2 40-2 8-3 32-1 8-3 24-1 8-3 16-1 8-3 16-1 24-7 16-1 24-7 16-2 24-6 8-1V3028z"/>
<path transform="matrix(0.49353 0 0 0.49353 6.82 12.77)" stroke-width="4.66" stroke-opacity="0.94" d="M1339 3028V2477l16 0 8 2 120 2 8 3 8 1 8 4 16 12 24 24 8 11 24 26 8 11 16 17 8 11 32 34 8 10 24 25 8 5 8 8 8 5 8 6 8 4 8 2 16 7 24 4 8 3 16 2 8 2 24 2 8 3 24 1 8 3 40 1 8 3 40 1 8 3 32 1 8 3 32 1 8 3 24 1 8 3 144 1 8 3 64 1 8 3 24 1 8 3 24 1 24 7 8 1 8 3 16 2 8 3 8 1 24 6 24 2 8 3 24 1 8 2 32 2 8 2 24 2 8 2 40 2 8 3 40 1 8 3 48 1 8 3 32 1 8 3 16 1 8 3 16 1 24 7 40 5 8 3 24 2 8 2 16 1 8 3 16 1 8 3 16 1 8 3 16 2 8 2 40 2 8 3 24 1 8 2 40 2 8 2 128 2 8 2 16 1 24-1 8-2 96-2 8-2 24 0 16 0 8 3 24 1 32-2 8-2 8-1 72 1 24 3 56-1 8-2 24-1 40 1 8 2 8 1 8 3 32 2 8 3 32 1 8 2 40 2 8 3 24 1 8 3 16 1 8 3 24 1 32 0 24 7 16 1 8 3 48 1 8 3 16 1 64 1 8 2 104 2 8 2 16 0 8 0 8-2 48-2 8-3 40-1 8-3 64-1 8-3 128-1 8-3 112-1 8-3 120-1 8-3 88-1 8-3 32-1 8-3 32-1 8-3 40-2 8-2 16-1 8-3 16-1 8-3 16-2 8-2 16-2 24-6 8-1 8-3 16-2 8-3 16-1 8-3V3028z"/>
<path transform="matrix(0.49429 0 0 0.49429 6.02 11.27)" stroke-width="4.65" stroke-opacity="0.94" d="M1339 3028V2477l32 0 8 2 104 2 8 3 8 1 8 4 16 12 32 33 8 11 16 17 8 11 16 17 8 11 40 42 8 11 16 16 8 5 8 8 8 4 8 7 8 4 8 2 16 7 24 5 8 2 16 2 8 3 16 1 8 2 16 2 8 2 32 2 8 2 48 2 8 3 32 1 8 3 24 1 8 3 32 1 8 3 32 1 8 3 160 1 8 3 40 1 8 3 24 1 24 7 16 1 8 3 40 9 8 3 16 1 8 3 24 2 8 2 32 2 8 2 32 2 8 3 24 1 8 2 40 2 8 3 40 1 8 2 40 2 8 2 24 2 8 2 16 2 8 2 16 2 24 7 16 1 8 3 16 1 8 3 24 1 8 3 16 1 8 3 16 1 8 3 16 1 8 3 16 1 8 3 40 1 8 3 40 2 8 2 40 2 8 2 136 1 56-1 8-3 8 0 88-1 32 1 8 3 24 0 8-3 16-1 8-2 8 0 8 2 120 1 24-1 8-2 24-1 8 3 40 1 8 4 16 3 24 1 8 3 40 2 8 2 40 2 8 2 24 2 24 6 48 1 8 3 16 2 8 3 48 1 8 3 24 1 8 3 112 0 16 1 8 3 64 0 24-1 8-2 48-2 8-2 48-2 8-2 64-2 8-2 128-2 8-2 112-2 8-2 112-2 8-2 80-2 8-2 32-2 8-2 32-2 8-2 32-2 8-2 24-2 8-3 16-1 24-7 16-1 24-7 16-1 24-7 16-1 8-3V3028z"/>
<path transform="matrix(0.49504 0 0 0.49504 5.22 9.77)" stroke-width="4.65" stroke-opacity="0.94" d="M1339 3028V2477l40 0 8 3 96 1 8 3 8 1 8 4 16 12 24 24 8 9 8 11 16 17 8 11 16 17 8 11 40 42 8 11 24 24 16 10 8 6 8 4 32 12 16 2 24 6 40 5 8 3 32 2 8 2 32 2 8 2 40 2 8 2 32 2 8 3 24 1 8 3 24 1 8 2 112 2 8 2 88 2 8 3 32 1 8 3 16 1 24 7 8 1 8 3 16 1 8 3 8 1 24 7 16 1 8 3 24 1 8 3 40 2 8 2 24 1 8 3 40 2 8 2 24 1 8 3 48 2 8 2 40 2 8 2 16 2 8 2 16 2 40 10 24 2 24 6 24 2 8 3 24 1 24 6 16 2 8 3 24 1 8 3 40 1 8 3 48 1 8 3 40 1 232-1 24 0 8-3 24 0 16 0 8 3 32 1 16-1 8-3 16-1 96 1 88-1 40 1 8 3 16 1 8 3 24 1 8 3 16 1 8 3 32 1 8 3 40 1 8 3 24 1 8 3 32 2 8 2 32 2 8 3 24 1 8 2 40 1 8 3 128 2 8 2 80 1 40-1 8-2 40-2 8-2 56-2 8-3 88-1 8-2 112-2 8-2 112-2 8-2 112-2 8-3 56-1 8-3 40-1 8-3 32-1 8-3 32-1 8-3 16-1 8-3 16-1 8-3 16-1 24-7 16-1 40-11 24-2V3028z"/>
<path transform="matrix(0.49580 0 0 0.49580 4.42 8.27)" stroke-width="4.64" stroke-opacity="0.94" d="M1339 3028V2477l48 1 8 2 88 1 8 3 8 2 8 3 16 12 24 25 8 10 24 26 8 11 16 17 8 11 32 34 8 10 32 33 8 5 8 7 24 12 8 2 16 6 8 1 8 3 8 1 8 3 16 1 8 3 24 2 8 2 16 1 8 3 40 2 8 2 40 2 8 2 32 2 8 2 24 2 8 3 24 1 8 3 32 1 8 2 152 2 8 2 32 2 8 2 24 2 8 2 16 2 24 7 8 0 8 4 8 0 8 3 16 2 24 7 24 1 8 3 32 1 8 3 32 1 8 3 24 1 8 3 40 1 8 3 32 1 8 3 40 1 8 3 32 1 8 3 16 1 24 7 16 2 24 6 16 1 8 3 16 1 8 3 24 2 8 2 16 1 8 3 16 2 8 3 16 1 8 3 32 1 8 2 40 2 8 2 56 2 8 2 16 1 168-1 24-3 96 0 48 1 8 2 8-2 24-2 8-2 16 0 8 2 8-2 8 2 56 1 72-1 8-2 8 0 8 2 48 2 24 6 24 2 8 3 40 1 8 3 32 1 8 2 24 2 8 3 24 1 8 3 40 1 8 3 16 1 8 3 48 1 8 3 32 1 72 0 8 3 120 1 56-1 8-3 40-1 8-3 48-1 8-3 96-1 8-3 120-2 8-2 104-1 8-3 112-2 8-2 48-1 8-3 32-1 8-3 40-2 8-2 24-1 8-3 24-2 24-6 16-2 8-2 16-2 40-10 16-2 8-3 16-1V3028z"/>
<path transform="matrix(0.49656 0 0 0.49656 3.62 6.78)" stroke-width="4.63" stroke-opacity="0.94" d="M1339 3028V2477l56 1 8 2 80 2 8 3 8 1 8 4 16 11 24 25 8 11 16 17 8 11 24 26 8 10 24 26 8 10 40 41 8 5 8 7 16 9 16 7 8 1 16 7 16 1 8 3 16 2 8 2 16 1 8 3 16 1 8 3 40 2 8 2 40 1 8 3 32 1 8 3 24 1 8 3 24 2 8 2 32 2 8 2 112 2 8 2 64 2 8 2 32 2 8 2 16 2 24 6 16 2 8 3 8 1 8 3 8 1 24 7 16 1 8 3 24 1 8 2 32 2 8 2 32 2 8 3 40 1 8 3 24 1 8 2 40 2 8 2 40 2 8 3 16 1 8 3 16 1 24 7 16 1 8 3 16 1 8 3 16 1 8 3 16 1 8 3 16 1 8 3 16 1 8 3 16 1 8 3 16 1 8 3 48 2 8 2 40 2 8 2 48 1 176 0 24-1 8-2 8 0 8 2 16 0 8-2 40-1 32 1 8 2 24 1 16-1 8-2 16-1 80 0 8 3 8 0 8 0 8-2 88 0 8 2 40 1 8 3 24 2 8 2 32 2 8 2 16 1 8 3 40 1 8 3 24 1 8 3 40 2 8 2 24 2 8 2 40 2 8 2 40 2 8 2 168 2 8 2 24 0 8-2 64-2 8-2 32-2 8-2 56-2 8-2 104-2 8-2 112-2 8-2 112-2 8-2 104-2 8-2 40-2 8-2 32-2 8-2 32-2 8-2 32-2 8-3 16-1 8-3 16-1 24-7 16-1 24-7 16-1 24-7 16-1V3028z"/>
<path transform="matrix(0.49732 0 0 0.49732 2.82 5.28)" stroke-width="4.62" stroke-opacity="0.94" d="M1339 3028V2477l64 1 8 2 72 2 8 3 8 1 8 4 16 12 24 24 8 11 16 17 8 11 16 17 8 11 32 34 8 10 48 49 24 13 24 11 24 5 8 3 16 1 8 3 16 1 8 3 16 1 8 3 40 1 8 3 48 1 8 3 32 1 8 3 24 1 8 3 24 1 8 3 24 1 8 3 80 2 8 2 96 2 8 2 32 2 8 2 16 1 8 3 16 2 24 6 8 1 8 3 8 1 8 3 8 1 8 3 16 2 8 2 24 2 8 2 32 2 8 2 24 2 8 2 32 2 8 2 40 2 8 3 32 1 8 2 32 2 8 2 32 2 8 2 16 2 24 6 16 2 24 6 16 2 8 2 16 2 8 3 16 1 8 2 24 2 24 7 16 1 8 3 32 1 8 2 40 2 8 3 56 1 8 3 16 0 80 0 8-3 192-1 72 1 40-1 176 0 56 1 8 3 24 1 8 3 24 1 8 3 32 1 8 3 8 0 32 1 8 3 24 1 8 3 32 1 8 3 24 1 8 3 40 1 8 3 40 1 8 3 144 1 8 0 8 3 56 0 24 0 8-3 48-1 8-3 40-1 8-3 56-1 8-3 112-1 8-3 112-1 8-3 104-1 8-3 96-1 8-3 40-1 8-3 32-1 8-3 32-1 8-3 24-1 8-3 16-1 8-3 16-1 8-3 16-2 8-2 24-5 8-3 16-1 24-7 16-1V3028z"/>
<path transform="matrix(0.49808 0 0 0.49808 2.02 3.78)" stroke-width="4.62" stroke-opacity="0.94" d="M1339 3028V2478l80 0 8 3 56 1 8 3 8 1 16 8 32 32 8 11 16 17 8 11 16 17 8 11 24 26 8 10 32 34 24 23 16 9 8 6 8 2 24 11 8 1 8 3 16 1 8 3 16 1 8 3 24 1 8 3 32 1 8 3 56 1 8 3 32 1 8 3 24 1 8 3 24 1 8 3 24 1 8 3 72 1 8 3 88 1 8 3 40 1 8 3 24 1 24 7 16 2 8 3 8 0 8 3 8 1 8 3 8 1 24 7 24 1 8 3 32 2 8 2 24 1 8 3 32 2 8 2 32 1 8 3 32 1 8 3 40 2 8 2 32 2 8 2 16 1 8 3 16 2 8 3 8 1 24 6 16 1 8 3 16 2 8 2 16 2 8 2 16 1 8 3 16 2 8 2 16 2 8 2 24 2 8 2 40 2 8 2 40 2 8 2 48 1 176-1 8-2 88-1 320 1 8 2 40 2 8 2 32 2 8 2 32 2 8 2 24 2 8 2 40 2 8 3 24 1 8 2 32 2 8 2 32 2 8 2 40 2 8 2 128 2 8 2 96 1 40-1 8-2 40-1 8-3 48-2 8-2 64-2 8-2 112-2 8-2 104-2 8-2 104-2 8-2 88-2 8-2 32-2 8-2 32-1 8-3 40-2 8-2 24-2 8-2 16-2 24-6 16-2 24-6 16-2 24-6 32-5V3028z"/>
<path transform="matrix(0.49884 0 0 0.49884 1.22 2.28)" stroke-width="4.61" stroke-opacity="0.94" d="M1339 3028V2478l88 1 8 2 48 1 8 3 8 1 16 9 32 31 8 11 16 17 8 11 16 18 8 10 24 26 8 10 32 34 24 23 8 5 8 7 16 8 8 1 16 7 8 1 8 3 16 1 8 3 16 1 8 3 16 1 8 3 32 1 8 2 64 2 8 3 32 1 8 3 24 1 8 3 24 1 8 3 24 1 8 3 56 1 8 3 96 1 8 3 40 1 8 3 24 1 8 3 16 1 24 7 8 1 8 3 8 1 8 3 16 1 24 7 24 1 8 3 24 1 8 3 32 1 8 3 24 1 8 3 32 1 8 3 32 1 8 3 32 1 8 3 40 1 8 3 16 1 8 3 16 1 24 7 16 1 8 3 16 1 24 7 16 1 8 3 16 1 8 3 16 1 8 3 16 1 8 3 16 1 8 3 48 2 8 2 32 1 8 3 64 1 216-1 8-2 40-1 56 1 8 2 24 0 16 0 8-2 16-1 64 0 8 3 24 0 32 0 8-2 40-1 8 3 56 1 8 3 32 2 8 2 32 1 8 3 24 1 8 3 40 1 8 3 32 2 8 2 24 1 8 3 32 1 8 3 40 1 8 3 112 2 8 2 120 1 56-1 8-3 40-1 8-3 40-1 8-3 80-1 8-2 104-2 8-2 104-2 8-2 104-2 8-3 80-1 8-3 32-1 8-3 32-1 8-3 32-1 8-3 24-1 8-3 16-1 8-3 16-1 24-7 16-1 40-11 32-4V3028z"/>
<path transform="matrix(0.49960 0 0 0.49960 0.42 0.79)" stroke-width="4.60" stroke-opacity="0.94" d="M1339 3028V2478l96 1 8 2 40 1 16 4 16 9 32 31 8 11 16 18 8 10 16 18 8 11 16 17 8 10 40 42 8 10 8 6 8 7 8 5 8 7 8 4 16 7 24 6 8 3 8 1 8 2 16 2 8 2 24 2 8 3 32 1 8 2 56 2 8 2 40 2 8 2 24 2 8 2 24 2 8 2 24 2 8 2 56 2 8 2 88 2 8 2 48 2 8 3 24 1 8 3 16 1 24 7 8 1 8 3 8 0 8 3 8 1 8 3 16 2 8 3 16 1 8 2 32 2 8 3 24 1 8 2 24 2 8 2 40 2 8 3 24 1 8 2 32 2 8 2 40 2 8 3 24 1 24 6 16 2 24 7 16 1 8 3 16 1 8 3 16 1 8 3 16 1 8 3 16 1 8 3 16 1 8 3 16 1 8 3 32 1 8 2 40 2 8 3 56 1 8 2 8 0 8 0 8-2 232-2 8-2 8 0 32 0 8 2 24 1 224 0 64 1 8 2 40 2 8 3 32 1 8 2 24 2 8 3 48 1 8 3 24 1 8 3 24 1 8 3 32 1 8 3 40 1 8 3 112 1 8 3 8 0 128 1 56-2 8-2 40-2 8-2 40-2 8-2 88-2 8-2 104-2 8-2 96-1 8-3 104-1 8-3 72-1 8-3 40-2 8-2 32-2 8-2 32-2 8-2 16-1 8-3 16-1 8-3 16-1 24-7 16-1 24-7 16-2 24-6 8 0V3028z"/>
<path transform="matrix(0.50036 0 0 0.50036 -0.38 -0.71)" stroke-width="4.60" stroke-opacity="0.94" d="M1339 3028V2478l104 1 8 2 32 1 16 4 16 9 32 32 8 10 16 18 8 11 16 17 8 11 16 17 8 10 32 34 8 10 8 8 8 6 16 14 16 9 16 7 24 6 8 3 8 1 8 2 16 2 8 2 24 2 8 2 32 2 8 2 56 2 8 2 40 2 8 2 24 2 8 2 24 2 8 2 24 2 8 2 48 2 8 2 96 2 8 2 40 2 8 2 32 2 8 3 16 1 24 7 8 0 8 3 8 1 8 3 8 1 8 3 16 2 8 2 16 1 8 3 32 2 8 2 24 2 8 2 24 1 8 3 40 2 8 2 24 2 8 2 32 2 8 2 32 2 8 2 24 1 8 3 16 1 24 7 16 2 8 3 16 1 24 6 16 1 8 3 16 1 8 3 16 1 8 3 16 1 8 3 24 2 8 2 32 2 8 2 32 2 8 2 56 2 8 2 16 0 56 0 8-2 24 0 8 2 8 0 8-2 152-2 328 1 16 1 8 2 40 2 8 2 40 2 8 2 24 2 8 2 40 1 8 3 32 2 8 2 24 2 8 2 32 2 8 2 40 2 8 2 80 2 8 2 136 2 8 2 24 0 8-2 48-2 8-2 40-2 8-2 48-2 8-2 88-2 8-2 104-2 8-2 104-2 8-2 104-2 8-2 64-2 8-2 32-2 8-2 32-2 8-2 32-2 8-2 24-2 24-6 40-6 40-10 16-2 24-6 8-1V3028z"/>
</g></g>
<line x1="552.0" y1="989.5" x2="2849.0" y2="989.5" stroke="#555" stroke-width="2" />
<line x1="552.0" y1="989.0" x2="552.0" y2="1513.0" stroke="#333" stroke-width="2.5" />
<line x1="552.0" y1="1513.5" x2="2849.0" y2="1513.5" stroke="#c8c8c8" stroke-width="3" />
<line x1="2849.0" y1="989.0" x2="2849.0" y2="1515.0" stroke="#c2c2c2" stroke-width="2.5" />
<rect x="522.2" y="1520.0" width="57.4" height="31.4" fill="#fff" stroke="#0000ee" stroke-width="2.2" />
<rect x="1183.0" y="990.8" width="1029.5" height="34.5" fill="#fff" stroke="#d0d0d0" stroke-width="1.5" />
<rect x="553.5" y="991" width="47" height="90" fill="#f4f4f4" opacity="0.85"/>
<rect x="2749" y="1465.5" width="99" height="47" fill="#f8f8f8" opacity="0.9"/>
<circle cx="578.3" cy="1015.8" r="11" fill="none" stroke="#222" stroke-width="2.2"/><path d="M567.3 1015.8H589.3M578.3 1004.8V1026.8" stroke="#222" stroke-width="2.2" fill="none"/>
<circle cx="578.3" cy="1060.3" r="11" fill="none" stroke="#222" stroke-width="2.2"/><path d="M567.3 1060.3H589.3" stroke="#222" stroke-width="2.2" fill="none"/>
<circle cx="2820.6" cy="1015.8" r="11" fill="none" stroke="#222" stroke-width="2.2"/><path d="M2809.6 1015.8H2831.6M2820.6 1004.8V1026.8" stroke="#222" stroke-width="2.2" fill="none"/>
<circle cx="2820.6" cy="1060.3" r="11" fill="none" stroke="#222" stroke-width="2.2"/><path d="M2809.6 1060.3H2831.6" stroke="#222" stroke-width="2.2" fill="none"/>
<circle cx="2772.5" cy="1488.5" r="11" fill="none" stroke="#222" stroke-width="2.2"/><path d="M2761.5 1488.5H2783.5" stroke="#222" stroke-width="2.2" fill="none"/>
<circle cx="2820.6" cy="1488.5" r="11" fill="none" stroke="#222" stroke-width="2.2"/><path d="M2809.6 1488.5H2831.6M2820.6 1477.5V1499.5" stroke="#222" stroke-width="2.2" fill="none"/>
<rect x="552.5" y="1074.5" width="15.0" height="23.6" fill="#ffffff" stroke="#c6c6c6" stroke-width="1.5" fill-opacity="0.3"/>
<text x="553.8" y="1094.1" font-family="'Liberation Sans', sans-serif" font-size="17.5" fill="#484848" text-anchor="start" clip-path="url(#wfclip)">0</text>
<rect x="552.5" y="1106.6" width="39.8" height="27.1" fill="#ffffff" stroke="#c6c6c6" stroke-width="1.5" fill-opacity="0.3"/>
<text x="554.8" y="1128.9" font-family="'Liberation Sans', sans-serif" font-size="20.1" fill="#484848" text-anchor="start" clip-path="url(#wfclip)">100</text>
<rect x="552.5" y="1141.9" width="42.3" height="28.8" fill="#ffffff" stroke="#c6c6c6" stroke-width="1.5" fill-opacity="0.3"/>
<text x="555.3" y="1165.5" font-family="'Liberation Sans', sans-serif" font-size="21.3" fill="#484848" text-anchor="start" clip-path="url(#wfclip)">200</text>
<rect x="552.5" y="1180.6" width="44.8" height="30.4" fill="#ffffff" stroke="#c6c6c6" stroke-width="1.5" fill-opacity="0.3"/>
<text x="555.8" y="1205.4" font-family="'Liberation Sans', sans-serif" font-size="22.5" fill="#484848" text-anchor="start" clip-path="url(#wfclip)">300</text>
<rect x="552.5" y="1219.3" width="47.2" height="31.9" fill="#ffffff" stroke="#c6c6c6" stroke-width="1.5" fill-opacity="0.3"/>
<text x="556.3" y="1245.2" font-family="'Liberation Sans', sans-serif" font-size="23.6" fill="#484848" text-anchor="start" clip-path="url(#wfclip)">400</text>
<rect x="552.5" y="1259.8" width="49.3" height="33.2" fill="#ffffff" stroke="#c6c6c6" stroke-width="1.5" fill-opacity="0.3"/>
<text x="556.8" y="1286.8" font-family="'Liberation Sans', sans-serif" font-size="24.6" fill="#484848" text-anchor="start" clip-path="url(#wfclip)">500</text>
<rect x="2411.1" y="1074.2" width="20.7" height="23.6" fill="#ffffff" stroke="#c6c6c6" stroke-width="1.5" fill-opacity="0.45"/>
<rect x="2470.7" y="1106.1" width="44.5" height="27.1" fill="#ffffff" stroke="#c6c6c6" stroke-width="1.5" fill-opacity="0.45"/>
<rect x="2551.2" y="1141.6" width="46.5" height="28.8" fill="#ffffff" stroke="#c6c6c6" stroke-width="1.5" fill-opacity="0.45"/>
<rect x="2633.2" y="1180.1" width="48.5" height="30.4" fill="#ffffff" stroke="#c6c6c6" stroke-width="1.5" fill-opacity="0.45"/>
<rect x="2713.8" y="1218.9" width="50.4" height="31.9" fill="#ffffff" stroke="#c6c6c6" stroke-width="1.5" fill-opacity="0.45"/>
<rect x="2796.5" y="1259.8" width="51.5" height="33.2" fill="#ffffff" stroke="#c6c6c6" stroke-width="1.5" fill-opacity="0.45"/>
<rect x="557.0" y="1468.0" width="124.5" height="42.0" fill="url(#btn)" stroke="#c6c6c6" stroke-width="1.5" rx="7" />
<rect x="576.0" y="1564.0" width="2248.0" height="23.7" fill="#fff" />
<rect x="1120.0" y="1568.4" width="1605.7" height="15.3" fill="#d5d5d5" rx="7.6" />
<path d="M558.5 1576 L568 1567.5 L568 1584.5 Z" fill="#6e6e6e"/>
<path d="M2841.5 1576 L2832 1567.5 L2832 1584.5 Z" fill="#6e6e6e"/>
<rect x="432.3" y="1014.0" width="23.6" height="476.0" fill="#fff" />
<rect x="436.5" y="1132.0" width="15.2" height="59.5" fill="#d5d5d5" rx="7.6" />
<path d="M444.1 997 L452.6 1006 L435.6 1006 Z" fill="#6e6e6e"/>
<path d="M444.1 1507.5 L452.6 1498.5 L435.6 1498.5 Z" fill="#6e6e6e"/>
<rect x="2964.2" y="1014.0" width="23.6" height="476.0" fill="#fff" />
<rect x="2968.4" y="1450.3" width="15.2" height="35.7" fill="#d5d5d5" rx="7.6" />
<path d="M2976.0 997 L2984.5 1006 L2967.5 1006 Z" fill="#6e6e6e"/>
<path d="M2976.0 1507.5 L2984.5 1498.5 L2967.5 1498.5 Z" fill="#6e6e6e"/>
<rect x="864.5" y="1597.0" width="1690.0" height="61.0" fill="#fff" stroke="#d4d4d4" stroke-width="1.5" />
<rect x="881.0" y="1611.0" width="26.5" height="26.5" fill="#fff" stroke="#1a73ff" stroke-width="2.4" rx="5.5" />
<path d="M886.5 1624.5 L892.5 1631.5 L902.5 1616" fill="none" stroke="#1a73ff" stroke-width="3" stroke-linecap="round" stroke-linejoin="round"/>
<line x1="1316.4" y1="1626.0" x2="1419.8" y2="1626.0" stroke="#1c8a2c" stroke-width="4" stroke-linecap="round"/>
<rect x="1717.0" y="1611.0" width="26.5" height="26.5" fill="#fafafa" stroke="#b8b8b8" stroke-width="2.2" rx="5.5" />
<path d="M1722.5 1624.5 L1728.5 1631.5 L1738.5 1616" fill="none" stroke="#8c8c8c" stroke-width="3" stroke-linecap="round" stroke-linejoin="round"/>
<defs>
<linearGradient id="flp" x1="0" y1="0" x2="1" y2="1"><stop offset="0" stop-color="#6a6a6a"/><stop offset="0.5" stop-color="#3c3c3c"/><stop offset="1" stop-color="#2a2a2a"/></linearGradient>
<linearGradient id="flab" x1="0" y1="0" x2="0" y2="1"><stop offset="0" stop-color="#fdfeff"/><stop offset="1" stop-color="#cfdcea"/></linearGradient>
<linearGradient id="fmet" x1="0" y1="0" x2="1" y2="0"><stop offset="0" stop-color="#8a8a8a"/><stop offset="0.5" stop-color="#e0e0e0"/><stop offset="1" stop-color="#7a7a7a"/></linearGradient>
<linearGradient id="fold1" x1="0" y1="0" x2="0" y2="1"><stop offset="0" stop-color="#8db4ea"/><stop offset="1" stop-color="#5a8edc"/></linearGradient>
<linearGradient id="fold2" x1="0" y1="0" x2="0" y2="1"><stop offset="0" stop-color="#3f7fd8"/><stop offset="0.25" stop-color="#5d9ae6"/><stop offset="0.7" stop-color="#9ccbf8"/><stop offset="1" stop-color="#a8d4fb"/></linearGradient>
<radialGradient id="infob" cx="0.5" cy="0.25" r="0.8"><stop offset="0" stop-color="#2f9af5"/><stop offset="0.6" stop-color="#0a6fd8"/><stop offset="1" stop-color="#0a50b0"/></radialGradient>
<linearGradient id="infoh" x1="0" y1="0" x2="0" y2="1"><stop offset="0" stop-color="#ffffff" stop-opacity="0.55"/><stop offset="1" stop-color="#ffffff" stop-opacity="0.05"/></linearGradient>
<radialGradient id="redb" cx="0.5" cy="0.3" r="0.75"><stop offset="0" stop-color="#f04a38"/><stop offset="0.6" stop-color="#d41c10"/><stop offset="1" stop-color="#a01008"/></radialGradient>
<linearGradient id="lvl" x1="0" y1="0" x2="0" y2="1"><stop offset="0" stop-color="#ff0000"/><stop offset="0.22" stop-color="#f01000"/><stop offset="0.55" stop-color="#808020"/><stop offset="0.8" stop-color="#10b010"/><stop offset="1" stop-color="#00c000"/></linearGradient>
<linearGradient id="wr" x1="0" y1="0" x2="1" y2="1"><stop offset="0" stop-color="#f4f4f4"/><stop offset="0.5" stop-color="#a0a0a0"/><stop offset="1" stop-color="#6a6a6a"/></linearGradient>
<linearGradient id="gear" x1="0" y1="0" x2="0" y2="1"><stop offset="0" stop-color="#e6e6ea"/><stop offset="0.5" stop-color="#b8b8c2"/><stop offset="1" stop-color="#8c8c98"/></linearGradient>
<linearGradient id="cam" x1="0" y1="0" x2="0" y2="1"><stop offset="0" stop-color="#fbfbfb"/><stop offset="0.6" stop-color="#e6e6e6"/><stop offset="1" stop-color="#c4c4c4"/></linearGradient>
<radialGradient id="lens" cx="0.5" cy="0.5" r="0.5"><stop offset="0" stop-color="#101030"/><stop offset="0.25" stop-color="#303050"/><stop offset="0.4" stop-color="#909090"/><stop offset="0.6" stop-color="#d8d8d8"/><stop offset="0.8" stop-color="#a0a0a0"/><stop offset="1" stop-color="#c8c8c8"/></radialGradient>
</defs>
<g transform="translate(156 142)" ><path d="M0.7 8.5 H37 L42.5 0.7 H63.3 V63.3 H0.7 Z" fill="#fff" stroke="#8a8a8a" stroke-width="1.4"/><rect x="2.8" y="10.5" width="29.5" height="21" fill="#fff" stroke="#b8b8b8" stroke-width="1"/><path d="M3.5 18.8 L4.2 17.2 L4.9 15.8 L5.6 14.7 L6.2 13.9 L6.9 13.5 L7.6 13.6 L8.3 14.0 L9.0 14.9 L9.7 16.0 L10.4 17.5 L11.1 19.1 L11.8 20.9 L12.4 22.6 L13.1 24.3 L13.8 25.8 L14.5 27.0 L15.2 27.9 L15.9 28.4 L16.6 28.5 L17.2 28.2 L17.9 27.4 L18.6 26.4 L19.3 25.0 L20.0 23.4 L20.7 21.7 L21.4 19.9 L22.1 18.2 L22.8 16.7 L23.4 15.4 L24.1 14.4 L24.8 13.7 L25.5 13.5 L26.2 13.7 L26.9 14.3 L27.6 15.2 L28.2 16.5 L28.9 18.0 L29.6 19.7 L30.3 21.5 L31.0 23.2" fill="none" stroke="#cc1010" stroke-width="1.5"/><path d="M42 6h9" stroke="#777" stroke-width="1.6" stroke-dasharray="3 1 5 1 2 1" fill="none"/><path d="M37.5 14h9" stroke="#777" stroke-width="1.6" stroke-dasharray="3 1 5 1 2 1" fill="none"/><path d="M37.5 21h9" stroke="#777" stroke-width="1.6" stroke-dasharray="3 1 5 1 2 1" fill="none"/><path d="M37.5 28h12" stroke="#777" stroke-width="1.6" stroke-dasharray="3 1 5 1 2 1" fill="none"/><circle cx="58.5" cy="5.5" r="3.6" fill="#d01818"/><path d="M56.5 3.5l4 4m0 -4l-4 4" stroke="#fff" stroke-width="1.2"/><rect x="55.0" y="10.5" width="7" height="6.5" fill="#333"/><path d="M55.5 16.5l6 -6" stroke="#f0c020" stroke-width="1.6"/><path d="M56.0 23.0l5 -5" stroke="#333" stroke-width="1.2"/><path d="M54.5 24.5h8" stroke="#c01010" stroke-width="1.4"/><path d="M55.5 27.5h7M55.5 30.0h6M55.5 32.5h4" stroke="#777" stroke-width="0.9"/><rect x="2.8" y="33.5" width="58.5" height="27.5" fill="#fff" stroke="#b0b0b0" stroke-width="1"/><path d="M4.5 37h17" stroke="#444" stroke-width="1.6" stroke-dasharray="3 1 5 1 2 1" fill="none"/><path d="M4.5 42h25" stroke="#444" stroke-width="1.6" stroke-dasharray="3 1 5 1 2 1" fill="none"/><path d="M4.5 47h38" stroke="#444" stroke-width="1.6" stroke-dasharray="3 1 5 1 2 1" fill="none"/><path d="M32.3 1.2L32.3 22.2M39.7 4.3L24.9 19.1M42.8 11.7L21.8 11.7M39.7 19.1L24.9 4.3" stroke="#f0b400" stroke-width="4.2" stroke-linecap="round"/><path d="M32.3 1.2L32.3 22.2M39.7 4.3L24.9 19.1M42.8 11.7L21.8 11.7M39.7 19.1L24.9 4.3" stroke="#ffee00" stroke-width="2.2" stroke-linecap="round"/></g>
<g transform="translate(274 150)" ><path d="M5 7 Q5 3 9 3 H16 L20.5 7.5 H55 Q59 7.5 59 11 V26 H5 Z" fill="url(#fold1)" stroke="#3a72cc" stroke-width="1.2"/><path d="M1 23.5 Q0.5 20.5 4 20.5 H60 Q63.5 20.5 63 23.5 L61.5 47 Q61.3 50 58 50 H6 Q2.7 50 2.5 47 Z" fill="url(#fold2)" stroke="#2f68c4" stroke-width="1.4"/><path d="M4 51.5 H60" stroke="#00000030" stroke-width="2"/></g>
<g transform="translate(388 142)" ><path d="M0.7 8.5 H30 L38 0.7 H63.3 V63.3 H0.7 Z" fill="#d4d4d4" stroke="#8a8a8a" stroke-width="1.4"/><rect x="2.5" y="10.5" width="29.5" height="22.5" fill="#d8d8d8" stroke="#b0b0b0" stroke-width="1"/><path d="M3.0 18.8 L3.7 17.2 L4.4 15.8 L5.1 14.7 L5.8 13.9 L6.5 13.5 L7.2 13.6 L7.9 14.0 L8.6 14.9 L9.3 16.0 L10.0 17.5 L10.7 19.1 L11.4 20.9 L12.1 22.6 L12.8 24.3 L13.5 25.8 L14.2 27.0 L14.9 27.9 L15.6 28.4 L16.3 28.5 L17.0 28.2 L17.7 27.4 L18.4 26.4 L19.1 25.0 L19.8 23.4 L20.5 21.7 L21.2 19.9 L21.9 18.2 L22.6 16.7 L23.3 15.4 L24.0 14.4 L24.7 13.7 L25.4 13.5 L26.1 13.7 L26.8 14.3 L27.5 15.2 L28.2 16.5 L28.9 18.0 L29.6 19.7 L30.3 21.5 L31.0 23.2" fill="none" stroke="#cc1010" stroke-width="1.5"/><path d="M42 6h9" stroke="#777" stroke-width="1.6" stroke-dasharray="3 1 5 1 2 1" fill="none"/><path d="M37.5 14h9" stroke="#777" stroke-width="1.6" stroke-dasharray="3 1 5 1 2 1" fill="none"/><path d="M37.5 21h9" stroke="#777" stroke-width="1.6" stroke-dasharray="3 1 5 1 2 1" fill="none"/><circle cx="58.5" cy="5.5" r="3.6" fill="#d01818"/><path d="M56.5 3.5l4 4m0 -4l-4 4" stroke="#fff" stroke-width="1.2"/><rect x="55.0" y="10.5" width="7" height="6.5" fill="#333"/><path d="M55.5 16.5l6 -6" stroke="#f0c020" stroke-width="1.6"/><path d="M56.0 23.0l5 -5" stroke="#333" stroke-width="1.2"/><path d="M54.5 24.5h8" stroke="#c01010" stroke-width="1.4"/><path d="M55.5 27.5h7M55.5 30.0h6M55.5 32.5h4" stroke="#777" stroke-width="0.9"/><path d="M0.7 33.5 H33 L38 26 H63.3 V63.3 H0.7 Z" fill="#fff" stroke="#8a8a8a" stroke-width="1.2"/><rect x="2.5" y="36" width="29.5" height="21" fill="#fff" stroke="#b8b8b8" stroke-width="1"/><path d="M3.0 43.8 L3.7 42.2 L4.4 40.8 L5.1 39.7 L5.8 38.9 L6.5 38.5 L7.2 38.6 L7.9 39.0 L8.6 39.9 L9.3 41.0 L10.0 42.5 L10.7 44.1 L11.4 45.9 L12.1 47.6 L12.8 49.3 L13.5 50.8 L14.2 52.0 L14.9 52.9 L15.6 53.4 L16.3 53.5 L17.0 53.2 L17.7 52.4 L18.4 51.4 L19.1 50.0 L19.8 48.4 L20.5 46.7 L21.2 44.9 L21.9 43.2 L22.6 41.7 L23.3 40.4 L24.0 39.4 L24.7 38.7 L25.4 38.5 L26.1 38.7 L26.8 39.3 L27.5 40.2 L28.2 41.5 L28.9 43.0 L29.6 44.7 L30.3 46.5 L31.0 48.2" fill="none" stroke="#10a020" stroke-width="1.5"/><circle cx="58.5" cy="31" r="3.6" fill="#d01818"/><path d="M56.5 29l4 4m0 -4l-4 4" stroke="#fff" stroke-width="1.2"/><rect x="55.0" y="36" width="7" height="6.5" fill="#333"/><path d="M55.5 42l6 -6" stroke="#f0c020" stroke-width="1.6"/><path d="M56.0 48.5l5 -5" stroke="#333" stroke-width="1.2"/><path d="M54.5 50h8" stroke="#c01010" stroke-width="1.4"/><path d="M55.5 53h7M55.5 55.5h6M55.5 58h4" stroke="#777" stroke-width="0.9"/><path d="M37.5 52h12" stroke="#777" stroke-width="1.6" stroke-dasharray="3 1 5 1 2 1" fill="none"/><rect x="2.5" y="59" width="58.5" height="5" fill="#fff" stroke="#b0b0b0" stroke-width="1"/><path d="M4.5 62h14" stroke="#444" stroke-width="1.6" stroke-dasharray="3 1 5 1 2 1" fill="none"/><path d="M18.5 20.0 Q18.5 18.5 20.0 18.5 H58.0 Q59.5 18.5 59.5 20.0 V59.5 Q59.5 61.0 58.0 61.0 H21.5 L18.5 58.0 Z" fill="url(#flp)" stroke="#2a2a2a" stroke-width="1"/><rect x="24.5" y="19.0" width="30" height="20.0" fill="url(#flab)" stroke="#9ab" stroke-width="0.6"/><path d="M26.5 22.5h26" stroke="#b8c8d8" stroke-width="1.2"/><path d="M26.5 27.5h26" stroke="#b8c8d8" stroke-width="1.2"/><path d="M26.5 32.5h26" stroke="#b8c8d8" stroke-width="1.2"/><rect x="27.5" y="46.5" width="25" height="14.0" fill="url(#fmet)" stroke="#555" stroke-width="0.6"/><rect x="30.5" y="49.1" width="5.5" height="9.3" fill="#222"/></g>
<g transform="translate(534 142)" ><path d="M0.7 8.5 H30 L38 0.7 H63.3 V63.3 H0.7 Z" fill="#d4d4d4" stroke="#8a8a8a" stroke-width="1.4"/><rect x="2.5" y="10.5" width="29.5" height="22.5" fill="#d8d8d8" stroke="#b0b0b0" stroke-width="1"/><path d="M3.0 18.8 L3.7 17.2 L4.4 15.8 L5.1 14.7 L5.8 13.9 L6.5 13.5 L7.2 13.6 L7.9 14.0 L8.6 14.9 L9.3 16.0 L10.0 17.5 L10.7 19.1 L11.4 20.9 L12.1 22.6 L12.8 24.3 L13.5 25.8 L14.2 27.0 L14.9 27.9 L15.6 28.4 L16.3 28.5 L17.0 28.2 L17.7 27.4 L18.4 26.4 L19.1 25.0 L19.8 23.4 L20.5 21.7 L21.2 19.9 L21.9 18.2 L22.6 16.7 L23.3 15.4 L24.0 14.4 L24.7 13.7 L25.4 13.5 L26.1 13.7 L26.8 14.3 L27.5 15.2 L28.2 16.5 L28.9 18.0 L29.6 19.7 L30.3 21.5 L31.0 23.2" fill="none" stroke="#cc1010" stroke-width="1.5"/><path d="M42 6h9" stroke="#777" stroke-width="1.6" stroke-dasharray="3 1 5 1 2 1" fill="none"/><path d="M37.5 14h9" stroke="#777" stroke-width="1.6" stroke-dasharray="3 1 5 1 2 1" fill="none"/><path d="M37.5 21h9" stroke="#777" stroke-width="1.6" stroke-dasharray="3 1 5 1 2 1" fill="none"/><circle cx="58.5" cy="5.5" r="3.6" fill="#d01818"/><path d="M56.5 3.5l4 4m0 -4l-4 4" stroke="#fff" stroke-width="1.2"/><rect x="55.0" y="10.5" width="7" height="6.5" fill="#333"/><path d="M55.5 16.5l6 -6" stroke="#f0c020" stroke-width="1.6"/><path d="M56.0 23.0l5 -5" stroke="#333" stroke-width="1.2"/><path d="M54.5 24.5h8" stroke="#c01010" stroke-width="1.4"/><path d="M55.5 27.5h7M55.5 30.0h6M55.5 32.5h4" stroke="#777" stroke-width="0.9"/><path d="M0.7 33.5 H33 L38 26 H63.3 V63.3 H0.7 Z" fill="#fff" stroke="#8a8a8a" stroke-width="1.2"/><rect x="2.5" y="36" width="29.5" height="21" fill="#fff" stroke="#b8b8b8" stroke-width="1"/><path d="M3.0 43.8 L3.7 42.2 L4.4 40.8 L5.1 39.7 L5.8 38.9 L6.5 38.5 L7.2 38.6 L7.9 39.0 L8.6 39.9 L9.3 41.0 L10.0 42.5 L10.7 44.1 L11.4 45.9 L12.1 47.6 L12.8 49.3 L13.5 50.8 L14.2 52.0 L14.9 52.9 L15.6 53.4 L16.3 53.5 L17.0 53.2 L17.7 52.4 L18.4 51.4 L19.1 50.0 L19.8 48.4 L20.5 46.7 L21.2 44.9 L21.9 43.2 L22.6 41.7 L23.3 40.4 L24.0 39.4 L24.7 38.7 L25.4 38.5 L26.1 38.7 L26.8 39.3 L27.5 40.2 L28.2 41.5 L28.9 43.0 L29.6 44.7 L30.3 46.5 L31.0 48.2" fill="none" stroke="#10a020" stroke-width="1.5"/><circle cx="58.5" cy="31" r="3.6" fill="#d01818"/><path d="M56.5 29l4 4m0 -4l-4 4" stroke="#fff" stroke-width="1.2"/><rect x="55.0" y="36" width="7" height="6.5" fill="#333"/><path d="M55.5 42l6 -6" stroke="#f0c020" stroke-width="1.6"/><path d="M56.0 48.5l5 -5" stroke="#333" stroke-width="1.2"/><path d="M54.5 50h8" stroke="#c01010" stroke-width="1.4"/><path d="M55.5 53h7M55.5 55.5h6M55.5 58h4" stroke="#777" stroke-width="0.9"/><path d="M37.5 52h12" stroke="#777" stroke-width="1.6" stroke-dasharray="3 1 5 1 2 1" fill="none"/><rect x="2.5" y="59" width="58.5" height="5" fill="#fff" stroke="#b0b0b0" stroke-width="1"/><path d="M4.5 62h14" stroke="#444" stroke-width="1.6" stroke-dasharray="3 1 5 1 2 1" fill="none"/><path d="M26.5 26.5 L56 56 M56 26.5 L26.5 56" stroke="#990000" stroke-width="7.4" stroke-linecap="round"/></g>
<g transform="translate(656 146)" ><circle cx="28" cy="28" r="27.6" fill="url(#infob)" stroke="#0a4aa8" stroke-width="1"/><ellipse cx="28" cy="15" rx="21" ry="13.5" fill="url(#infoh)"/><circle cx="28" cy="12.6" r="6.4" fill="#fff"/><path d="M20 24.5 H33.6 V44 H36.6 V48.3 H19.6 V44 H24 V28.8 H20 Z" fill="#fff"/></g>
<g transform="translate(1244 142)" ><rect x="0.7" y="0.7" width="62.6" height="62.6" rx="9" fill="url(#ico)" stroke="#b9b9b9" stroke-width="1.4"/><path d="M3 39.5 H5.5 V9 Q30 9 60 39.5" fill="none" stroke="#2020c8" stroke-width="1.6"/><path d="M3.8 39.5 L4.4 33.5 L5.1 28.0 L5.7 23.2 L6.4 19.1 L7.0 15.9 L7.6 13.7 L8.3 12.5 L8.9 12.3 L9.6 13.1 L10.2 14.8 L10.8 17.3 L11.5 20.5 L12.1 24.2 L12.7 28.4 L13.4 32.7 L14.0 37.1 L14.7 41.4 L15.3 45.5 L15.9 49.2 L16.6 52.4 L17.2 55.0 L17.9 56.9 L18.5 58.1 L19.1 58.6 L19.8 58.4 L20.4 57.6 L21.1 56.1 L21.7 54.1 L22.3 51.7 L23.0 48.9 L23.6 45.9 L24.2 42.8 L24.9 39.8 L25.5 36.8 L26.2 34.1 L26.8 31.6 L27.4 29.6 L28.1 28.0 L28.7 26.8 L29.4 26.2 L30.0 26.1 L30.6 26.4 L31.3 27.2 L31.9 28.4 L32.5 30.0 L33.2 31.8 L33.8 33.8 L34.5 36.0 L35.1 38.1 L35.7 40.3 L36.4 42.3 L37.0 44.1 L37.7 45.7 L38.3 47.0 L38.9 48.0 L39.6 48.6 L40.2 48.9 L40.9 48.9 L41.5 48.5 L42.1 47.8 L42.8 46.8 L43.4 45.6 L44.0 44.3 L44.7 42.8 L45.3 41.3 L46.0 39.8 L46.6 38.3 L47.2 36.9 L47.9 35.7 L48.5 34.7 L49.2 33.9 L49.8 33.3 L50.4 33.0 L51.1 32.9 L51.7 33.0 L52.4 33.4 L53.0 34.0 L53.6 34.7 L54.3 35.6 L54.9 36.6 L55.5 37.7 L56.2 38.7 L56.8 39.8 L57.5 40.8 L58.1 41.7 L58.7 42.5 L59.4 43.2 L60.0 43.7 L60.7 44.0 L61.3 44.2" fill="none" stroke="#d01010" stroke-width="1.5"/></g>
<g transform="translate(1392 142)" ><rect x="0.7" y="0.7" width="62.6" height="62.6" rx="9" fill="url(#ico)" stroke="#b9b9b9" stroke-width="1.4"/></g>
<g transform="translate(1544 142)" ><rect x="0.7" y="0.7" width="62.6" height="62.6" rx="9" fill="url(#ico)" stroke="#b9b9b9" stroke-width="1.4"/><path d="M4.0 31.5 L4.9 34.2 L5.9 36.9 L6.8 39.5 L7.7 42.1 L8.7 44.5 L9.6 46.8 L10.5 48.9 L11.5 50.8 L12.4 52.5 L13.3 54.0 L14.3 55.3 L15.2 56.2 L16.1 56.9 L17.1 57.4 L18.0 57.5 L18.9 57.4 L19.9 56.9 L20.8 56.2 L21.7 55.3 L22.7 54.0 L23.6 52.5 L24.5 50.8 L25.5 48.9 L26.4 46.8 L27.3 44.5 L28.3 42.1 L29.2 39.5 L30.1 36.9 L31.1 34.2 L32.0 31.5 L32.9 28.8 L33.9 26.1 L34.8 23.5 L35.7 20.9 L36.7 18.5 L37.6 16.2 L38.5 14.1 L39.5 12.2 L40.4 10.5 L41.3 9.0 L42.3 7.7 L43.2 6.8 L44.1 6.1 L45.1 5.6 L46.0 5.5 L46.9 5.6 L47.9 6.1 L48.8 6.8 L49.7 7.7 L50.7 9.0 L51.6 10.5 L52.5 12.2 L53.5 14.1 L54.4 16.2 L55.3 18.5 L56.3 20.9 L57.2 23.5 L58.1 26.1 L59.1 28.8 L60.0 31.5 Z" fill="#b8b8ee" stroke="none" opacity="0.9"/><path d="M4.0 31.5 L4.9 34.2 L5.9 36.9 L6.8 39.5 L7.7 42.1 L8.7 44.5 L9.6 46.8 L10.5 48.9 L11.5 50.8 L12.4 52.5 L13.3 54.0 L14.3 55.3 L15.2 56.2 L16.1 56.9 L17.1 57.4 L18.0 57.5 L18.9 57.4 L19.9 56.9 L20.8 56.2 L21.7 55.3 L22.7 54.0 L23.6 52.5 L24.5 50.8 L25.5 48.9 L26.4 46.8 L27.3 44.5 L28.3 42.1 L29.2 39.5 L30.1 36.9 L31.1 34.2 L32.0 31.5 L32.9 28.8 L33.9 26.1 L34.8 23.5 L35.7 20.9 L36.7 18.5 L37.6 16.2 L38.5 14.1 L39.5 12.2 L40.4 10.5 L41.3 9.0 L42.3 7.7 L43.2 6.8 L44.1 6.1 L45.1 5.6 L46.0 5.5 L46.9 5.6 L47.9 6.1 L48.8 6.8 L49.7 7.7 L50.7 9.0 L51.6 10.5 L52.5 12.2 L53.5 14.1 L54.4 16.2 L55.3 18.5 L56.3 20.9 L57.2 23.5 L58.1 26.1 L59.1 28.8 L60.0 31.5" fill="none" stroke="#0a0ab8" stroke-width="2.2"/></g>
<g transform="translate(1674 142)" ><rect x="0.7" y="0.7" width="62.6" height="62.6" rx="9" fill="#ddd" stroke="#a8a8a8" stroke-width="1.2"/><rect x="3" y="3" width="58" height="58" rx="7" fill="#222"/><path d="M3.5 32 H60.5 M32 3.5 V60.5" stroke="#9a9a9a" stroke-width="1"/><path d="M4.0 32.0 L4.9 30.0 L5.9 27.9 L6.8 26.0 L7.7 24.1 L8.7 22.2 L9.6 20.5 L10.5 19.0 L11.5 17.5 L12.4 16.2 L13.3 15.1 L14.3 14.2 L15.2 13.5 L16.1 12.9 L17.1 12.6 L18.0 12.5 L18.9 12.6 L19.9 12.9 L20.8 13.5 L21.7 14.2 L22.7 15.1 L23.6 16.2 L24.5 17.5 L25.5 19.0 L26.4 20.5 L27.3 22.2 L28.3 24.1 L29.2 26.0 L30.1 27.9 L31.1 30.0 L32.0 32.0 L32.9 34.0 L33.9 36.1 L34.8 38.0 L35.7 39.9 L36.7 41.8 L37.6 43.5 L38.5 45.0 L39.5 46.5 L40.4 47.8 L41.3 48.9 L42.3 49.8 L43.2 50.5 L44.1 51.1 L45.1 51.4 L46.0 51.5 L46.9 51.4 L47.9 51.1 L48.8 50.5 L49.7 49.8 L50.7 48.9 L51.6 47.8 L52.5 46.5 L53.5 45.0 L54.4 43.5 L55.3 41.8 L56.3 39.9 L57.2 38.0 L58.1 36.1 L59.1 34.0 L60.0 32.0" fill="none" stroke="#d8d8d8" stroke-width="1.5"/></g>
<g transform="translate(1786 142)" ><rect x="0.7" y="0.7" width="62.6" height="62.6" rx="9" fill="url(#ico)" stroke="#b9b9b9" stroke-width="1.4"/><rect x="9.5" y="0.7" width="45" height="62.6" fill="#fff" opacity="0.85"/><rect x="10" y="3" width="11.5" height="58" fill="url(#lvl)" stroke="#5a5ae0" stroke-width="0.9"/><rect x="42.5" y="3" width="11.5" height="58" fill="url(#lvl)" stroke="#5a5ae0" stroke-width="0.9"/></g>
<g transform="translate(1912 142)" ><rect x="0.7" y="0.7" width="62.6" height="62.6" rx="9" fill="url(#ico)" stroke="#b9b9b9" stroke-width="1.4"/><path d="M2.5 19 C 9 1, 16 5, 24 21 S 38 27, 46 19 S 56 16, 61.5 19.5" fill="none" stroke="#b80808" stroke-width="1.9"/><path d="M2.5 35 C 9 17, 16 21, 24 37 S 38 43, 46 35 S 56 32, 61.5 35.5" fill="none" stroke="#0808c0" stroke-width="1.9"/><path d="M2.5 51 C 9 33, 16 37, 24 53 S 38 59, 46 51 S 56 48, 61.5 51.5" fill="none" stroke="#088008" stroke-width="1.9"/></g>
<g transform="translate(2032 142)" ><rect x="0.7" y="0.7" width="62.6" height="62.6" rx="9" fill="url(#ico)" stroke="#b9b9b9" stroke-width="1.4"/><rect x="6" y="28" width="6.2" height="31" fill="#0000b8"/><rect x="13" y="15" width="6.2" height="44" fill="#0000b8"/><rect x="20" y="14" width="6.2" height="45" fill="#0000b8"/><rect x="27" y="28" width="6.2" height="31" fill="#0000b8"/><rect x="34" y="41" width="6.2" height="18" fill="#0000b8"/><rect x="41" y="42" width="6.2" height="17" fill="#0000b8"/><rect x="48" y="29" width="6.2" height="30" fill="#0000b8"/></g>
<g transform="translate(2132 142)" ><rect x="0.7" y="0.7" width="62.6" height="62.6" rx="9" fill="url(#ico)" stroke="#b9b9b9" stroke-width="1.4"/><path d="M3 14.5 H25 V22.5 H13 V28 H24 V35.5 H13 V41.5 H25 V50 H3 Z" fill="#0000b8"/><circle cx="44.5" cy="32" r="15.2" fill="#00b0b0" stroke="#0000b8" stroke-width="6"/><path d="M49 42 L57 50 L61.5 45 L54 37.5 Z" fill="#00b0b0"/></g>
<g transform="translate(2242 142)" ><rect x="0.7" y="0.7" width="62.6" height="62.6" rx="9" fill="url(#ico)" stroke="#b9b9b9" stroke-width="1.4"/><rect x="10.1" y="13" width="1.9" height="36" fill="#b00000"/><rect x="15.6" y="19" width="1.9" height="30" fill="#c020c0"/><rect x="22.1" y="15" width="1.9" height="34" fill="#109010"/><rect x="26.1" y="19" width="1.9" height="30" fill="#c89000"/><rect x="34.1" y="17" width="1.9" height="32" fill="#2020d0"/><rect x="40.1" y="13" width="1.9" height="36" fill="#b00000"/><rect x="45.6" y="19" width="1.9" height="30" fill="#c89000"/><rect x="49.6" y="19" width="1.9" height="30" fill="#c020c0"/><path d="M9 49.5 H55" stroke="#333" stroke-width="1"/></g>
<g transform="translate(2866.5 141)" ><g transform="rotate(45 32 32)"><path d="M26 4 Q22 9 22 14.5 Q22 20 26.5 23 L27.5 30 L27 73 Q27 79.5 32 79.5 Q37 79.5 37 73 L36.5 30 L37.5 23 Q42 20 42 14.5 Q42 9 38 4 L38 13 Q35 16 32 16 Q29 16 26 13 Z" transform="translate(0 -6)" fill="url(#wr)" stroke="#555" stroke-width="1.1"/><path d="M30 32 L29.8 70 Q30 74 32 74 Q34 74 34.2 70 L34 32 Z" transform="translate(0 -6)" fill="#222"/><circle cx="32" cy="67.2" r="2.8" fill="#fff" stroke="#555" stroke-width="0.8"/><rect x="29" y="20" width="6" height="5" fill="#345" stroke="#222" stroke-width="0.5"/></g></g>
<path d="M2961 281.5 L2979 298.5 M2979 281.5 L2961 298.5" stroke="#444" stroke-width="6.2"/>
<circle cx="380" cy="364.5" r="14.6" fill="#00000022"/><circle cx="380" cy="363.5" r="14.4" fill="url(#redb)" stroke="#8a0f08" stroke-width="1.2"/><path d="M374 357.5l12 12m0 -12l-12 12" stroke="#fff" stroke-width="4.6" stroke-linecap="round"/>
<rect x="367" y="404" width="27" height="28" fill="#3a3a3a" stroke="#222" stroke-width="1"/><rect x="372" y="404.5" width="17" height="12" fill="#e8eef4"/><path d="M374 408h13M374 412h13" stroke="#a8b8c8" stroke-width="1.2"/><rect x="374" y="422" width="14" height="10" fill="#b8b8b8"/><rect x="376" y="424" width="4" height="7" fill="#222"/><path d="M365 431 L368.5 423 L385 405.5 L389.5 409 L372.5 427.5 Z" fill="#f0b818" stroke="#7a5a08" stroke-width="1"/><path d="M365 431 L368.5 423 L372.5 427.5 Z" fill="#e8d0a0" stroke="#7a5a08" stroke-width="0.8"/><path d="M365 431l1.5 -3.4 l2 2.4z" fill="#222"/><path d="M383 407.5 L385 405.5 L389.5 409 L387.5 411.2 Z" fill="#d02020"/>
<path d="M393.5 452.0 Q395 453.0 394 455.0 L382 472.5 Q379 475.5 377.5 473.5 Q377 471.5 379 469.0 Z" fill="#1a1a1a"/><path d="M378.5 471.0 L381 473.5 L374.5 480.0 L371 481.0 L373.5 477.0 Z" fill="#c8a050" stroke="#8a6a28" stroke-width="0.6"/><rect x="365" y="481.0" width="26.5" height="4" fill="#dd1111"/>
<g opacity="0.8"><path d="M367 504.5 H384 L392 512 V520 H367 Z" fill="#9a9a9a" stroke="#7a7a7a" stroke-width="1"/></g>
<circle cx="380" cy="552.5" r="14.6" fill="#00000022"/><circle cx="380" cy="551.5" r="14.4" fill="url(#redb)" stroke="#8a0f08" stroke-width="1.2"/><path d="M374 545.5l12 12m0 -12l-12 12" stroke="#fff" stroke-width="4.6" stroke-linecap="round"/>
<rect x="367" y="592" width="27" height="28" fill="#3a3a3a" stroke="#222" stroke-width="1"/><rect x="372" y="592.5" width="17" height="12" fill="#e8eef4"/><path d="M374 596h13M374 600h13" stroke="#a8b8c8" stroke-width="1.2"/><rect x="374" y="610" width="14" height="10" fill="#b8b8b8"/><rect x="376" y="612" width="4" height="7" fill="#222"/><path d="M365 619 L368.5 611 L385 593.5 L389.5 597 L372.5 615.5 Z" fill="#f0b818" stroke="#7a5a08" stroke-width="1"/><path d="M365 619 L368.5 611 L372.5 615.5 Z" fill="#e8d0a0" stroke="#7a5a08" stroke-width="0.8"/><path d="M365 619l1.5 -3.4 l2 2.4z" fill="#222"/><path d="M383 595.5 L385 593.5 L389.5 597 L387.5 599.2 Z" fill="#d02020"/>
<path d="M393.5 640.0 Q395 641.0 394 643.0 L382 660.5 Q379 663.5 377.5 661.5 Q377 659.5 379 657.0 Z" fill="#1a1a1a"/><path d="M378.5 659.0 L381 661.5 L374.5 668.0 L371 669.0 L373.5 665.0 Z" fill="#c8a050" stroke="#8a6a28" stroke-width="0.6"/><rect x="365" y="669.0" width="26.5" height="4" fill="#189a28"/>
<path d="M367 693 H385 L393 701 V723 H367 Z" fill="#8e8e8e" stroke="#6e6e6e" stroke-width="1.2"/><path d="M385 693 V701 H393 Z" fill="#c4c4c4" stroke="#6e6e6e" stroke-width="1"/><path d="M370 700.0h13" stroke="#6a6a6a" stroke-width="1.6"/><path d="M370 703.8h20" stroke="#6a6a6a" stroke-width="1.6"/><path d="M370 707.6h20" stroke="#6a6a6a" stroke-width="1.6"/><path d="M370 711.4h20" stroke="#6a6a6a" stroke-width="1.6"/><path d="M370 715.2h20" stroke="#6a6a6a" stroke-width="1.6"/><path d="M370 719.0h20" stroke="#6a6a6a" stroke-width="1.6"/>
<path d="M346.5 513 L418 513" stroke="#c6c6c6" stroke-width="3.5"/><rect x="348" y="514.8" width="68.3" height="12" fill="#fff"/>
<g transform="translate(480 332)" ><path d="M3 6 Q3 4 6 4 H56 Q59.5 4 59.5 7 V38 Q59.5 41.5 56 41.5 H6 Q0.5 30 3 6 Z" fill="url(#cam)" stroke="#b4b4b4" stroke-width="1"/><rect x="10" y="1" width="10" height="3.5" rx="1.5" fill="#d8d8d8" stroke="#b0b0b0" stroke-width="0.6"/><rect x="44" y="5.5" width="12" height="4" rx="2" fill="#fff" stroke="#c0c0c0" stroke-width="0.6"/><path d="M3 6 Q0.5 30 6 41.5 Q12 30 9 5 Z" fill="#fff" opacity="0.8"/><circle cx="39.5" cy="24" r="15" fill="url(#lens)" stroke="#9a9a9a" stroke-width="1"/><circle cx="39.5" cy="24" r="5" fill="#15153a"/><circle cx="38" cy="22.5" r="1.6" fill="#8090d0"/></g>
<rect x="2463.5" y="330.5" width="58.0" height="34.0" fill="#fff" stroke="#c4c4c4" stroke-width="1.3" />
<rect x="2449.8" y="340.0" width="8.0" height="17.0" fill="#c0c0c0" />
<rect x="2478.0" y="370.0" width="29.0" height="7.5" fill="#c0c0c0" />
<rect x="2583.0" y="331.0" width="70.5" height="46.0" fill="#fff" stroke="#c0c0c0" stroke-width="2" />
<line x1="2609.0" y1="331.0" x2="2609.0" y2="377.0" stroke="#c0c0c0" stroke-width="1.8" />
<line x1="2625.0" y1="331.0" x2="2625.0" y2="377.0" stroke="#c0c0c0" stroke-width="1.8" />
<line x1="2637.0" y1="331.0" x2="2637.0" y2="377.0" stroke="#c0c0c0" stroke-width="1.8" />
<line x1="2645.0" y1="331.0" x2="2645.0" y2="377.0" stroke="#c0c0c0" stroke-width="1.8" />
<rect x="2694.5" y="330.5" width="71.0" height="47.0" fill="#fff" stroke="#c4c4c4" stroke-width="1.3" />
<g fill="none" stroke="#111" stroke-width="2"><path d="M2730 333.5 V345 M2723.5 340 L2730 333.5 L2736.5 340"/><path d="M2730 374.5 V363 M2723.5 368 L2730 374.5 L2736.5 368"/><path d="M2697 354 H2709.5 M2703.5 347.5 L2697 354 L2703.5 360.5"/><path d="M2763 354 H2750.5 M2756.5 347.5 L2763 354 L2756.5 360.5"/></g>
<g transform="translate(2931.8 354)" fill="url(#gear)" stroke="#8a8a94" stroke-width="0.8"><rect x="-3.6" y="-23" width="7.2" height="9" rx="1.5" transform="rotate(0.0)"/><rect x="-3.6" y="-23" width="7.2" height="9" rx="1.5" transform="rotate(30.0)"/><rect x="-3.6" y="-23" width="7.2" height="9" rx="1.5" transform="rotate(60.0)"/><rect x="-3.6" y="-23" width="7.2" height="9" rx="1.5" transform="rotate(90.0)"/><rect x="-3.6" y="-23" width="7.2" height="9" rx="1.5" transform="rotate(120.0)"/><rect x="-3.6" y="-23" width="7.2" height="9" rx="1.5" transform="rotate(150.0)"/><rect x="-3.6" y="-23" width="7.2" height="9" rx="1.5" transform="rotate(180.0)"/><rect x="-3.6" y="-23" width="7.2" height="9" rx="1.5" transform="rotate(210.0)"/><rect x="-3.6" y="-23" width="7.2" height="9" rx="1.5" transform="rotate(240.0)"/><rect x="-3.6" y="-23" width="7.2" height="9" rx="1.5" transform="rotate(270.0)"/><rect x="-3.6" y="-23" width="7.2" height="9" rx="1.5" transform="rotate(300.0)"/><rect x="-3.6" y="-23" width="7.2" height="9" rx="1.5" transform="rotate(330.0)"/><circle r="18" /><circle r="10.3" fill="#f6f6f6" stroke="#8a8a94"/></g><circle cx="2931.8" cy="354" r="14" fill="none" stroke="url(#gear)" stroke-width="7.4"/><circle cx="2931.8" cy="354" r="10.2" fill="#f6f6f6" stroke="#85858f" stroke-width="1"/>
</svg>
<div id="txt">
<div class="t" style="left:1471.4px;top:89.9px;font-size:26px;color:#4a4a4c;font-weight:bold;letter-spacing:0.37px;">REW V5.31.3</div>
<div class="t" style="left:138.5px;top:215.6px;font-size:26px;color:#222;letter-spacing:-0.29px;">Measure</div>
<div class="t" style="left:274.5px;top:215.6px;font-size:26px;color:#222;letter-spacing:-0.13px;">Open</div>
<div class="t" style="left:374.5px;top:215.6px;font-size:26px;color:#222;letter-spacing:-0.30px;">Save all</div>
<div class="t" style="left:502.7px;top:215.6px;font-size:26px;color:#222;letter-spacing:-0.15px;">Remove all</div>
<div class="t" style="left:665.0px;top:215.6px;font-size:26px;color:#222;letter-spacing:-0.54px;">Info</div>
<div class="t" style="left:1209.0px;top:215.6px;font-size:26px;color:#222;letter-spacing:0.05px;">IR windows</div>
<div class="t" style="left:1364.3px;top:215.6px;font-size:26px;color:#222;letter-spacing:-0.16px;">SPL meter</div>
<div class="t" style="left:1520.6px;top:215.6px;font-size:26px;color:#222;letter-spacing:-0.33px;">Generator</div>
<div class="t" style="left:1670.0px;top:215.6px;font-size:26px;color:#222;letter-spacing:0.04px;">Scope</div>
<div class="t" style="left:1781.4px;top:215.6px;font-size:26px;color:#222;letter-spacing:-0.31px;">Levels</div>
<div class="t" style="left:1892.5px;top:215.6px;font-size:26px;color:#222;letter-spacing:-0.05px;">Overlays</div>
<div class="t" style="left:2040.8px;top:215.6px;font-size:26px;color:#222;letter-spacing:-0.50px;">RTA</div>
<div class="t" style="left:2146.7px;top:215.6px;font-size:26px;color:#222;letter-spacing:-1.63px;">EQ</div>
<div class="t" style="left:2217.0px;top:215.6px;font-size:26px;color:#222;letter-spacing:-0.06px;">Room sim</div>
<div class="t" style="left:2829.0px;top:215.6px;font-size:26px;color:#222;letter-spacing:-0.43px;">Preferences</div>
<div class="t" style="left:570.5px;top:273.4px;font-size:34px;color:#222;letter-spacing:0.25px;white-space:pre;">REW is free software, but if you can afford to please </div>
<div class="t" style="left:1377.3px;top:273.4px;font-size:34px;color:#4a86e0;letter-spacing:0.33px;text-decoration:underline;text-decoration-thickness:2px;text-underline-offset:4px;">click here</div>
<div class="t" style="left:1524.2px;top:273.4px;font-size:34px;color:#222;letter-spacing:0.32px;white-space:pre;"> to make a donation to help support its continuing development</div>
<div class="t" style="left:580.0px;top:362.0px;font-size:26px;color:#222;letter-spacing:-0.37px;">SPL &amp; Phase</div>
<div class="t" style="left:762.0px;top:362.0px;font-size:26px;color:#222;letter-spacing:-0.42px;">All SPL</div>
<div class="t" style="left:876.7px;top:362.0px;font-size:26px;color:#222;letter-spacing:-0.05px;">Distortion</div>
<div class="t" style="left:1018.7px;top:362.0px;font-size:26px;color:#222;">Impulse</div>
<div class="t" style="left:1142.5px;top:362.0px;font-size:26px;color:#222;letter-spacing:-0.22px;">Filtered IR</div>
<div class="t" style="left:1292.0px;top:362.0px;font-size:26px;color:#222;letter-spacing:-0.35px;">GD</div>
<div class="t" style="left:1362.8px;top:362.0px;font-size:26px;color:#222;letter-spacing:-1.05px;">RT60</div>
<div class="t" style="left:1454.5px;top:362.0px;font-size:26px;color:#222;letter-spacing:-0.38px;">RT60 Decay</div>
<div class="t" style="left:1628.5px;top:362.0px;font-size:26px;color:#222;letter-spacing:-0.22px;">Clarity</div>
<div class="t" style="left:1734.8px;top:362.0px;font-size:26px;color:#222;letter-spacing:-0.46px;">Decay</div>
<div class="t" style="left:1840.4px;top:362.0px;font-size:26px;color:#222;letter-spacing:-0.11px;">Waterfall</div>
<div class="t" style="left:1974.4px;top:362.0px;font-size:26px;color:#222;letter-spacing:-0.20px;">Spectrogram</div>
<div class="t" style="left:464.0px;top:385.6px;font-size:26px;color:#222;letter-spacing:-0.13px;">Capture</div>
<div class="t" style="left:2428.6px;top:389.5px;font-size:26px;color:#222;letter-spacing:-0.15px;">Scrollbars</div>
<div class="t" style="left:2561.0px;top:389.5px;font-size:26px;color:#222;letter-spacing:0.01px;white-space:pre;">Freq. Axis</div>
<div class="t" style="left:2697.0px;top:389.5px;font-size:26px;color:#222;letter-spacing:-0.05px;">Limits</div>
<div class="t" style="left:2884.7px;top:389.5px;font-size:26px;color:#222;letter-spacing:-0.33px;">Controls</div>
<div class="t" style="left:126.5px;top:331.5px;font-size:26px;color:#222;letter-spacing:-0.03px;">Expand</div>
<div class="t" style="left:160.0px;top:913.5px;font-size:26px;color:#222;letter-spacing:-0.23px;">Change Cal...</div>
<div class="t" style="left:119.3px;top:1677.5px;font-size:26px;color:#222;letter-spacing:-0.09px;">219/426MB</div>
<div class="t" style="left:307.6px;top:1677.5px;font-size:26px;color:#222;">48 kHz</div>
<div class="t" style="left:408.7px;top:1677.5px;font-size:26px;color:#222;letter-spacing:0.35px;">16-bit in, 16-bit out</div>
<div class="t" style="left:1359.0px;top:1677.5px;font-size:26px;color:#222;letter-spacing:0.10px;">Peak input before clipping 120 dB SPL (uncalibrated)</div>
<div class="t" style="left:1994.7px;top:1677.5px;font-size:26px;color:#222;letter-spacing:0.17px;">Right click &amp; drag to pan; Ctrl+Right click &amp; drag to measure; mouse wheel to zoom;</div>
<div class="t" style="left:920.6px;top:1611.0px;font-size:26px;color:#1c8a2c;letter-spacing:-0.19px;">R Nov 29</div>
<div class="t" style="left:1578.5px;top:1611.0px;font-size:26px;color:#1c8a2c;letter-spacing:0.35px;">dB</div>
<div class="t" style="left:1756.0px;top:1611.0px;font-size:26px;color:#b4b4b4;letter-spacing:-0.74px;">T60M</div>
<div class="t" style="left:2434.5px;top:1611.0px;font-size:26px;color:#b4b4b4;">s</div>
<div class="t" style="left:139.9px;top:409.0px;font-size:26px;color:#222;text-decoration:underline;text-decoration-thickness:2px;">1</div>
<div class="t" style="left:156.9px;top:409.0px;font-size:26px;color:#333;letter-spacing:-0.16px;">L Nov 29</div>
<div class="t" style="left:139.9px;top:596.5px;font-size:26px;color:#222;text-decoration:underline;text-decoration-thickness:2px;">2</div>
<div class="t" style="left:156.9px;top:596.5px;font-size:26px;color:#333;letter-spacing:-0.31px;">R Nov 29</div>
<div class="t" style="left:138.0px;top:706.5px;font-size:26px;color:#333;">20</div>
<div class="t" style="left:282.0px;top:706.5px;font-size:26px;color:#333;letter-spacing:-1.22px;">20.0k</div>
<div class="t" style="left:533.5px;top:488.8px;font-size:26px;color:#222;">0</div>
<div class="t" style="left:510.4px;top:561.6px;font-size:26px;color:#222;">-10</div>
<div class="t" style="left:510.4px;top:634.4px;font-size:26px;color:#222;">-20</div>
<div class="t" style="left:510.4px;top:707.2px;font-size:26px;color:#222;">-30</div>
<div class="t" style="left:510.4px;top:780.0px;font-size:26px;color:#222;">-40</div>
<div class="t" style="left:510.4px;top:852.8px;font-size:26px;color:#222;">-50</div>
<div class="t" style="left:514.4px;top:431.8px;font-size:26px;color:#222;letter-spacing:0.50px;">dB</div>
<div class="t" style="left:502.0px;top:959.0px;font-size:26px;color:#222;letter-spacing:-1.05px;">SPL</div>
<div class="t" style="left:2852.8px;top:959.5px;font-size:26px;color:#222;">s</div>
<div class="t" style="left:591.8px;top:950.0px;font-size:26px;color:#222;">0</div>
<div class="t" style="left:687.4px;top:950.0px;font-size:26px;color:#222;">50m</div>
<div class="t" style="left:793.8px;top:950.0px;font-size:26px;color:#222;">100m</div>
<div class="t" style="left:907.5px;top:950.0px;font-size:26px;color:#222;">150m</div>
<div class="t" style="left:1021.2px;top:950.0px;font-size:26px;color:#222;">200m</div>
<div class="t" style="left:1134.9px;top:950.0px;font-size:26px;color:#222;">250m</div>
<div class="t" style="left:1248.6px;top:950.0px;font-size:26px;color:#222;">300m</div>
<div class="t" style="left:1362.2px;top:950.0px;font-size:26px;color:#222;">350m</div>
<div class="t" style="left:1475.9px;top:950.0px;font-size:26px;color:#222;">400m</div>
<div class="t" style="left:1589.6px;top:950.0px;font-size:26px;color:#222;">450m</div>
<div class="t" style="left:1703.3px;top:950.0px;font-size:26px;color:#222;">500m</div>
<div class="t" style="left:1817.0px;top:950.0px;font-size:26px;color:#222;">550m</div>
<div class="t" style="left:1930.6px;top:950.0px;font-size:26px;color:#222;">600m</div>
<div class="t" style="left:2044.3px;top:950.0px;font-size:26px;color:#222;">650m</div>
<div class="t" style="left:2158.0px;top:950.0px;font-size:26px;color:#222;">700m</div>
<div class="t" style="left:2271.7px;top:950.0px;font-size:26px;color:#222;">750m</div>
<div class="t" style="left:2385.4px;top:950.0px;font-size:26px;color:#222;">800m</div>
<div class="t" style="left:2499.0px;top:950.0px;font-size:26px;color:#222;">850m</div>
<div class="t" style="left:2612.7px;top:950.0px;font-size:26px;color:#222;">900m</div>
<div class="t" style="left:2726.4px;top:950.0px;font-size:26px;color:#222;">950m</div>
<div class="t" style="left:2376.5px;top:493.7px;font-size:26px;color:#222;letter-spacing:0.06px;">No data</div>
<div class="t" style="left:2580.5px;top:493.7px;font-size:26px;color:#222;letter-spacing:0.26px;white-space:pre;">Classic: No data</div>
<div class="t" style="left:2337.0px;top:533.3px;font-size:26px;color:#333;letter-spacing:-0.15px;white-space:pre;">Model T60</div>
<div class="t" style="left:2468.6px;top:533.3px;font-size:26px;color:#333;letter-spacing:-0.48px;">N/A</div>
<div class="t" style="left:2534.6px;top:533.3px;font-size:26px;color:#333;letter-spacing:0.07px;white-space:pre;">EDT  0..-10 dB</div>
<div class="t" style="left:2719.0px;top:533.3px;font-size:26px;color:#333;letter-spacing:-0.45px;">N/A</div>
<div class="t" style="left:2337.0px;top:572.2px;font-size:26px;color:#222;letter-spacing:-0.25px;white-space:pre;">Level (dB)</div>
<div class="t" style="left:2468.6px;top:572.2px;font-size:26px;color:#222;letter-spacing:-0.48px;">N/A</div>
<div class="t" style="left:2534.6px;top:572.2px;font-size:26px;color:#222;letter-spacing:0.16px;white-space:pre;">T20 -5..-25 dB</div>
<div class="t" style="left:2719.0px;top:572.2px;font-size:26px;color:#222;letter-spacing:-0.45px;">N/A</div>
<div class="t" style="left:2337.0px;top:611.8px;font-size:26px;color:#333;letter-spacing:-0.28px;white-space:pre;">Noise (dB)</div>
<div class="t" style="left:2468.6px;top:611.8px;font-size:26px;color:#333;letter-spacing:-0.48px;">N/A</div>
<div class="t" style="left:2534.6px;top:611.8px;font-size:26px;color:#333;letter-spacing:0.16px;white-space:pre;">T30 -5..-35 dB</div>
<div class="t" style="left:2719.0px;top:611.8px;font-size:26px;color:#333;letter-spacing:-0.45px;">N/A</div>
<div class="t" style="left:2337.0px;top:650.3px;font-size:26px;color:#222;letter-spacing:0.30px;white-space:pre;">Model fit</div>
<div class="t" style="left:2468.6px;top:650.3px;font-size:26px;color:#222;letter-spacing:-0.48px;">N/A</div>
<div class="t" style="left:2534.6px;top:650.3px;font-size:26px;color:#222;letter-spacing:0.56px;white-space:pre;">Topt</div>
<div class="t" style="left:2719.0px;top:650.3px;font-size:26px;color:#222;letter-spacing:-0.45px;">N/A</div>
<div class="t" style="left:518.7px;top:1494.6px;font-size:26px;color:#222;">20</div>
<div class="t" style="left:518.7px;top:1450.7px;font-size:26px;color:#222;">25</div>
<div class="t" style="left:518.7px;top:1406.9px;font-size:26px;color:#222;">30</div>
<div class="t" style="left:518.7px;top:1363.0px;font-size:26px;color:#222;">35</div>
<div class="t" style="left:518.7px;top:1319.1px;font-size:26px;color:#222;">40</div>
<div class="t" style="left:518.7px;top:1275.2px;font-size:26px;color:#222;">45</div>
<div class="t" style="left:518.7px;top:1231.4px;font-size:26px;color:#222;">50</div>
<div class="t" style="left:518.7px;top:1187.5px;font-size:26px;color:#222;">55</div>
<div class="t" style="left:518.7px;top:1143.6px;font-size:26px;color:#222;">60</div>
<div class="t" style="left:518.7px;top:1099.8px;font-size:26px;color:#222;">65</div>
<div class="t" style="left:518.7px;top:1055.9px;font-size:26px;color:#222;">70</div>
<div class="t" style="left:518.7px;top:1012.0px;font-size:26px;color:#222;">75</div>
<div class="t" style="left:673.3px;top:1526.0px;font-size:26px;color:#222;">30</div>
<div class="t" style="left:768.9px;top:1526.0px;font-size:26px;color:#222;">40</div>
<div class="t" style="left:843.1px;top:1526.0px;font-size:26px;color:#222;">50</div>
<div class="t" style="left:903.7px;top:1526.0px;font-size:26px;color:#222;">60</div>
<div class="t" style="left:954.9px;top:1526.0px;font-size:26px;color:#222;">70</div>
<div class="t" style="left:999.3px;top:1526.0px;font-size:26px;color:#222;">80</div>
<div class="t" style="left:1066.3px;top:1526.0px;font-size:26px;color:#222;">100</div>
<div class="t" style="left:1296.6px;top:1526.0px;font-size:26px;color:#222;">200</div>
<div class="t" style="left:1431.4px;top:1526.0px;font-size:26px;color:#222;">300</div>
<div class="t" style="left:1527.0px;top:1526.0px;font-size:26px;color:#222;">400</div>
<div class="t" style="left:1601.2px;top:1526.0px;font-size:26px;color:#222;">500</div>
<div class="t" style="left:1661.8px;top:1526.0px;font-size:26px;color:#222;">600</div>
<div class="t" style="left:1757.4px;top:1526.0px;font-size:26px;color:#222;">800</div>
<div class="t" style="left:1839.5px;top:1526.0px;font-size:26px;color:#222;">1k</div>
<div class="t" style="left:2069.9px;top:1526.0px;font-size:26px;color:#222;">2k</div>
<div class="t" style="left:2204.7px;top:1526.0px;font-size:26px;color:#222;">3k</div>
<div class="t" style="left:2300.3px;top:1526.0px;font-size:26px;color:#222;">4k</div>
<div class="t" style="left:2374.5px;top:1526.0px;font-size:26px;color:#222;">5k</div>
<div class="t" style="left:2435.1px;top:1526.0px;font-size:26px;color:#222;">6k</div>
<div class="t" style="left:2486.3px;top:1526.0px;font-size:26px;color:#222;">7k</div>
<div class="t" style="left:2530.7px;top:1526.0px;font-size:26px;color:#222;">8k</div>
<div class="t" style="left:2597.6px;top:1526.0px;font-size:26px;color:#222;">10k</div>
<div class="t" style="left:2809.8px;top:1526.0px;font-size:26px;color:#222;letter-spacing:-0.38px;">20kHz</div>
<div class="t" style="left:527.0px;top:1524.5px;font-size:26px;color:#0000ee;letter-spacing:-0.40px;">20.0</div>
<div class="t" style="left:2852.8px;top:1450.1px;font-size:26px;color:#222;">100m</div>
<div class="t" style="left:2852.8px;top:1397.6px;font-size:26px;color:#222;">200m</div>
<div class="t" style="left:2852.8px;top:1345.1px;font-size:26px;color:#222;">300m</div>
<div class="t" style="left:2852.8px;top:1292.6px;font-size:26px;color:#222;">400m</div>
<div class="t" style="left:2852.8px;top:1240.1px;font-size:26px;color:#222;">500m</div>
<div class="t" style="left:2852.8px;top:1187.6px;font-size:26px;color:#222;">600m</div>
<div class="t" style="left:2852.8px;top:1135.1px;font-size:26px;color:#222;">700m</div>
<div class="t" style="left:2852.8px;top:1082.6px;font-size:26px;color:#222;">800m</div>
<div class="t" style="left:2852.8px;top:1030.1px;font-size:26px;color:#222;">900m</div>
<div class="t" style="left:1190.5px;top:995.3px;font-size:26px;color:#333;letter-spacing:0.28px;white-space:pre;">502 ms range, 500 ms window, 10 ms rise time, 2.0 ms steps,  2.0 Hz resn, t = 502 ms</div>
<div class="t" style="left:2416.6px;top:1079.7px;font-size:17.5px;color:#484848;">0</div>
<div class="t" style="left:2476.2px;top:1112.1px;font-size:20.1px;color:#484848;">100</div>
<div class="t" style="left:2556.7px;top:1147.8px;font-size:21.3px;color:#484848;">200</div>
<div class="t" style="left:2638.7px;top:1186.6px;font-size:22.5px;color:#484848;">300</div>
<div class="t" style="left:2719.3px;top:1225.5px;font-size:23.6px;color:#484848;">400</div>
<div class="t" style="left:2802.0px;top:1266.6px;font-size:24.6px;color:#484848;">500</div>
<div class="t" style="left:565.0px;top:1477.5px;font-size:26px;color:#222;letter-spacing:-0.43px;">Generate</div>
<div class="t" style="left:652.9px;top:1675.8px;font-size:28px;color:#5b8fe0;font-family:'Liberation Mono', monospace;font-style:italic;letter-spacing:0.25px;">0000</div>
<div class="t" style="left:732.6px;top:1675.8px;font-size:28px;color:#5b8fe0;font-family:'Liberation Mono', monospace;font-style:italic;letter-spacing:0.25px;">0000</div>
<div class="t" style="left:822.3px;top:1675.8px;font-size:28px;color:#5b8fe0;font-family:'Liberation Mono', monospace;font-style:italic;letter-spacing:0.25px;">0000</div>
<div class="t" style="left:902.0px;top:1675.8px;font-size:28px;color:#5b8fe0;font-family:'Liberation Mono', monospace;font-style:italic;letter-spacing:0.25px;">0000</div>
<div class="t" style="left:991.8px;top:1675.8px;font-size:28px;color:#5b8fe0;font-family:'Liberation Mono', monospace;font-style:italic;letter-spacing:0.25px;">0000</div>
<div class="t" style="left:1072.2px;top:1675.8px;font-size:28px;color:#5b8fe0;font-family:'Liberation Mono', monospace;font-style:italic;letter-spacing:0.25px;">0000</div>
<div class="t" style="left:1162.0px;top:1675.8px;font-size:28px;color:#5b8fe0;font-family:'Liberation Mono', monospace;font-style:italic;letter-spacing:0.25px;">0000</div>
<div class="t" style="left:1242.3px;top:1675.8px;font-size:28px;color:#5b8fe0;font-family:'Liberation Mono', monospace;font-style:italic;letter-spacing:0.25px;">0000</div>
<div class="t" style="left:1394.6px;top:150.9px;font-size:15.5px;color:#111;letter-spacing:1.02px;">dB SPL</div>
<div class="t" style="left:1406.0px;top:170.9px;font-size:32px;color:#000;font-weight:bold;letter-spacing:1.00px;">83</div>
<div class="t" style="left:1814.0px;top:147.2px;font-size:15.5px;color:#111;">0</div>
<div class="t" style="left:1814.0px;top:160.1px;font-size:15.5px;color:#111;">3</div>
<div class="t" style="left:1814.0px;top:173.0px;font-size:15.5px;color:#111;">6</div>
<div class="t" style="left:1814.0px;top:186.0px;font-size:15.5px;color:#111;">9</div>
</div>
</body></html>
